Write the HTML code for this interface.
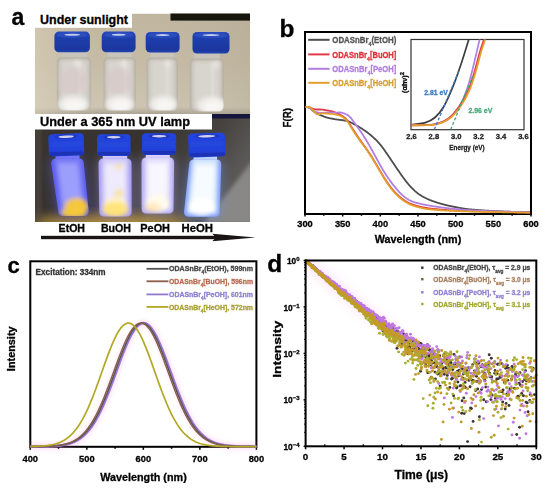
<!DOCTYPE html><html><head><meta charset="utf-8"><style>html,body{margin:0;padding:0;background:#fff;width:550px;height:492px;overflow:hidden}svg{display:block;filter:blur(0.45px)}text{font-family:"Liberation Sans",sans-serif}</style></head><body>
<svg width="550" height="492" viewBox="0 0 550 492">
<defs>
<filter id="bl1" x="-20%" y="-20%" width="140%" height="140%"><feGaussianBlur stdDeviation="0.8"/></filter>
<filter id="bl2" x="-30%" y="-30%" width="160%" height="160%"><feGaussianBlur stdDeviation="2"/></filter>
<filter id="bl4" x="-50%" y="-50%" width="200%" height="200%"><feGaussianBlur stdDeviation="4"/></filter>
<filter id="bl6" x="-50%" y="-50%" width="200%" height="200%"><feGaussianBlur stdDeviation="6"/></filter>
<linearGradient id="bg1" x1="0" y1="0" x2="0" y2="1">
 <stop offset="0" stop-color="#c0b6a0"/><stop offset="0.5" stop-color="#c6bca6"/><stop offset="0.93" stop-color="#cec6b2"/><stop offset="1" stop-color="#aaa292"/>
</linearGradient>
<linearGradient id="bg2" x1="0" y1="0" x2="1" y2="0.35">
 <stop offset="0" stop-color="#3a3430"/><stop offset="0.5" stop-color="#36322f"/><stop offset="0.8" stop-color="#45423f"/><stop offset="1" stop-color="#5a5856"/>
</linearGradient>
<linearGradient id="bg1r" x1="0" y1="0" x2="1" y2="0">
 <stop offset="0" stop-color="#dcd2bc" stop-opacity="0.55"/><stop offset="0.3" stop-color="#c8c0b0" stop-opacity="0"/><stop offset="1" stop-color="#a89e8a" stop-opacity="0.3"/>
</linearGradient>
<filter id="bl07" x="-20%" y="-20%" width="140%" height="140%"><feGaussianBlur stdDeviation="0.7"/></filter>
<linearGradient id="cap" x1="0" y1="0" x2="0" y2="1">
 <stop offset="0" stop-color="#2a48bc"/><stop offset="0.3" stop-color="#1f3eac"/><stop offset="0.85" stop-color="#1a379e"/><stop offset="1" stop-color="#2444b0"/>
</linearGradient>
<linearGradient id="capuv" x1="0" y1="0" x2="0" y2="1">
 <stop offset="0" stop-color="#2444e0"/><stop offset="0.7" stop-color="#2242dc"/><stop offset="1" stop-color="#1e3ac8"/>
</linearGradient>
</defs>
<text x="11.50" y="24.80" font-size="23.00" fill="#000" text-anchor="start" font-weight="bold" stroke="#000" stroke-width="0.30" >a</text>
<clipPath id="p1"><rect x="35" y="13.6" width="215" height="100.4"/></clipPath>
<g clip-path="url(#p1)">
<rect x="35" y="13.6" width="215" height="100.4" fill="url(#bg1)"/>
<rect x="35" y="13.6" width="215" height="100.4" fill="url(#bg1r)"/>
<rect x="170.5" y="12" width="82" height="8.6" fill="#15120f" filter="url(#bl07)"/>
<clipPath id="v1c1"><rect x="56.8" y="57.3" width="34.3" height="53.2" rx="5" ry="5"/></clipPath>
<g filter="url(#bl07)">
<rect x="60.8" y="51.3" width="26.3" height="7.0" fill="#c8c4bc"/>
<rect x="56.8" y="57.3" width="34.3" height="53.2" rx="5" ry="5" fill="#b4aea2"/>
</g>
<g clip-path="url(#v1c1)">
<g filter="url(#bl1)">
<rect x="58.3" y="58.8" width="31.3" height="50.2" rx="4" fill="#cfcbc3"/>
<rect x="61.8" y="61.3" width="24.3" height="45.2" rx="4" fill="#d8d4ce"/>
<rect x="78.1" y="61.3" width="3.0" height="37.2" fill="#e2dfda" opacity="0.8"/>
</g><g filter="url(#bl2)">
<ellipse cx="72.2" cy="81.3" rx="14.1" ry="13.0" fill="#d8c4c8" opacity="0.5"/>
<ellipse cx="73.2" cy="104.5" rx="15.1" ry="9.0" fill="#efedea"/>
<ellipse cx="74.2" cy="105.5" rx="10.1" ry="5.5" fill="#f8f7f4"/>
<ellipse cx="77.2" cy="63.3" rx="3.0" ry="3.0" fill="#eeece8" opacity="0.9"/>
</g></g>
<g filter="url(#bl07)">
<rect x="54.4" y="31.6" width="35.5" height="20.7" rx="4.5" fill="url(#cap)"/>
<ellipse cx="72.2" cy="35.0" rx="15.3" ry="3.0" fill="#3050c0" opacity="0.8"/>
<ellipse cx="72.2" cy="34.8" rx="7.8" ry="1.0" fill="#d8e0f8" opacity="0.85"/>
</g>
<clipPath id="v1c2"><rect x="103.5" y="57.3" width="32.3" height="53.3" rx="5" ry="5"/></clipPath>
<g filter="url(#bl07)">
<rect x="107.5" y="51.3" width="24.3" height="7.0" fill="#c8c4bc"/>
<rect x="103.5" y="57.3" width="32.3" height="53.3" rx="5" ry="5" fill="#b4aea2"/>
</g>
<g clip-path="url(#v1c2)">
<g filter="url(#bl1)">
<rect x="105.0" y="58.8" width="29.3" height="50.3" rx="4" fill="#cfcbc3"/>
<rect x="108.5" y="61.3" width="22.3" height="45.3" rx="4" fill="#d8d4ce"/>
<rect x="123.5" y="61.3" width="3.0" height="37.3" fill="#e2dfda" opacity="0.8"/>
</g><g filter="url(#bl2)">
<ellipse cx="118.7" cy="81.3" rx="13.2" ry="13.0" fill="#d8c4c8" opacity="0.5"/>
<ellipse cx="119.7" cy="104.6" rx="14.2" ry="9.0" fill="#efedea"/>
<ellipse cx="120.7" cy="105.6" rx="9.2" ry="5.5" fill="#f8f7f4"/>
<ellipse cx="123.7" cy="63.3" rx="3.0" ry="3.0" fill="#eeece8" opacity="0.9"/>
</g></g>
<g filter="url(#bl07)">
<rect x="101.7" y="31.6" width="33.9" height="20.7" rx="4.5" fill="url(#cap)"/>
<ellipse cx="118.7" cy="35.0" rx="14.4" ry="3.0" fill="#3050c0" opacity="0.8"/>
<ellipse cx="118.7" cy="34.8" rx="6.9" ry="1.0" fill="#d8e0f8" opacity="0.85"/>
</g>
<clipPath id="v1c3"><rect x="146.5" y="57.6" width="31.3" height="53.0" rx="5" ry="5"/></clipPath>
<g filter="url(#bl07)">
<rect x="150.5" y="51.6" width="23.3" height="7.0" fill="#c8c4bc"/>
<rect x="146.5" y="57.6" width="31.3" height="53.0" rx="5" ry="5" fill="#b4aea2"/>
</g>
<g clip-path="url(#v1c3)">
<g filter="url(#bl1)">
<rect x="148.0" y="59.1" width="28.3" height="50.0" rx="4" fill="#cfcbc3"/>
<rect x="151.5" y="61.6" width="21.3" height="45.0" rx="4" fill="#d8d4ce"/>
<rect x="165.9" y="61.6" width="3.0" height="37.0" fill="#e2dfda" opacity="0.8"/>
</g><g filter="url(#bl2)">
<ellipse cx="163.6" cy="104.6" rx="13.7" ry="9.0" fill="#efedea"/>
<ellipse cx="164.6" cy="105.6" rx="8.7" ry="5.5" fill="#f8f7f4"/>
<ellipse cx="167.6" cy="63.6" rx="3.0" ry="3.0" fill="#eeece8" opacity="0.9"/>
</g></g>
<g filter="url(#bl07)">
<rect x="145.7" y="31.9" width="33.9" height="20.7" rx="4.5" fill="url(#cap)"/>
<ellipse cx="162.6" cy="35.3" rx="14.5" ry="3.0" fill="#3050c0" opacity="0.8"/>
<ellipse cx="162.6" cy="35.1" rx="7.0" ry="1.0" fill="#d8e0f8" opacity="0.85"/>
</g>
<clipPath id="v1c4"><rect x="189.8" y="58.6" width="33.8" height="53.0" rx="5" ry="5"/></clipPath>
<g filter="url(#bl07)">
<rect x="193.8" y="52.6" width="25.8" height="7.0" fill="#c8c4bc"/>
<rect x="189.8" y="58.6" width="33.8" height="53.0" rx="5" ry="5" fill="#b4aea2"/>
</g>
<g clip-path="url(#v1c4)">
<g filter="url(#bl1)">
<rect x="191.3" y="60.1" width="30.8" height="50.0" rx="4" fill="#cfcbc3"/>
<rect x="194.8" y="62.6" width="23.8" height="45.0" rx="4" fill="#d8d4ce"/>
<rect x="210.8" y="62.6" width="3.0" height="37.0" fill="#e2dfda" opacity="0.8"/>
</g><g filter="url(#bl2)">
<ellipse cx="212.0" cy="105.6" rx="14.9" ry="9.0" fill="#efedea"/>
<ellipse cx="213.0" cy="106.6" rx="9.9" ry="5.5" fill="#f8f7f4"/>
<ellipse cx="216.0" cy="64.6" rx="3.0" ry="3.0" fill="#eeece8" opacity="0.9"/>
</g></g>
<g filter="url(#bl07)">
<rect x="192.5" y="31.9" width="37.0" height="21.7" rx="4.5" fill="url(#cap)"/>
<ellipse cx="211.0" cy="35.3" rx="16.0" ry="3.0" fill="#3050c0" opacity="0.8"/>
<ellipse cx="211.0" cy="35.1" rx="8.5" ry="1.0" fill="#d8e0f8" opacity="0.85"/>
</g>
</g>
<rect x="35" y="0" width="97" height="27.8" fill="#fff"/>
<text x="40.00" y="23.60" font-size="13.20" fill="#000" text-anchor="start" font-weight="bold" textLength="88.0" lengthAdjust="spacingAndGlyphs" stroke="#000" stroke-width="0.30" >Under sunlight</text>
<clipPath id="p2"><rect x="35" y="114" width="215" height="108"/></clipPath>
<g clip-path="url(#p2)">
<rect x="35" y="114" width="215" height="108" fill="url(#bg2)"/>
<path d="M203,224 L253,160 L253,224 Z" fill="#8a8886" filter="url(#bl2)"/>
<rect x="212" y="114" width="40" height="4.5" fill="#16163c"/>
<ellipse cx="110" cy="223" rx="80" ry="8" fill="#e0b040" opacity="0.75" filter="url(#bl6)"/>
<rect x="35" y="114" width="6" height="108" fill="#5a524a" opacity="0.5" filter="url(#bl2)"/>
<rect x="55.5" y="154.0" width="24.0" height="6.5" fill="#7a7cf6" filter="url(#bl07)"/>
<path d="M56.5,158.5 Q51.2,158.5 51.2,163.5 L58.2,211.0 Q58.2,216.0 63.2,216.0 L83.7,216.0 Q88.7,216.0 88.7,211.0 L83.8,163.5 Q83.8,158.5 78.5,158.5 Z" fill="#6062ff" opacity="0.55" filter="url(#bl6)"/>
<clipPath id="v2c5"><path d="M56.5,158.5 Q51.2,158.5 51.2,163.5 L58.2,211.0 Q58.2,216.0 63.2,216.0 L83.7,216.0 Q88.7,216.0 88.7,211.0 L83.8,163.5 Q83.8,158.5 78.5,158.5 Z"/></clipPath>
<path d="M56.5,158.5 Q51.2,158.5 51.2,163.5 L58.2,211.0 Q58.2,216.0 63.2,216.0 L83.7,216.0 Q88.7,216.0 88.7,211.0 L83.8,163.5 Q83.8,158.5 78.5,158.5 Z" fill="#5a5cec" filter="url(#bl07)"/>
<g clip-path="url(#v2c5)"><g filter="url(#bl2)">
<path d="M54.0,156.5 L81.0,156.5 L86.2,213.5 L60.7,213.5 Z" fill="#7a7cf6"/>
<path d="M57.5,163.5 L77.5,163.5 L82.7,211.0 L64.2,211.0 Z" fill="#9c9efc"/>
<ellipse cx="76.5" cy="206.8" rx="12.0" ry="9.0" fill="#f6c83a" opacity="0.95"/>
<ellipse cx="73.5" cy="213.1" rx="13.0" ry="5.0" fill="#f6c83a" opacity="0.95"/>
<ellipse cx="79.5" cy="203.3" rx="5.0" ry="4.0" fill="#f6c83a" opacity="0.90"/>
</g></g>
<g filter="url(#bl07)">
<g transform="rotate(-2.0 66.3 144.8)">
<rect x="48.6" y="133.7" width="35.4" height="22.3" rx="4" fill="url(#capuv)"/>
<ellipse cx="66.3" cy="136.7" rx="11.7" ry="2.4" fill="#1a30b0" opacity="0.5"/>
<ellipse cx="66.3" cy="136.7" rx="7.7" ry="1.3" fill="#dcd8f0" opacity="0.95"/>
<rect x="50.6" y="141.7" width="31.4" height="5.0" fill="#3450d8" opacity="0.35"/>
<rect x="49.6" y="152.0" width="33.4" height="3.0" fill="#1a2ca0" opacity="0.6"/>
</g></g>
<rect x="102.8" y="154.0" width="24.4" height="6.5" fill="#d4cefa" filter="url(#bl07)"/>
<path d="M103.8,158.5 Q98.5,158.5 98.5,163.5 L99.3,211.5 Q99.3,216.5 104.3,216.5 L126.6,216.5 Q131.6,216.5 131.6,211.5 L131.5,163.5 Q131.5,158.5 126.2,158.5 Z" fill="#a898ff" opacity="0.55" filter="url(#bl6)"/>
<clipPath id="v2c6"><path d="M103.8,158.5 Q98.5,158.5 98.5,163.5 L99.3,211.5 Q99.3,216.5 104.3,216.5 L126.6,216.5 Q131.6,216.5 131.6,211.5 L131.5,163.5 Q131.5,158.5 126.2,158.5 Z"/></clipPath>
<path d="M103.8,158.5 Q98.5,158.5 98.5,163.5 L99.3,211.5 Q99.3,216.5 104.3,216.5 L126.6,216.5 Q131.6,216.5 131.6,211.5 L131.5,163.5 Q131.5,158.5 126.2,158.5 Z" fill="#a098f2" filter="url(#bl07)"/>
<g clip-path="url(#v2c6)"><g filter="url(#bl2)">
<path d="M101.3,156.5 L128.7,156.5 L129.1,214.0 L101.8,214.0 Z" fill="#d4cefa"/>
<path d="M104.8,163.5 L125.2,163.5 L125.6,211.5 L105.3,211.5 Z" fill="#efeafc"/>
<ellipse cx="115.4" cy="206.5" rx="12.1" ry="9.0" fill="#fff4c8"/>
<ellipse cx="118.7" cy="166.6" rx="3.5" ry="2.5" fill="#ffe070" opacity="0.70"/>
<ellipse cx="118.7" cy="193.3" rx="5.0" ry="4.0" fill="#ffe070" opacity="0.60"/>
<ellipse cx="115.4" cy="209.5" rx="13.0" ry="8.0" fill="#ffe070" opacity="0.85"/>
</g></g>
<g filter="url(#bl07)">
<g transform="rotate(0.0 113.8 145.1)">
<rect x="97.0" y="134.2" width="33.6" height="21.8" rx="4" fill="url(#capuv)"/>
<ellipse cx="113.8" cy="137.2" rx="10.8" ry="2.4" fill="#1a30b0" opacity="0.5"/>
<ellipse cx="113.8" cy="137.2" rx="6.8" ry="1.3" fill="#dcd8f0" opacity="0.95"/>
<rect x="99.0" y="142.2" width="29.6" height="5.0" fill="#3450d8" opacity="0.35"/>
<rect x="98.0" y="152.0" width="31.6" height="3.0" fill="#1a2ca0" opacity="0.6"/>
</g></g>
<rect x="145.8" y="153.0" width="24.0" height="6.5" fill="#e2dcfb" filter="url(#bl07)"/>
<path d="M146.8,157.5 Q141.5,157.5 141.5,162.5 L141.6,208.5 Q141.6,213.5 146.6,213.5 L168.5,213.5 Q173.5,213.5 173.5,208.5 L174.1,162.5 Q174.1,157.5 168.8,157.5 Z" fill="#b0a8ff" opacity="0.55" filter="url(#bl6)"/>
<clipPath id="v2c7"><path d="M146.8,157.5 Q141.5,157.5 141.5,162.5 L141.6,208.5 Q141.6,213.5 146.6,213.5 L168.5,213.5 Q173.5,213.5 173.5,208.5 L174.1,162.5 Q174.1,157.5 168.8,157.5 Z"/></clipPath>
<path d="M146.8,157.5 Q141.5,157.5 141.5,162.5 L141.6,208.5 Q141.6,213.5 146.6,213.5 L168.5,213.5 Q173.5,213.5 173.5,208.5 L174.1,162.5 Q174.1,157.5 168.8,157.5 Z" fill="#b0a8f4" filter="url(#bl07)"/>
<g clip-path="url(#v2c7)"><g filter="url(#bl2)">
<path d="M144.3,155.5 L171.3,155.5 L171.0,211.0 L144.1,211.0 Z" fill="#e2dcfb"/>
<path d="M147.8,162.5 L167.8,162.5 L167.5,208.5 L147.6,208.5 Z" fill="#f8f6fe"/>
<ellipse cx="157.6" cy="203.5" rx="12.0" ry="9.0" fill="#fffbea"/>
<ellipse cx="152.8" cy="207.9" rx="8.0" ry="5.0" fill="#ffd890" opacity="0.50"/>
</g></g>
<g filter="url(#bl07)">
<g transform="rotate(0.0 159.1 144.1)">
<rect x="142.0" y="133.2" width="34.2" height="21.8" rx="4" fill="url(#capuv)"/>
<ellipse cx="159.1" cy="136.2" rx="11.1" ry="2.4" fill="#1a30b0" opacity="0.5"/>
<ellipse cx="159.1" cy="136.2" rx="7.1" ry="1.3" fill="#dcd8f0" opacity="0.95"/>
<rect x="144.0" y="141.2" width="30.2" height="5.0" fill="#3450d8" opacity="0.35"/>
<rect x="143.0" y="151.0" width="32.2" height="3.0" fill="#1a2ca0" opacity="0.6"/>
</g></g>
<rect x="193.5" y="155.0" width="23.5" height="6.5" fill="#d4e6fd" filter="url(#bl07)"/>
<path d="M194.5,159.5 Q189.2,159.5 189.2,164.5 L184.0,211.8 Q184.0,216.8 189.0,216.8 L214.7,216.8 Q219.7,216.8 219.7,211.8 L221.3,164.5 Q221.3,159.5 216.0,159.5 Z" fill="#6a90ff" opacity="0.55" filter="url(#bl6)"/>
<clipPath id="v2c8"><path d="M194.5,159.5 Q189.2,159.5 189.2,164.5 L184.0,211.8 Q184.0,216.8 189.0,216.8 L214.7,216.8 Q219.7,216.8 219.7,211.8 L221.3,164.5 Q221.3,159.5 216.0,159.5 Z"/></clipPath>
<path d="M194.5,159.5 Q189.2,159.5 189.2,164.5 L184.0,211.8 Q184.0,216.8 189.0,216.8 L214.7,216.8 Q219.7,216.8 219.7,211.8 L221.3,164.5 Q221.3,159.5 216.0,159.5 Z" fill="#7c9af6" filter="url(#bl07)"/>
<g clip-path="url(#v2c8)"><g filter="url(#bl2)">
<path d="M192.0,157.5 L218.5,157.5 L217.2,214.3 L186.5,214.3 Z" fill="#d4e6fd"/>
<path d="M195.5,164.5 L215.0,164.5 L213.7,211.8 L190.0,211.8 Z" fill="#f6fbff"/>
<ellipse cx="201.8" cy="206.8" rx="13.8" ry="9.0" fill="#ffffff"/>
</g></g>
<g filter="url(#bl07)">
<g transform="rotate(-1.5 206.9 145.1)">
<rect x="188.4" y="133.2" width="36.9" height="23.8" rx="4" fill="url(#capuv)"/>
<ellipse cx="206.9" cy="136.2" rx="12.5" ry="2.4" fill="#1a30b0" opacity="0.5"/>
<ellipse cx="206.9" cy="136.2" rx="8.5" ry="1.3" fill="#dcd8f0" opacity="0.95"/>
<rect x="190.4" y="141.2" width="32.9" height="5.0" fill="#3450d8" opacity="0.35"/>
<rect x="189.4" y="153.0" width="34.9" height="3.0" fill="#1a2ca0" opacity="0.6"/>
</g></g>
</g>
<rect x="35" y="114" width="177" height="15.5" fill="#fff"/>
<text x="40.00" y="126.40" font-size="13.20" fill="#000" text-anchor="start" font-weight="bold" textLength="150.0" lengthAdjust="spacingAndGlyphs" stroke="#000" stroke-width="0.30" >Under a 365 nm UV lamp</text>
<text x="58.60" y="232.20" font-size="10.60" fill="#000" text-anchor="start" font-weight="bold" textLength="26.4" lengthAdjust="spacingAndGlyphs" stroke="#000" stroke-width="0.30" >EtOH</text>
<text x="100.90" y="232.20" font-size="10.60" fill="#000" text-anchor="start" font-weight="bold" textLength="30.0" lengthAdjust="spacingAndGlyphs" stroke="#000" stroke-width="0.30" >BuOH</text>
<text x="140.30" y="232.20" font-size="10.60" fill="#000" text-anchor="start" font-weight="bold" textLength="29.7" lengthAdjust="spacingAndGlyphs" stroke="#000" stroke-width="0.30" >PeOH</text>
<text x="181.50" y="232.20" font-size="10.60" fill="#000" text-anchor="start" font-weight="bold" textLength="31.5" lengthAdjust="spacingAndGlyphs" stroke="#000" stroke-width="0.30" >HeOH</text>
<rect x="41" y="235.8" width="175" height="3.4" fill="#1a1414"/>
<path d="M212.3,233.7 L255.5,237.4 L212.3,241.3 L216,237.4 Z" fill="#1a1414"/>
<text x="279.60" y="37.00" font-size="24.50" fill="#000" text-anchor="start" font-weight="bold" stroke="#000" stroke-width="0.30" >b</text>
<rect x="305.0" y="32.0" width="226.0" height="182.0" fill="none" stroke="#000" stroke-width="2"/>
<line x1="305.00" y1="214.0" x2="305.00" y2="216.5" stroke="#000" stroke-width="1.5"/>
<line x1="323.83" y1="214.0" x2="323.83" y2="215.8" stroke="#000" stroke-width="1.5"/>
<line x1="342.67" y1="214.0" x2="342.67" y2="216.5" stroke="#000" stroke-width="1.5"/>
<line x1="361.50" y1="214.0" x2="361.50" y2="215.8" stroke="#000" stroke-width="1.5"/>
<line x1="380.33" y1="214.0" x2="380.33" y2="216.5" stroke="#000" stroke-width="1.5"/>
<line x1="399.17" y1="214.0" x2="399.17" y2="215.8" stroke="#000" stroke-width="1.5"/>
<line x1="418.00" y1="214.0" x2="418.00" y2="216.5" stroke="#000" stroke-width="1.5"/>
<line x1="436.83" y1="214.0" x2="436.83" y2="215.8" stroke="#000" stroke-width="1.5"/>
<line x1="455.67" y1="214.0" x2="455.67" y2="216.5" stroke="#000" stroke-width="1.5"/>
<line x1="474.50" y1="214.0" x2="474.50" y2="215.8" stroke="#000" stroke-width="1.5"/>
<line x1="493.33" y1="214.0" x2="493.33" y2="216.5" stroke="#000" stroke-width="1.5"/>
<line x1="512.17" y1="214.0" x2="512.17" y2="215.8" stroke="#000" stroke-width="1.5"/>
<line x1="531.00" y1="214.0" x2="531.00" y2="216.5" stroke="#000" stroke-width="1.5"/>
<text x="305.00" y="227.40" font-size="9.80" fill="#000" text-anchor="middle" font-weight="bold" textLength="15.5" lengthAdjust="spacingAndGlyphs" stroke="#000" stroke-width="0.30" >300</text>
<text x="342.67" y="227.40" font-size="9.80" fill="#000" text-anchor="middle" font-weight="bold" textLength="15.5" lengthAdjust="spacingAndGlyphs" stroke="#000" stroke-width="0.30" >350</text>
<text x="380.33" y="227.40" font-size="9.80" fill="#000" text-anchor="middle" font-weight="bold" textLength="15.5" lengthAdjust="spacingAndGlyphs" stroke="#000" stroke-width="0.30" >400</text>
<text x="418.00" y="227.40" font-size="9.80" fill="#000" text-anchor="middle" font-weight="bold" textLength="15.5" lengthAdjust="spacingAndGlyphs" stroke="#000" stroke-width="0.30" >450</text>
<text x="455.67" y="227.40" font-size="9.80" fill="#000" text-anchor="middle" font-weight="bold" textLength="15.5" lengthAdjust="spacingAndGlyphs" stroke="#000" stroke-width="0.30" >500</text>
<text x="493.33" y="227.40" font-size="9.80" fill="#000" text-anchor="middle" font-weight="bold" textLength="15.5" lengthAdjust="spacingAndGlyphs" stroke="#000" stroke-width="0.30" >550</text>
<text x="531.00" y="227.40" font-size="9.80" fill="#000" text-anchor="middle" font-weight="bold" textLength="15.5" lengthAdjust="spacingAndGlyphs" stroke="#000" stroke-width="0.30" >600</text>
<text x="418.00" y="243.40" font-size="11.00" fill="#000" text-anchor="middle" font-weight="bold" textLength="86.5" lengthAdjust="spacingAndGlyphs" stroke="#000" stroke-width="0.30" >Wavelength (nm)</text>
<g transform="translate(291.2,117.7) rotate(-90)">
<text x="0.00" y="0.00" font-size="10.50" fill="#000" text-anchor="middle" font-weight="bold" textLength="19.4" lengthAdjust="spacingAndGlyphs" stroke="#000" stroke-width="0.30" >F(R)</text>
</g>
<path d="M305.50,106.96 L306.00,107.01 L306.50,107.07 L307.00,107.14 L307.50,107.22 L308.00,107.33 L308.50,107.45 L309.00,107.61 L309.50,107.82 L310.00,108.09 L310.50,108.43 L311.00,108.83 L311.50,109.28 L312.00,109.76 L312.50,110.25 L313.00,110.74 L313.50,111.21 L314.00,111.65 L314.50,112.05 L315.00,112.41 L315.50,112.72 L316.00,113.01 L316.50,113.27 L317.00,113.52 L317.50,113.77 L318.00,114.02 L318.50,114.26 L319.00,114.50 L319.50,114.73 L320.00,114.95 L320.50,115.17 L321.00,115.37 L321.50,115.57 L322.00,115.77 L322.50,115.96 L323.00,116.16 L323.50,116.35 L324.00,116.54 L324.50,116.73 L325.00,116.92 L325.50,117.11 L326.00,117.29 L326.50,117.46 L327.00,117.61 L327.50,117.74 L328.00,117.87 L328.50,117.98 L329.00,118.08 L329.50,118.18 L330.00,118.27 L330.50,118.37 L331.00,118.47 L331.50,118.56 L332.00,118.66 L332.50,118.75 L333.00,118.85 L333.50,118.94 L334.00,119.04 L334.50,119.13 L335.00,119.23 L335.50,119.31 L336.00,119.40 L336.50,119.48 L337.00,119.55 L337.50,119.61 L338.00,119.67 L338.50,119.73 L339.00,119.79 L339.50,119.84 L340.00,119.90 L340.50,119.96 L341.00,120.01 L341.50,120.07 L342.00,120.13 L342.50,120.19 L343.00,120.26 L343.50,120.33 L344.00,120.41 L344.50,120.50 L345.00,120.59 L345.50,120.69 L346.00,120.79 L346.50,120.90 L347.00,121.01 L347.50,121.14 L348.00,121.29 L348.50,121.46 L349.00,121.65 L349.50,121.86 L350.00,122.08 L350.50,122.32 L351.00,122.56 L351.50,122.81 L352.00,123.06 L352.50,123.32 L353.00,123.59 L353.50,123.85 L354.00,124.12 L354.50,124.40 L355.00,124.67 L355.50,124.95 L356.00,125.22 L356.50,125.51 L357.00,125.79 L357.50,126.08 L358.00,126.37 L358.50,126.65 L359.00,126.94 L359.50,127.24 L360.00,127.54 L360.50,127.84 L361.00,128.14 L361.50,128.45 L362.00,128.76 L362.50,129.08 L363.00,129.41 L363.50,129.74 L364.00,130.07 L364.50,130.41 L365.00,130.76 L365.50,131.11 L366.00,131.47 L366.50,131.84 L367.00,132.21 L367.50,132.58 L368.00,132.97 L368.50,133.35 L369.00,133.75 L369.50,134.15 L370.00,134.56 L370.50,134.97 L371.00,135.39 L371.50,135.81 L372.00,136.24 L372.50,136.68 L373.00,137.13 L373.50,137.58 L374.00,138.04 L374.50,138.51 L375.00,138.98 L375.50,139.47 L376.00,139.96 L376.50,140.46 L377.00,140.97 L377.50,141.50 L378.00,142.03 L378.50,142.58 L379.00,143.14 L379.50,143.72 L380.00,144.30 L380.50,144.91 L381.00,145.53 L381.50,146.16 L382.00,146.80 L382.50,147.46 L383.00,148.14 L383.50,148.83 L384.00,149.52 L384.50,150.23 L385.00,150.95 L385.50,151.67 L386.00,152.40 L386.50,153.13 L387.00,153.87 L387.50,154.61 L388.00,155.36 L388.50,156.10 L389.00,156.84 L389.50,157.59 L390.00,158.33 L390.50,159.07 L391.00,159.81 L391.50,160.55 L392.00,161.29 L392.50,162.03 L393.00,162.77 L393.50,163.51 L394.00,164.25 L394.50,164.99 L395.00,165.72 L395.50,166.46 L396.00,167.20 L396.50,167.93 L397.00,168.67 L397.50,169.40 L398.00,170.13 L398.50,170.86 L399.00,171.58 L399.50,172.31 L400.00,173.03 L400.50,173.74 L401.00,174.45 L401.50,175.16 L402.00,175.86 L402.50,176.56 L403.00,177.25 L403.50,177.93 L404.00,178.61 L404.50,179.28 L405.00,179.95 L405.50,180.60 L406.00,181.25 L406.50,181.89 L407.00,182.51 L407.50,183.13 L408.00,183.74 L408.50,184.34 L409.00,184.93 L409.50,185.50 L410.00,186.07 L410.50,186.62 L411.00,187.16 L411.50,187.69 L412.00,188.21 L412.50,188.72 L413.00,189.21 L413.50,189.69 L414.00,190.16 L414.50,190.62 L415.00,191.07 L415.50,191.50 L416.00,191.92 L416.50,192.33 L417.00,192.73 L417.50,193.12 L418.00,193.50 L418.50,193.86 L419.00,194.22 L419.50,194.56 L420.00,194.90 L420.50,195.23 L421.00,195.55 L421.50,195.86 L422.00,196.16 L422.50,196.45 L423.00,196.74 L423.50,197.02 L424.00,197.29 L424.50,197.55 L425.00,197.81 L425.50,198.06 L426.00,198.30 L426.50,198.54 L427.00,198.77 L427.50,198.99 L428.00,199.21 L428.50,199.42 L429.00,199.63 L429.50,199.83 L430.00,200.04 L430.50,200.23 L431.00,200.43 L431.50,200.62 L432.00,200.80 L432.50,200.99 L433.00,201.17 L433.50,201.35 L434.00,201.52 L434.50,201.70 L435.00,201.87 L435.50,202.04 L436.00,202.21 L436.50,202.37 L437.00,202.53 L437.50,202.69 L438.00,202.85 L438.50,203.01 L439.00,203.16 L439.50,203.31 L440.00,203.46 L440.50,203.61 L441.00,203.76 L441.50,203.90 L442.00,204.04 L442.50,204.18 L443.00,204.32 L443.50,204.45 L444.00,204.58 L444.50,204.71 L445.00,204.84 L445.50,204.96 L446.00,205.09 L446.50,205.20 L447.00,205.32 L447.50,205.44 L448.00,205.55 L448.50,205.66 L449.00,205.77 L449.50,205.87 L450.00,205.98 L450.50,206.08 L451.00,206.19 L451.50,206.29 L452.00,206.39 L452.50,206.50 L453.00,206.60 L453.50,206.70 L454.00,206.80 L454.50,206.90 L455.00,207.00 L455.50,207.10 L456.00,207.20 L456.50,207.30 L457.00,207.40 L457.50,207.49 L458.00,207.59 L458.50,207.69 L459.00,207.79 L459.50,207.88 L460.00,207.98 L460.50,208.07 L461.00,208.16 L461.50,208.25 L462.00,208.34 L462.50,208.42 L463.00,208.51 L463.50,208.59 L464.00,208.66 L464.50,208.74 L465.00,208.81 L465.50,208.88 L466.00,208.94 L466.50,209.01 L467.00,209.07 L467.50,209.12 L468.00,209.18 L468.50,209.23 L469.00,209.28 L469.50,209.33 L470.00,209.38 L470.50,209.42 L471.00,209.47 L471.50,209.51 L472.00,209.55 L472.50,209.59 L473.00,209.64 L473.50,209.68 L474.00,209.72 L474.50,209.76 L475.00,209.80 L475.50,209.84 L476.00,209.88 L476.50,209.92 L477.00,209.96 L477.50,210.00 L478.00,210.04 L478.50,210.08 L479.00,210.12 L479.50,210.16 L480.00,210.19 L480.50,210.23 L481.00,210.27 L481.50,210.31 L482.00,210.34 L482.50,210.38 L483.00,210.42 L483.50,210.45 L484.00,210.49 L484.50,210.52 L485.00,210.55 L485.50,210.58 L486.00,210.62 L486.50,210.65 L487.00,210.68 L487.50,210.71 L488.00,210.73 L488.50,210.76 L489.00,210.79 L489.50,210.82 L490.00,210.84 L490.50,210.87 L491.00,210.90 L491.50,210.92 L492.00,210.95 L492.50,210.97 L493.00,211.00 L493.50,211.02 L494.00,211.05 L494.50,211.07 L495.00,211.10 L495.50,211.12 L496.00,211.15 L496.50,211.17 L497.00,211.20 L497.50,211.22 L498.00,211.25 L498.50,211.27 L499.00,211.30 L499.50,211.32 L500.00,211.35 L500.50,211.37 L501.00,211.39 L501.50,211.42 L502.00,211.44 L502.50,211.46 L503.00,211.49 L503.50,211.51 L504.00,211.53 L504.50,211.55 L505.00,211.57 L505.50,211.59 L506.00,211.61 L506.50,211.63 L507.00,211.65 L507.50,211.67 L508.00,211.69 L508.50,211.70 L509.00,211.72 L509.50,211.74 L510.00,211.76 L510.50,211.77 L511.00,211.79 L511.50,211.81 L512.00,211.82 L512.50,211.84 L513.00,211.86 L513.50,211.87 L514.00,211.89 L514.50,211.90 L515.00,211.92 L515.50,211.94 L516.00,211.95 L516.50,211.97 L517.00,211.98 L517.50,212.00 L518.00,212.02 L518.50,212.03 L519.00,212.05 L519.50,212.06 L520.00,212.08 L520.50,212.09 L521.00,212.11 L521.50,212.12 L522.00,212.14 L522.50,212.15 L523.00,212.17 L523.50,212.18 L524.00,212.19 L524.50,212.20 L525.00,212.22 L525.50,212.23 L526.00,212.24 L526.50,212.25 L527.00,212.26 L527.50,212.27 L528.00,212.27 L528.50,212.28 L529.00,212.29 L529.50,212.30 L530.00,212.30" fill="none" stroke="#4d4d4d" stroke-width="1.8" stroke-linejoin="round"/>
<path d="M305.50,106.93 L306.00,106.97 L306.50,107.02 L307.00,107.07 L307.50,107.14 L308.00,107.22 L308.50,107.30 L309.00,107.38 L309.50,107.47 L310.00,107.58 L310.50,107.71 L311.00,107.87 L311.50,108.05 L312.00,108.26 L312.50,108.48 L313.00,108.71 L313.50,108.92 L314.00,109.11 L314.50,109.26 L315.00,109.36 L315.50,109.43 L316.00,109.47 L316.50,109.49 L317.00,109.50 L317.50,109.50 L318.00,109.50 L318.50,109.50 L319.00,109.50 L319.50,109.50 L320.00,109.51 L320.50,109.52 L321.00,109.53 L321.50,109.56 L322.00,109.60 L322.50,109.66 L323.00,109.73 L323.50,109.80 L324.00,109.89 L324.50,109.97 L325.00,110.06 L325.50,110.15 L326.00,110.23 L326.50,110.32 L327.00,110.41 L327.50,110.49 L328.00,110.58 L328.50,110.67 L329.00,110.76 L329.50,110.84 L330.00,110.93 L330.50,111.02 L331.00,111.11 L331.50,111.22 L332.00,111.33 L332.50,111.46 L333.00,111.61 L333.50,111.79 L334.00,111.97 L334.50,112.17 L335.00,112.38 L335.50,112.59 L336.00,112.80 L336.50,113.01 L337.00,113.23 L337.50,113.44 L338.00,113.66 L338.50,113.87 L339.00,114.10 L339.50,114.34 L340.00,114.60 L340.50,114.87 L341.00,115.16 L341.50,115.46 L342.00,115.77 L342.50,116.09 L343.00,116.41 L343.50,116.75 L344.00,117.11 L344.50,117.51 L345.00,117.95 L345.50,118.43 L346.00,118.95 L346.50,119.52 L347.00,120.13 L347.50,120.78 L348.00,121.47 L348.50,122.19 L349.00,122.95 L349.50,123.73 L350.00,124.53 L350.50,125.34 L351.00,126.15 L351.50,126.96 L352.00,127.78 L352.50,128.58 L353.00,129.39 L353.50,130.18 L354.00,130.97 L354.50,131.76 L355.00,132.53 L355.50,133.30 L356.00,134.06 L356.50,134.81 L357.00,135.55 L357.50,136.29 L358.00,137.02 L358.50,137.75 L359.00,138.47 L359.50,139.19 L360.00,139.91 L360.50,140.62 L361.00,141.32 L361.50,142.02 L362.00,142.71 L362.50,143.41 L363.00,144.10 L363.50,144.79 L364.00,145.48 L364.50,146.18 L365.00,146.88 L365.50,147.58 L366.00,148.29 L366.50,149.00 L367.00,149.72 L367.50,150.45 L368.00,151.18 L368.50,151.92 L369.00,152.67 L369.50,153.43 L370.00,154.20 L370.50,154.97 L371.00,155.75 L371.50,156.54 L372.00,157.33 L372.50,158.14 L373.00,158.95 L373.50,159.76 L374.00,160.59 L374.50,161.42 L375.00,162.25 L375.50,163.09 L376.00,163.93 L376.50,164.78 L377.00,165.63 L377.50,166.49 L378.00,167.34 L378.50,168.20 L379.00,169.06 L379.50,169.92 L380.00,170.78 L380.50,171.63 L381.00,172.48 L381.50,173.33 L382.00,174.17 L382.50,175.01 L383.00,175.83 L383.50,176.65 L384.00,177.47 L384.50,178.27 L385.00,179.06 L385.50,179.84 L386.00,180.61 L386.50,181.37 L387.00,182.11 L387.50,182.85 L388.00,183.57 L388.50,184.28 L389.00,184.97 L389.50,185.66 L390.00,186.33 L390.50,186.98 L391.00,187.62 L391.50,188.25 L392.00,188.87 L392.50,189.47 L393.00,190.06 L393.50,190.63 L394.00,191.19 L394.50,191.74 L395.00,192.28 L395.50,192.80 L396.00,193.31 L396.50,193.81 L397.00,194.30 L397.50,194.78 L398.00,195.25 L398.50,195.71 L399.00,196.15 L399.50,196.59 L400.00,197.01 L400.50,197.43 L401.00,197.83 L401.50,198.23 L402.00,198.61 L402.50,198.98 L403.00,199.35 L403.50,199.70 L404.00,200.05 L404.50,200.39 L405.00,200.72 L405.50,201.03 L406.00,201.35 L406.50,201.65 L407.00,201.94 L407.50,202.22 L408.00,202.50 L408.50,202.76 L409.00,203.02 L409.50,203.26 L410.00,203.49 L410.50,203.72 L411.00,203.93 L411.50,204.14 L412.00,204.33 L412.50,204.52 L413.00,204.70 L413.50,204.87 L414.00,205.03 L414.50,205.19 L415.00,205.35 L415.50,205.49 L416.00,205.64 L416.50,205.78 L417.00,205.91 L417.50,206.05 L418.00,206.18 L418.50,206.31 L419.00,206.43 L419.50,206.56 L420.00,206.68 L420.50,206.80 L421.00,206.92 L421.50,207.03 L422.00,207.15 L422.50,207.26 L423.00,207.36 L423.50,207.47 L424.00,207.56 L424.50,207.66 L425.00,207.75 L425.50,207.84 L426.00,207.92 L426.50,208.00 L427.00,208.08 L427.50,208.15 L428.00,208.22 L428.50,208.28 L429.00,208.35 L429.50,208.41 L430.00,208.47 L430.50,208.53 L431.00,208.58 L431.50,208.64 L432.00,208.69 L432.50,208.74 L433.00,208.79 L433.50,208.85 L434.00,208.90 L434.50,208.95 L435.00,209.00 L435.50,209.05 L436.00,209.10 L436.50,209.15 L437.00,209.20 L437.50,209.25 L438.00,209.30 L438.50,209.35 L439.00,209.39 L439.50,209.44 L440.00,209.49 L440.50,209.54 L441.00,209.58 L441.50,209.63 L442.00,209.67 L442.50,209.72 L443.00,209.76 L443.50,209.80 L444.00,209.84 L444.50,209.88 L445.00,209.92 L445.50,209.96 L446.00,209.99 L446.50,210.03 L447.00,210.06 L447.50,210.09 L448.00,210.12 L448.50,210.15 L449.00,210.18 L449.50,210.21 L450.00,210.24 L450.50,210.27 L451.00,210.29 L451.50,210.32 L452.00,210.35 L452.50,210.37 L453.00,210.40 L453.50,210.42 L454.00,210.45 L454.50,210.47 L455.00,210.50 L455.50,210.52 L456.00,210.55 L456.50,210.57 L457.00,210.60 L457.50,210.62 L458.00,210.65 L458.50,210.67 L459.00,210.70 L459.50,210.72 L460.00,210.75 L460.50,210.77 L461.00,210.79 L461.50,210.82 L462.00,210.84 L462.50,210.86 L463.00,210.88 L463.50,210.90 L464.00,210.93 L464.50,210.95 L465.00,210.97 L465.50,210.99 L466.00,211.00 L466.50,211.02 L467.00,211.04 L467.50,211.06 L468.00,211.07 L468.50,211.09 L469.00,211.11 L469.50,211.12 L470.00,211.14 L470.50,211.15 L471.00,211.17 L471.50,211.18 L472.00,211.20 L472.50,211.21 L473.00,211.23 L473.50,211.24 L474.00,211.26 L474.50,211.27 L475.00,211.29 L475.50,211.30 L476.00,211.31 L476.50,211.33 L477.00,211.34 L477.50,211.36 L478.00,211.37 L478.50,211.39 L479.00,211.40 L479.50,211.41 L480.00,211.43 L480.50,211.44 L481.00,211.46 L481.50,211.47 L482.00,211.49 L482.50,211.50 L483.00,211.51 L483.50,211.53 L484.00,211.54 L484.50,211.56 L485.00,211.57 L485.50,211.59 L486.00,211.60 L486.50,211.61 L487.00,211.63 L487.50,211.64 L488.00,211.66 L488.50,211.67 L489.00,211.69 L489.50,211.70 L490.00,211.71 L490.50,211.73 L491.00,211.74 L491.50,211.76 L492.00,211.77 L492.50,211.79 L493.00,211.80 L493.50,211.81 L494.00,211.83 L494.50,211.84 L495.00,211.85 L495.50,211.87 L496.00,211.88 L496.50,211.90 L497.00,211.91 L497.50,211.92 L498.00,211.93 L498.50,211.95 L499.00,211.96 L499.50,211.97 L500.00,211.98 L500.50,211.99 L501.00,212.00 L501.50,212.01 L502.00,212.02 L502.50,212.03 L503.00,212.04 L503.50,212.05 L504.00,212.06 L504.50,212.07 L505.00,212.08 L505.50,212.09 L506.00,212.10 L506.50,212.11 L507.00,212.12 L507.50,212.12 L508.00,212.13 L508.50,212.14 L509.00,212.15 L509.50,212.16 L510.00,212.17 L510.50,212.17 L511.00,212.18 L511.50,212.19 L512.00,212.20 L512.50,212.21 L513.00,212.22 L513.50,212.22 L514.00,212.23 L514.50,212.24 L515.00,212.25 L515.50,212.26 L516.00,212.27 L516.50,212.27 L517.00,212.28 L517.50,212.29 L518.00,212.30 L518.50,212.31 L519.00,212.32 L519.50,212.32 L520.00,212.33 L520.50,212.34 L521.00,212.35 L521.50,212.36 L522.00,212.36 L522.50,212.37 L523.00,212.38 L523.50,212.38 L524.00,212.39 L524.50,212.40 L525.00,212.40 L525.50,212.41 L526.00,212.42 L526.50,212.42 L527.00,212.43 L527.50,212.43 L528.00,212.43 L528.50,212.44 L529.00,212.44 L529.50,212.45 L530.00,212.45" fill="none" stroke="#e23a48" stroke-width="1.8" stroke-linejoin="round"/>
<path d="M305.50,106.93 L306.00,106.96 L306.50,107.01 L307.00,107.06 L307.50,107.13 L308.00,107.21 L308.50,107.31 L309.00,107.44 L309.50,107.62 L310.00,107.85 L310.50,108.14 L311.00,108.48 L311.50,108.87 L312.00,109.29 L312.50,109.71 L313.00,110.13 L313.50,110.53 L314.00,110.89 L314.50,111.21 L315.00,111.47 L315.50,111.69 L316.00,111.87 L316.50,112.03 L317.00,112.18 L317.50,112.31 L318.00,112.45 L318.50,112.57 L319.00,112.68 L319.50,112.78 L320.00,112.84 L320.50,112.88 L321.00,112.89 L321.50,112.89 L322.00,112.87 L322.50,112.84 L323.00,112.81 L323.50,112.78 L324.00,112.75 L324.50,112.72 L325.00,112.69 L325.50,112.66 L326.00,112.63 L326.50,112.60 L327.00,112.57 L327.50,112.55 L328.00,112.54 L328.50,112.53 L329.00,112.52 L329.50,112.52 L330.00,112.53 L330.50,112.53 L331.00,112.54 L331.50,112.54 L332.00,112.55 L332.50,112.55 L333.00,112.56 L333.50,112.57 L334.00,112.57 L334.50,112.58 L335.00,112.58 L335.50,112.58 L336.00,112.58 L336.50,112.57 L337.00,112.56 L337.50,112.55 L338.00,112.53 L338.50,112.51 L339.00,112.49 L339.50,112.49 L340.00,112.49 L340.50,112.52 L341.00,112.58 L341.50,112.67 L342.00,112.78 L342.50,112.92 L343.00,113.08 L343.50,113.24 L344.00,113.41 L344.50,113.58 L345.00,113.77 L345.50,113.97 L346.00,114.20 L346.50,114.46 L347.00,114.74 L347.50,115.04 L348.00,115.36 L348.50,115.71 L349.00,116.10 L349.50,116.54 L350.00,117.04 L350.50,117.59 L351.00,118.18 L351.50,118.81 L352.00,119.46 L352.50,120.13 L353.00,120.81 L353.50,121.50 L354.00,122.19 L354.50,122.88 L355.00,123.58 L355.50,124.27 L356.00,124.96 L356.50,125.66 L357.00,126.36 L357.50,127.06 L358.00,127.77 L358.50,128.48 L359.00,129.19 L359.50,129.91 L360.00,130.63 L360.50,131.35 L361.00,132.09 L361.50,132.83 L362.00,133.58 L362.50,134.33 L363.00,135.10 L363.50,135.87 L364.00,136.65 L364.50,137.43 L365.00,138.23 L365.50,139.03 L366.00,139.84 L366.50,140.66 L367.00,141.49 L367.50,142.33 L368.00,143.17 L368.50,144.02 L369.00,144.88 L369.50,145.75 L370.00,146.62 L370.50,147.50 L371.00,148.38 L371.50,149.27 L372.00,150.17 L372.50,151.07 L373.00,151.98 L373.50,152.89 L374.00,153.81 L374.50,154.73 L375.00,155.65 L375.50,156.57 L376.00,157.49 L376.50,158.41 L377.00,159.33 L377.50,160.25 L378.00,161.16 L378.50,162.08 L379.00,162.98 L379.50,163.88 L380.00,164.78 L380.50,165.67 L381.00,166.55 L381.50,167.42 L382.00,168.28 L382.50,169.14 L383.00,169.98 L383.50,170.82 L384.00,171.64 L384.50,172.46 L385.00,173.26 L385.50,174.06 L386.00,174.84 L386.50,175.61 L387.00,176.37 L387.50,177.12 L388.00,177.85 L388.50,178.58 L389.00,179.29 L389.50,180.00 L390.00,180.69 L390.50,181.37 L391.00,182.05 L391.50,182.72 L392.00,183.37 L392.50,184.02 L393.00,184.67 L393.50,185.30 L394.00,185.93 L394.50,186.55 L395.00,187.16 L395.50,187.76 L396.00,188.36 L396.50,188.95 L397.00,189.53 L397.50,190.10 L398.00,190.66 L398.50,191.21 L399.00,191.75 L399.50,192.28 L400.00,192.80 L400.50,193.30 L401.00,193.80 L401.50,194.28 L402.00,194.75 L402.50,195.20 L403.00,195.64 L403.50,196.07 L404.00,196.49 L404.50,196.89 L405.00,197.28 L405.50,197.65 L406.00,198.01 L406.50,198.36 L407.00,198.70 L407.50,199.02 L408.00,199.33 L408.50,199.63 L409.00,199.92 L409.50,200.19 L410.00,200.44 L410.50,200.69 L411.00,200.92 L411.50,201.14 L412.00,201.35 L412.50,201.54 L413.00,201.73 L413.50,201.91 L414.00,202.08 L414.50,202.24 L415.00,202.39 L415.50,202.54 L416.00,202.69 L416.50,202.83 L417.00,202.96 L417.50,203.10 L418.00,203.23 L418.50,203.35 L419.00,203.48 L419.50,203.60 L420.00,203.73 L420.50,203.85 L421.00,203.96 L421.50,204.08 L422.00,204.20 L422.50,204.31 L423.00,204.42 L423.50,204.53 L424.00,204.64 L424.50,204.74 L425.00,204.84 L425.50,204.94 L426.00,205.04 L426.50,205.13 L427.00,205.22 L427.50,205.31 L428.00,205.40 L428.50,205.48 L429.00,205.57 L429.50,205.65 L430.00,205.73 L430.50,205.81 L431.00,205.89 L431.50,205.97 L432.00,206.04 L432.50,206.12 L433.00,206.20 L433.50,206.27 L434.00,206.35 L434.50,206.42 L435.00,206.50 L435.50,206.57 L436.00,206.65 L436.50,206.72 L437.00,206.80 L437.50,206.87 L438.00,206.95 L438.50,207.02 L439.00,207.09 L439.50,207.17 L440.00,207.24 L440.50,207.31 L441.00,207.38 L441.50,207.45 L442.00,207.52 L442.50,207.59 L443.00,207.66 L443.50,207.73 L444.00,207.79 L444.50,207.86 L445.00,207.92 L445.50,207.98 L446.00,208.04 L446.50,208.10 L447.00,208.16 L447.50,208.22 L448.00,208.27 L448.50,208.33 L449.00,208.38 L449.50,208.44 L450.00,208.49 L450.50,208.54 L451.00,208.59 L451.50,208.65 L452.00,208.70 L452.50,208.75 L453.00,208.80 L453.50,208.85 L454.00,208.90 L454.50,208.95 L455.00,209.00 L455.50,209.05 L456.00,209.10 L456.50,209.15 L457.00,209.20 L457.50,209.25 L458.00,209.30 L458.50,209.35 L459.00,209.39 L459.50,209.44 L460.00,209.49 L460.50,209.54 L461.00,209.58 L461.50,209.63 L462.00,209.67 L462.50,209.72 L463.00,209.76 L463.50,209.80 L464.00,209.84 L464.50,209.88 L465.00,209.92 L465.50,209.96 L466.00,209.99 L466.50,210.03 L467.00,210.06 L467.50,210.09 L468.00,210.12 L468.50,210.15 L469.00,210.18 L469.50,210.21 L470.00,210.24 L470.50,210.27 L471.00,210.29 L471.50,210.32 L472.00,210.35 L472.50,210.37 L473.00,210.40 L473.50,210.42 L474.00,210.45 L474.50,210.47 L475.00,210.50 L475.50,210.52 L476.00,210.55 L476.50,210.57 L477.00,210.60 L477.50,210.62 L478.00,210.65 L478.50,210.67 L479.00,210.70 L479.50,210.72 L480.00,210.75 L480.50,210.77 L481.00,210.79 L481.50,210.82 L482.00,210.84 L482.50,210.86 L483.00,210.89 L483.50,210.91 L484.00,210.93 L484.50,210.95 L485.00,210.97 L485.50,210.99 L486.00,211.01 L486.50,211.03 L487.00,211.05 L487.50,211.07 L488.00,211.08 L488.50,211.10 L489.00,211.12 L489.50,211.14 L490.00,211.15 L490.50,211.17 L491.00,211.18 L491.50,211.20 L492.00,211.22 L492.50,211.23 L493.00,211.25 L493.50,211.26 L494.00,211.28 L494.50,211.30 L495.00,211.31 L495.50,211.33 L496.00,211.34 L496.50,211.36 L497.00,211.37 L497.50,211.39 L498.00,211.40 L498.50,211.42 L499.00,211.44 L499.50,211.45 L500.00,211.47 L500.50,211.48 L501.00,211.50 L501.50,211.51 L502.00,211.53 L502.50,211.54 L503.00,211.56 L503.50,211.58 L504.00,211.59 L504.50,211.61 L505.00,211.62 L505.50,211.64 L506.00,211.65 L506.50,211.67 L507.00,211.68 L507.50,211.70 L508.00,211.72 L508.50,211.73 L509.00,211.75 L509.50,211.76 L510.00,211.78 L510.50,211.79 L511.00,211.81 L511.50,211.82 L512.00,211.84 L512.50,211.86 L513.00,211.87 L513.50,211.89 L514.00,211.90 L514.50,211.92 L515.00,211.93 L515.50,211.95 L516.00,211.96 L516.50,211.98 L517.00,212.00 L517.50,212.01 L518.00,212.03 L518.50,212.04 L519.00,212.06 L519.50,212.07 L520.00,212.09 L520.50,212.10 L521.00,212.12 L521.50,212.13 L522.00,212.15 L522.50,212.16 L523.00,212.17 L523.50,212.19 L524.00,212.20 L524.50,212.21 L525.00,212.22 L525.50,212.23 L526.00,212.24 L526.50,212.25 L527.00,212.26 L527.50,212.27 L528.00,212.28 L528.50,212.29 L529.00,212.29 L529.50,212.30 L530.00,212.31" fill="none" stroke="#b27ee0" stroke-width="1.8" stroke-linejoin="round"/>
<path d="M305.50,106.80 L306.00,106.80 L306.50,106.80 L307.00,106.80 L307.50,106.81 L308.00,106.83 L308.50,106.86 L309.00,106.95 L309.50,107.10 L310.00,107.33 L310.50,107.66 L311.00,108.07 L311.50,108.55 L312.00,109.07 L312.50,109.62 L313.00,110.17 L313.50,110.73 L314.00,111.29 L314.50,111.85 L315.00,112.40 L315.50,112.92 L316.00,113.41 L316.50,113.82 L317.00,114.13 L317.50,114.33 L318.00,114.40 L318.50,114.37 L319.00,114.26 L319.50,114.10 L320.00,113.93 L320.50,113.76 L321.00,113.61 L321.50,113.48 L322.00,113.40 L322.50,113.35 L323.00,113.34 L323.50,113.35 L324.00,113.37 L324.50,113.40 L325.00,113.44 L325.50,113.47 L326.00,113.51 L326.50,113.54 L327.00,113.58 L327.50,113.62 L328.00,113.66 L328.50,113.69 L329.00,113.73 L329.50,113.77 L330.00,113.80 L330.50,113.84 L331.00,113.88 L331.50,113.92 L332.00,113.97 L332.50,114.03 L333.00,114.10 L333.50,114.18 L334.00,114.26 L334.50,114.35 L335.00,114.44 L335.50,114.54 L336.00,114.63 L336.50,114.73 L337.00,114.83 L337.50,114.92 L338.00,115.03 L338.50,115.14 L339.00,115.26 L339.50,115.41 L340.00,115.60 L340.50,115.82 L341.00,116.07 L341.50,116.34 L342.00,116.64 L342.50,116.94 L343.00,117.25 L343.50,117.59 L344.00,117.94 L344.50,118.33 L345.00,118.77 L345.50,119.26 L346.00,119.79 L346.50,120.37 L347.00,120.99 L347.50,121.65 L348.00,122.35 L348.50,123.09 L349.00,123.86 L349.50,124.65 L350.00,125.46 L350.50,126.27 L351.00,127.09 L351.50,127.91 L352.00,128.72 L352.50,129.53 L353.00,130.33 L353.50,131.12 L354.00,131.90 L354.50,132.68 L355.00,133.44 L355.50,134.20 L356.00,134.95 L356.50,135.69 L357.00,136.41 L357.50,137.13 L358.00,137.84 L358.50,138.56 L359.00,139.27 L359.50,139.98 L360.00,140.67 L360.50,141.37 L361.00,142.05 L361.50,142.73 L362.00,143.41 L362.50,144.09 L363.00,144.77 L363.50,145.44 L364.00,146.12 L364.50,146.80 L365.00,147.49 L365.50,148.18 L366.00,148.87 L366.50,149.57 L367.00,150.28 L367.50,151.00 L368.00,151.73 L368.50,152.46 L369.00,153.20 L369.50,153.96 L370.00,154.72 L370.50,155.49 L371.00,156.26 L371.50,157.05 L372.00,157.84 L372.50,158.64 L373.00,159.45 L373.50,160.27 L374.00,161.09 L374.50,161.92 L375.00,162.75 L375.50,163.59 L376.00,164.43 L376.50,165.28 L377.00,166.13 L377.50,166.99 L378.00,167.85 L378.50,168.71 L379.00,169.57 L379.50,170.43 L380.00,171.29 L380.50,172.14 L381.00,173.00 L381.50,173.85 L382.00,174.70 L382.50,175.54 L383.00,176.37 L383.50,177.20 L384.00,178.02 L384.50,178.83 L385.00,179.63 L385.50,180.42 L386.00,181.20 L386.50,181.97 L387.00,182.73 L387.50,183.48 L388.00,184.22 L388.50,184.94 L389.00,185.65 L389.50,186.35 L390.00,187.03 L390.50,187.70 L391.00,188.35 L391.50,188.99 L392.00,189.62 L392.50,190.23 L393.00,190.83 L393.50,191.42 L394.00,191.99 L394.50,192.55 L395.00,193.09 L395.50,193.63 L396.00,194.15 L396.50,194.65 L397.00,195.15 L397.50,195.63 L398.00,196.10 L398.50,196.57 L399.00,197.01 L399.50,197.45 L400.00,197.88 L400.50,198.29 L401.00,198.70 L401.50,199.09 L402.00,199.47 L402.50,199.85 L403.00,200.21 L403.50,200.56 L404.00,200.91 L404.50,201.24 L405.00,201.57 L405.50,201.88 L406.00,202.19 L406.50,202.49 L407.00,202.78 L407.50,203.06 L408.00,203.34 L408.50,203.60 L409.00,203.85 L409.50,204.10 L410.00,204.33 L410.50,204.56 L411.00,204.77 L411.50,204.98 L412.00,205.18 L412.50,205.37 L413.00,205.55 L413.50,205.73 L414.00,205.89 L414.50,206.06 L415.00,206.22 L415.50,206.37 L416.00,206.52 L416.50,206.66 L417.00,206.81 L417.50,206.94 L418.00,207.08 L418.50,207.22 L419.00,207.35 L419.50,207.48 L420.00,207.61 L420.50,207.73 L421.00,207.85 L421.50,207.97 L422.00,208.09 L422.50,208.20 L423.00,208.31 L423.50,208.41 L424.00,208.51 L424.50,208.61 L425.00,208.70 L425.50,208.78 L426.00,208.86 L426.50,208.94 L427.00,209.01 L427.50,209.08 L428.00,209.14 L428.50,209.20 L429.00,209.26 L429.50,209.31 L430.00,209.36 L430.50,209.41 L431.00,209.46 L431.50,209.50 L432.00,209.55 L432.50,209.59 L433.00,209.63 L433.50,209.68 L434.00,209.72 L434.50,209.76 L435.00,209.80 L435.50,209.84 L436.00,209.88 L436.50,209.92 L437.00,209.96 L437.50,210.00 L438.00,210.04 L438.50,210.08 L439.00,210.12 L439.50,210.15 L440.00,210.19 L440.50,210.23 L441.00,210.27 L441.50,210.30 L442.00,210.34 L442.50,210.37 L443.00,210.41 L443.50,210.44 L444.00,210.47 L444.50,210.51 L445.00,210.54 L445.50,210.57 L446.00,210.59 L446.50,210.62 L447.00,210.65 L447.50,210.67 L448.00,210.70 L448.50,210.72 L449.00,210.75 L449.50,210.77 L450.00,210.79 L450.50,210.81 L451.00,210.84 L451.50,210.86 L452.00,210.88 L452.50,210.90 L453.00,210.92 L453.50,210.94 L454.00,210.96 L454.50,210.98 L455.00,211.00 L455.50,211.02 L456.00,211.04 L456.50,211.06 L457.00,211.08 L457.50,211.10 L458.00,211.12 L458.50,211.14 L459.00,211.16 L459.50,211.18 L460.00,211.20 L460.50,211.22 L461.00,211.23 L461.50,211.25 L462.00,211.27 L462.50,211.29 L463.00,211.31 L463.50,211.32 L464.00,211.34 L464.50,211.36 L465.00,211.37 L465.50,211.39 L466.00,211.40 L466.50,211.42 L467.00,211.43 L467.50,211.45 L468.00,211.46 L468.50,211.47 L469.00,211.49 L469.50,211.50 L470.00,211.51 L470.50,211.52 L471.00,211.54 L471.50,211.55 L472.00,211.56 L472.50,211.57 L473.00,211.58 L473.50,211.59 L474.00,211.61 L474.50,211.62 L475.00,211.63 L475.50,211.64 L476.00,211.65 L476.50,211.66 L477.00,211.67 L477.50,211.69 L478.00,211.70 L478.50,211.71 L479.00,211.72 L479.50,211.73 L480.00,211.74 L480.50,211.75 L481.00,211.77 L481.50,211.78 L482.00,211.79 L482.50,211.80 L483.00,211.81 L483.50,211.82 L484.00,211.83 L484.50,211.85 L485.00,211.86 L485.50,211.87 L486.00,211.88 L486.50,211.89 L487.00,211.90 L487.50,211.91 L488.00,211.93 L488.50,211.94 L489.00,211.95 L489.50,211.96 L490.00,211.97 L490.50,211.98 L491.00,211.99 L491.50,212.01 L492.00,212.02 L492.50,212.03 L493.00,212.04 L493.50,212.05 L494.00,212.06 L494.50,212.07 L495.00,212.08 L495.50,212.10 L496.00,212.11 L496.50,212.12 L497.00,212.13 L497.50,212.14 L498.00,212.15 L498.50,212.16 L499.00,212.17 L499.50,212.18 L500.00,212.19 L500.50,212.20 L501.00,212.21 L501.50,212.22 L502.00,212.23 L502.50,212.24 L503.00,212.25 L503.50,212.26 L504.00,212.26 L504.50,212.27 L505.00,212.28 L505.50,212.29 L506.00,212.30 L506.50,212.31 L507.00,212.32 L507.50,212.32 L508.00,212.33 L508.50,212.34 L509.00,212.35 L509.50,212.36 L510.00,212.37 L510.50,212.37 L511.00,212.38 L511.50,212.39 L512.00,212.40 L512.50,212.41 L513.00,212.42 L513.50,212.42 L514.00,212.43 L514.50,212.44 L515.00,212.45 L515.50,212.46 L516.00,212.47 L516.50,212.47 L517.00,212.48 L517.50,212.49 L518.00,212.50 L518.50,212.51 L519.00,212.52 L519.50,212.52 L520.00,212.53 L520.50,212.54 L521.00,212.55 L521.50,212.56 L522.00,212.56 L522.50,212.57 L523.00,212.58 L523.50,212.58 L524.00,212.59 L524.50,212.60 L525.00,212.60 L525.50,212.61 L526.00,212.62 L526.50,212.62 L527.00,212.63 L527.50,212.63 L528.00,212.63 L528.50,212.64 L529.00,212.64 L529.50,212.65 L530.00,212.65" fill="none" stroke="#e3a02a" stroke-width="1.8" stroke-linejoin="round"/>
<line x1="308.2" y1="39.8" x2="329.6" y2="39.8" stroke="#4d4d4d" stroke-width="2"/>
<text x="332.30" y="43.10" font-size="8.80" fill="#555" text-anchor="start" font-weight="bold" textLength="64.0" lengthAdjust="spacingAndGlyphs" stroke="#555" stroke-width="0.30" >ODASnBr<tspan baseline-shift="sub" font-size="6">4</tspan>(EtOH)</text>
<line x1="308.2" y1="54.4" x2="329.6" y2="54.4" stroke="#e23a48" stroke-width="2"/>
<text x="332.30" y="57.70" font-size="8.80" fill="#e0303c" text-anchor="start" font-weight="bold" textLength="64.0" lengthAdjust="spacingAndGlyphs" stroke="#e0303c" stroke-width="0.30" >ODASnBr<tspan baseline-shift="sub" font-size="6">4</tspan>[BuOH]</text>
<line x1="308.2" y1="68.8" x2="329.6" y2="68.8" stroke="#b27ee0" stroke-width="2"/>
<text x="332.30" y="72.10" font-size="8.80" fill="#b07ee0" text-anchor="start" font-weight="bold" textLength="64.0" lengthAdjust="spacingAndGlyphs" stroke="#b07ee0" stroke-width="0.30" >ODASnBr<tspan baseline-shift="sub" font-size="6">4</tspan>[PeOH]</text>
<line x1="308.2" y1="82.8" x2="329.6" y2="82.8" stroke="#e3a02a" stroke-width="2"/>
<text x="332.30" y="86.10" font-size="8.80" fill="#d8a030" text-anchor="start" font-weight="bold" textLength="64.0" lengthAdjust="spacingAndGlyphs" stroke="#d8a030" stroke-width="0.30" >ODASnBr<tspan baseline-shift="sub" font-size="6">4</tspan>[HeOH]</text>
<rect x="411.0" y="39.5" width="113.0" height="90.2" fill="#fff" stroke="#333" stroke-width="1.2"/>
<text x="411.50" y="139.20" font-size="7.40" fill="#222" text-anchor="middle" font-weight="bold" textLength="10.5" lengthAdjust="spacingAndGlyphs" stroke="#222" stroke-width="0.30" >2.6</text>
<text x="433.88" y="139.20" font-size="7.40" fill="#222" text-anchor="middle" font-weight="bold" textLength="10.5" lengthAdjust="spacingAndGlyphs" stroke="#222" stroke-width="0.30" >2.8</text>
<text x="456.26" y="139.20" font-size="7.40" fill="#222" text-anchor="middle" font-weight="bold" textLength="10.5" lengthAdjust="spacingAndGlyphs" stroke="#222" stroke-width="0.30" >3.0</text>
<text x="478.64" y="139.20" font-size="7.40" fill="#222" text-anchor="middle" font-weight="bold" textLength="10.5" lengthAdjust="spacingAndGlyphs" stroke="#222" stroke-width="0.30" >3.2</text>
<text x="501.02" y="139.20" font-size="7.40" fill="#222" text-anchor="middle" font-weight="bold" textLength="10.5" lengthAdjust="spacingAndGlyphs" stroke="#222" stroke-width="0.30" >3.4</text>
<text x="523.40" y="139.20" font-size="7.40" fill="#222" text-anchor="middle" font-weight="bold" textLength="10.5" lengthAdjust="spacingAndGlyphs" stroke="#222" stroke-width="0.30" >3.6</text>
<text x="467.00" y="149.60" font-size="7.40" fill="#222" text-anchor="middle" font-weight="bold" textLength="35.4" lengthAdjust="spacingAndGlyphs" stroke="#222" stroke-width="0.30" >Energy (eV)</text>
<g transform="translate(407,82.5) rotate(-90)">
<text x="0.00" y="0.00" font-size="7.50" fill="#000" text-anchor="middle" font-weight="bold" textLength="21.0" lengthAdjust="spacingAndGlyphs" stroke="#000" stroke-width="0.30" >(αhν)<tspan baseline-shift="super" font-size="6">2</tspan></text>
</g>
<clipPath id="ic"><rect x="411.0" y="39.5" width="113.0" height="90.2"/></clipPath>
<g clip-path="url(#ic)">
<path d="M412.00,124.60 C414.22,124.27 421.47,123.78 425.30,122.60 C429.13,121.42 431.92,120.18 435.00,117.50 C438.08,114.82 440.77,111.75 443.80,106.50 C446.83,101.25 450.10,93.75 453.20,86.00 C456.30,78.25 459.83,67.67 462.40,60.00 C464.97,52.33 467.33,44.17 468.60,40.00 C469.87,35.83 469.77,35.83 470.00,35.00" fill="none" stroke="#3d3d3d" stroke-width="1.7"/>
<path d="M412.00,125.20 C415.92,125.03 429.22,125.40 435.50,124.20 C441.78,123.00 445.63,121.12 449.70,118.00 C453.77,114.88 457.02,110.33 459.90,105.50 C462.78,100.67 464.98,94.65 467.00,89.00 C469.02,83.35 470.50,77.27 472.00,71.60 C473.50,65.93 474.75,60.27 476.00,55.00 C477.25,49.73 478.75,43.33 479.50,40.00 C480.25,36.67 480.33,35.83 480.50,35.00" fill="none" stroke="#b27ee0" stroke-width="1.7"/>
<path d="M410.70,125.40 C414.62,125.23 427.87,125.58 434.20,124.40 C440.53,123.22 444.48,121.35 448.70,118.30 C452.92,115.25 456.23,110.83 459.50,106.10 C462.77,101.37 465.80,95.65 468.30,89.90 C470.80,84.15 472.55,78.03 474.50,71.60 C476.45,65.17 478.47,56.57 480.00,51.30 C481.53,46.03 482.83,42.72 483.70,40.00 C484.57,37.28 484.95,35.83 485.20,35.00" fill="none" stroke="#e04050" stroke-width="1.7"/>
<path d="M412.00,125.40 C415.92,125.23 429.17,125.58 435.50,124.40 C441.83,123.22 445.78,121.35 450.00,118.30 C454.22,115.25 457.53,110.83 460.80,106.10 C464.07,101.37 467.10,95.65 469.60,89.90 C472.10,84.15 473.85,78.03 475.80,71.60 C477.75,65.17 479.77,56.57 481.30,51.30 C482.83,46.03 484.13,42.72 485.00,40.00 C485.87,37.28 486.25,35.83 486.50,35.00" fill="none" stroke="#e3a02a" stroke-width="1.7"/>
<line x1="434.3" y1="129.5" x2="459.5" y2="69.5" stroke="#3a78c0" stroke-width="1.3" stroke-dasharray="3,2"/>
<line x1="450.7" y1="129.5" x2="472.5" y2="76.5" stroke="#48a878" stroke-width="1.3" stroke-dasharray="3,2"/>
</g>
<text x="424.30" y="95.30" font-size="7.60" fill="#3a78c0" text-anchor="start" font-weight="bold" textLength="23.4" lengthAdjust="spacingAndGlyphs" stroke="#3a78c0" stroke-width="0.30" >2.81 eV</text>
<text x="468.40" y="113.00" font-size="7.60" fill="#48a878" text-anchor="start" font-weight="bold" textLength="24.0" lengthAdjust="spacingAndGlyphs" stroke="#48a878" stroke-width="0.30" >2.96 eV</text>
<text x="7.50" y="272.50" font-size="22.00" fill="#000" text-anchor="start" font-weight="bold" stroke="#000" stroke-width="0.30" >c</text>
<rect x="30.3" y="261.3" width="226.1" height="185.5" fill="none" stroke="#000" stroke-width="2"/>
<line x1="30.30" y1="446.8" x2="30.30" y2="449.8" stroke="#000" stroke-width="1.5"/>
<line x1="58.56" y1="446.8" x2="58.56" y2="448.8" stroke="#000" stroke-width="1.5"/>
<line x1="86.82" y1="446.8" x2="86.82" y2="449.8" stroke="#000" stroke-width="1.5"/>
<line x1="115.09" y1="446.8" x2="115.09" y2="448.8" stroke="#000" stroke-width="1.5"/>
<line x1="143.35" y1="446.8" x2="143.35" y2="449.8" stroke="#000" stroke-width="1.5"/>
<line x1="171.61" y1="446.8" x2="171.61" y2="448.8" stroke="#000" stroke-width="1.5"/>
<line x1="199.87" y1="446.8" x2="199.87" y2="449.8" stroke="#000" stroke-width="1.5"/>
<line x1="228.14" y1="446.8" x2="228.14" y2="448.8" stroke="#000" stroke-width="1.5"/>
<line x1="256.40" y1="446.8" x2="256.40" y2="449.8" stroke="#000" stroke-width="1.5"/>
<text x="30.30" y="461.50" font-size="9.60" fill="#000" text-anchor="middle" font-weight="bold" textLength="15.5" lengthAdjust="spacingAndGlyphs" stroke="#000" stroke-width="0.30" >400</text>
<text x="86.82" y="461.50" font-size="9.60" fill="#000" text-anchor="middle" font-weight="bold" textLength="15.5" lengthAdjust="spacingAndGlyphs" stroke="#000" stroke-width="0.30" >500</text>
<text x="143.35" y="461.50" font-size="9.60" fill="#000" text-anchor="middle" font-weight="bold" textLength="15.5" lengthAdjust="spacingAndGlyphs" stroke="#000" stroke-width="0.30" >600</text>
<text x="199.87" y="461.50" font-size="9.60" fill="#000" text-anchor="middle" font-weight="bold" textLength="15.5" lengthAdjust="spacingAndGlyphs" stroke="#000" stroke-width="0.30" >700</text>
<text x="256.40" y="461.50" font-size="9.60" fill="#000" text-anchor="middle" font-weight="bold" textLength="15.5" lengthAdjust="spacingAndGlyphs" stroke="#000" stroke-width="0.30" >800</text>
<text x="143.50" y="480.60" font-size="11.00" fill="#000" text-anchor="middle" font-weight="bold" textLength="86.5" lengthAdjust="spacingAndGlyphs" stroke="#000" stroke-width="0.30" >Wavelength (nm)</text>
<g transform="translate(15.4,348.8) rotate(-90)">
<text x="0.00" y="0.00" font-size="10.00" fill="#000" text-anchor="middle" font-weight="bold" textLength="44.7" lengthAdjust="spacingAndGlyphs" stroke="#000" stroke-width="0.30" >Intensity</text>
</g>
<text x="35.60" y="275.20" font-size="8.60" fill="#333" text-anchor="start" font-weight="bold" textLength="70.0" lengthAdjust="spacingAndGlyphs" stroke="#333" stroke-width="0.30" >Excitation: 334nm</text>
<g opacity="0.25" filter="url(#bl2)">
<path d="M30.30,446.58 L31.43,446.58 L32.56,446.57 L33.69,446.56 L34.82,446.56 L35.95,446.55 L37.08,446.54 L38.21,446.53 L39.34,446.52 L40.47,446.51 L41.60,446.49 L42.74,446.47 L43.87,446.45 L45.00,446.43 L46.13,446.40 L47.26,446.37 L48.39,446.33 L49.52,446.29 L50.65,446.24 L51.78,446.18 L52.91,446.12 L54.04,446.05 L55.17,445.97 L56.30,445.88 L57.43,445.78 L58.56,445.66 L59.69,445.54 L60.82,445.39 L61.95,445.23 L63.08,445.05 L64.21,444.84 L65.35,444.62 L66.48,444.37 L67.61,444.09 L68.74,443.78 L69.87,443.45 L71.00,443.07 L72.13,442.66 L73.26,442.21 L74.39,441.71 L75.52,441.17 L76.65,440.58 L77.78,439.94 L78.91,439.24 L80.04,438.48 L81.17,437.66 L82.30,436.77 L83.43,435.82 L84.56,434.79 L85.69,433.68 L86.82,432.50 L87.96,431.24 L89.09,429.89 L90.22,428.45 L91.35,426.92 L92.48,425.31 L93.61,423.60 L94.74,421.79 L95.87,419.89 L97.00,417.90 L98.13,415.81 L99.26,413.62 L100.39,411.34 L101.52,408.97 L102.65,406.51 L103.78,403.96 L104.91,401.32 L106.04,398.61 L107.17,395.83 L108.30,392.97 L109.43,390.06 L110.57,387.09 L111.70,384.07 L112.83,381.01 L113.96,377.92 L115.09,374.81 L116.22,371.69 L117.35,368.57 L118.48,365.47 L119.61,362.38 L120.74,359.33 L121.87,356.32 L123.00,353.38 L124.13,350.50 L125.26,347.71 L126.39,345.01 L127.52,342.42 L128.65,339.95 L129.78,337.61 L130.91,335.41 L132.04,333.37 L133.18,331.49 L134.31,329.77 L135.44,328.24 L136.57,326.90 L137.70,325.75 L138.83,324.80 L139.96,324.06 L141.09,323.53 L142.22,323.21 L143.35,323.10 L144.48,323.21 L145.61,323.53 L146.74,324.06 L147.87,324.80 L149.00,325.75 L150.13,326.90 L151.26,328.24 L152.39,329.77 L153.52,331.49 L154.65,333.37 L155.79,335.41 L156.92,337.61 L158.05,339.95 L159.18,342.42 L160.31,345.01 L161.44,347.71 L162.57,350.50 L163.70,353.38 L164.83,356.32 L165.96,359.33 L167.09,362.38 L168.22,365.47 L169.35,368.57 L170.48,371.69 L171.61,374.81 L172.74,377.92 L173.87,381.01 L175.00,384.07 L176.13,387.09 L177.26,390.06 L178.40,392.97 L179.53,395.83 L180.66,398.61 L181.79,401.32 L182.92,403.96 L184.05,406.51 L185.18,408.97 L186.31,411.34 L187.44,413.62 L188.57,415.81 L189.70,417.90 L190.83,419.89 L191.96,421.79 L193.09,423.60 L194.22,425.31 L195.35,426.92 L196.48,428.45 L197.61,429.89 L198.74,431.24 L199.87,432.50 L201.01,433.68 L202.14,434.79 L203.27,435.82 L204.40,436.77 L205.53,437.66 L206.66,438.48 L207.79,439.24 L208.92,439.94 L210.05,440.58 L211.18,441.17 L212.31,441.71 L213.44,442.21 L214.57,442.66 L215.70,443.07 L216.83,443.45 L217.96,443.78 L219.09,444.09 L220.22,444.37 L221.35,444.62 L222.48,444.84 L223.62,445.05 L224.75,445.23 L225.88,445.39 L227.01,445.54 L228.14,445.66 L229.27,445.78 L230.40,445.88 L231.53,445.97 L232.66,446.05 L233.79,446.12 L234.92,446.18 L236.05,446.24 L237.18,446.29 L238.31,446.33 L239.44,446.37 L240.57,446.40 L241.70,446.43 L242.83,446.45 L243.96,446.47 L245.09,446.49 L246.23,446.51 L247.36,446.52 L248.49,446.53 L249.62,446.54 L250.75,446.55 L251.88,446.56 L253.01,446.56 L254.14,446.57 L255.27,446.58 L256.40,446.58" fill="none" stroke="#ff80e0" stroke-width="6.0" stroke-linejoin="round"/>
</g>
<path d="M30.30,446.58 L31.43,446.58 L32.56,446.57 L33.69,446.56 L34.82,446.56 L35.95,446.55 L37.08,446.54 L38.21,446.53 L39.34,446.52 L40.47,446.51 L41.60,446.49 L42.74,446.47 L43.87,446.45 L45.00,446.43 L46.13,446.40 L47.26,446.37 L48.39,446.33 L49.52,446.29 L50.65,446.24 L51.78,446.18 L52.91,446.12 L54.04,446.05 L55.17,445.97 L56.30,445.88 L57.43,445.78 L58.56,445.66 L59.69,445.54 L60.82,445.39 L61.95,445.23 L63.08,445.05 L64.21,444.84 L65.35,444.62 L66.48,444.37 L67.61,444.09 L68.74,443.78 L69.87,443.45 L71.00,443.07 L72.13,442.66 L73.26,442.21 L74.39,441.71 L75.52,441.17 L76.65,440.58 L77.78,439.94 L78.91,439.24 L80.04,438.48 L81.17,437.66 L82.30,436.77 L83.43,435.82 L84.56,434.79 L85.69,433.68 L86.82,432.50 L87.96,431.24 L89.09,429.89 L90.22,428.45 L91.35,426.92 L92.48,425.31 L93.61,423.60 L94.74,421.79 L95.87,419.89 L97.00,417.90 L98.13,415.81 L99.26,413.62 L100.39,411.34 L101.52,408.97 L102.65,406.51 L103.78,403.96 L104.91,401.32 L106.04,398.61 L107.17,395.83 L108.30,392.97 L109.43,390.06 L110.57,387.09 L111.70,384.07 L112.83,381.01 L113.96,377.92 L115.09,374.81 L116.22,371.69 L117.35,368.57 L118.48,365.47 L119.61,362.38 L120.74,359.33 L121.87,356.32 L123.00,353.38 L124.13,350.50 L125.26,347.71 L126.39,345.01 L127.52,342.42 L128.65,339.95 L129.78,337.61 L130.91,335.41 L132.04,333.37 L133.18,331.49 L134.31,329.77 L135.44,328.24 L136.57,326.90 L137.70,325.75 L138.83,324.80 L139.96,324.06 L141.09,323.53 L142.22,323.21 L143.35,323.10 L144.48,323.21 L145.61,323.53 L146.74,324.06 L147.87,324.80 L149.00,325.75 L150.13,326.90 L151.26,328.24 L152.39,329.77 L153.52,331.49 L154.65,333.37 L155.79,335.41 L156.92,337.61 L158.05,339.95 L159.18,342.42 L160.31,345.01 L161.44,347.71 L162.57,350.50 L163.70,353.38 L164.83,356.32 L165.96,359.33 L167.09,362.38 L168.22,365.47 L169.35,368.57 L170.48,371.69 L171.61,374.81 L172.74,377.92 L173.87,381.01 L175.00,384.07 L176.13,387.09 L177.26,390.06 L178.40,392.97 L179.53,395.83 L180.66,398.61 L181.79,401.32 L182.92,403.96 L184.05,406.51 L185.18,408.97 L186.31,411.34 L187.44,413.62 L188.57,415.81 L189.70,417.90 L190.83,419.89 L191.96,421.79 L193.09,423.60 L194.22,425.31 L195.35,426.92 L196.48,428.45 L197.61,429.89 L198.74,431.24 L199.87,432.50 L201.01,433.68 L202.14,434.79 L203.27,435.82 L204.40,436.77 L205.53,437.66 L206.66,438.48 L207.79,439.24 L208.92,439.94 L210.05,440.58 L211.18,441.17 L212.31,441.71 L213.44,442.21 L214.57,442.66 L215.70,443.07 L216.83,443.45 L217.96,443.78 L219.09,444.09 L220.22,444.37 L221.35,444.62 L222.48,444.84 L223.62,445.05 L224.75,445.23 L225.88,445.39 L227.01,445.54 L228.14,445.66 L229.27,445.78 L230.40,445.88 L231.53,445.97 L232.66,446.05 L233.79,446.12 L234.92,446.18 L236.05,446.24 L237.18,446.29 L238.31,446.33 L239.44,446.37 L240.57,446.40 L241.70,446.43 L242.83,446.45 L243.96,446.47 L245.09,446.49 L246.23,446.51 L247.36,446.52 L248.49,446.53 L249.62,446.54 L250.75,446.55 L251.88,446.56 L253.01,446.56 L254.14,446.57 L255.27,446.58 L256.40,446.58" fill="none" stroke="#9478d0" stroke-width="2.6" stroke-linejoin="round"/>
<path d="M30.30,446.58 L31.43,446.57 L32.56,446.56 L33.69,446.56 L34.82,446.55 L35.95,446.54 L37.08,446.53 L38.21,446.52 L39.34,446.51 L40.47,446.49 L41.60,446.47 L42.74,446.45 L43.87,446.43 L45.00,446.40 L46.13,446.37 L47.26,446.33 L48.39,446.29 L49.52,446.24 L50.65,446.18 L51.78,446.12 L52.91,446.05 L54.04,445.97 L55.17,445.88 L56.30,445.78 L57.43,445.66 L58.56,445.54 L59.69,445.39 L60.82,445.23 L61.95,445.05 L63.08,444.84 L64.21,444.62 L65.35,444.37 L66.48,444.09 L67.61,443.78 L68.74,443.45 L69.87,443.07 L71.00,442.66 L72.13,442.21 L73.26,441.71 L74.39,441.17 L75.52,440.58 L76.65,439.94 L77.78,439.24 L78.91,438.48 L80.04,437.66 L81.17,436.77 L82.30,435.82 L83.43,434.79 L84.56,433.68 L85.69,432.50 L86.82,431.24 L87.96,429.89 L89.09,428.45 L90.22,426.92 L91.35,425.31 L92.48,423.60 L93.61,421.79 L94.74,419.89 L95.87,417.90 L97.00,415.81 L98.13,413.62 L99.26,411.34 L100.39,408.97 L101.52,406.51 L102.65,403.96 L103.78,401.32 L104.91,398.61 L106.04,395.83 L107.17,392.97 L108.30,390.06 L109.43,387.09 L110.57,384.07 L111.70,381.01 L112.83,377.92 L113.96,374.81 L115.09,371.69 L116.22,368.57 L117.35,365.47 L118.48,362.38 L119.61,359.33 L120.74,356.32 L121.87,353.38 L123.00,350.50 L124.13,347.71 L125.26,345.01 L126.39,342.42 L127.52,339.95 L128.65,337.61 L129.78,335.41 L130.91,333.37 L132.04,331.49 L133.18,329.77 L134.31,328.24 L135.44,326.90 L136.57,325.75 L137.70,324.80 L138.83,324.06 L139.96,323.53 L141.09,323.21 L142.22,323.10 L143.35,323.21 L144.48,323.53 L145.61,324.06 L146.74,324.80 L147.87,325.75 L149.00,326.90 L150.13,328.24 L151.26,329.77 L152.39,331.49 L153.52,333.37 L154.65,335.41 L155.79,337.61 L156.92,339.95 L158.05,342.42 L159.18,345.01 L160.31,347.71 L161.44,350.50 L162.57,353.38 L163.70,356.32 L164.83,359.33 L165.96,362.38 L167.09,365.47 L168.22,368.57 L169.35,371.69 L170.48,374.81 L171.61,377.92 L172.74,381.01 L173.87,384.07 L175.00,387.09 L176.13,390.06 L177.26,392.97 L178.40,395.83 L179.53,398.61 L180.66,401.32 L181.79,403.96 L182.92,406.51 L184.05,408.97 L185.18,411.34 L186.31,413.62 L187.44,415.81 L188.57,417.90 L189.70,419.89 L190.83,421.79 L191.96,423.60 L193.09,425.31 L194.22,426.92 L195.35,428.45 L196.48,429.89 L197.61,431.24 L198.74,432.50 L199.87,433.68 L201.01,434.79 L202.14,435.82 L203.27,436.77 L204.40,437.66 L205.53,438.48 L206.66,439.24 L207.79,439.94 L208.92,440.58 L210.05,441.17 L211.18,441.71 L212.31,442.21 L213.44,442.66 L214.57,443.07 L215.70,443.45 L216.83,443.78 L217.96,444.09 L219.09,444.37 L220.22,444.62 L221.35,444.84 L222.48,445.05 L223.62,445.23 L224.75,445.39 L225.88,445.54 L227.01,445.66 L228.14,445.78 L229.27,445.88 L230.40,445.97 L231.53,446.05 L232.66,446.12 L233.79,446.18 L234.92,446.24 L236.05,446.29 L237.18,446.33 L238.31,446.37 L239.44,446.40 L240.57,446.43 L241.70,446.45 L242.83,446.47 L243.96,446.49 L245.09,446.51 L246.23,446.52 L247.36,446.53 L248.49,446.54 L249.62,446.55 L250.75,446.56 L251.88,446.56 L253.01,446.57 L254.14,446.58 L255.27,446.58 L256.40,446.58" fill="none" stroke="#555555" stroke-width="1.4" stroke-linejoin="round"/>
<path d="M30.30,446.57 L31.43,446.56 L32.56,446.56 L33.69,446.55 L34.82,446.54 L35.95,446.53 L37.08,446.52 L38.21,446.50 L39.34,446.49 L40.47,446.47 L41.60,446.45 L42.74,446.42 L43.87,446.39 L45.00,446.36 L46.13,446.32 L47.26,446.28 L48.39,446.23 L49.52,446.17 L50.65,446.11 L51.78,446.03 L52.91,445.95 L54.04,445.86 L55.17,445.75 L56.30,445.63 L57.43,445.50 L58.56,445.35 L59.69,445.18 L60.82,445.00 L61.95,444.79 L63.08,444.56 L64.21,444.30 L65.35,444.02 L66.48,443.70 L67.61,443.36 L68.74,442.97 L69.87,442.55 L71.00,442.09 L72.13,441.58 L73.26,441.03 L74.39,440.43 L75.52,439.77 L76.65,439.06 L77.78,438.28 L78.91,437.45 L80.04,436.54 L81.17,435.57 L82.30,434.52 L83.43,433.40 L84.56,432.19 L85.69,430.91 L86.82,429.54 L87.96,428.08 L89.09,426.53 L90.22,424.89 L91.35,423.15 L92.48,421.33 L93.61,419.40 L94.74,417.38 L95.87,415.27 L97.00,413.06 L98.13,410.75 L99.26,408.36 L100.39,405.88 L101.52,403.31 L102.65,400.65 L103.78,397.92 L104.91,395.12 L106.04,392.25 L107.17,389.32 L108.30,386.34 L109.43,383.31 L110.57,380.24 L111.70,377.15 L112.83,374.03 L113.96,370.91 L115.09,367.80 L116.22,364.69 L117.35,361.61 L118.48,358.57 L119.61,355.58 L120.74,352.65 L121.87,349.80 L123.00,347.03 L124.13,344.35 L125.26,341.79 L126.39,339.35 L127.52,337.05 L128.65,334.89 L129.78,332.88 L130.91,331.04 L132.04,329.37 L133.18,327.89 L134.31,326.59 L135.44,325.50 L136.57,324.60 L137.70,323.91 L138.83,323.43 L139.96,323.16 L141.09,323.11 L142.22,323.27 L143.35,323.64 L144.48,324.23 L145.61,325.02 L146.74,326.02 L147.87,327.22 L149.00,328.61 L150.13,330.19 L151.26,331.94 L152.39,333.86 L153.52,335.95 L154.65,338.18 L155.79,340.56 L156.92,343.06 L158.05,345.68 L159.18,348.40 L160.31,351.21 L161.44,354.11 L162.57,357.07 L163.70,360.09 L164.83,363.15 L165.96,366.24 L167.09,369.35 L168.22,372.47 L169.35,375.59 L170.48,378.70 L171.61,381.78 L172.74,384.83 L173.87,387.83 L175.00,390.79 L176.13,393.69 L177.26,396.53 L178.40,399.30 L179.53,401.99 L180.66,404.60 L181.79,407.13 L182.92,409.57 L184.05,411.92 L185.18,414.17 L186.31,416.34 L187.44,418.40 L188.57,420.38 L189.70,422.25 L190.83,424.03 L191.96,425.72 L193.09,427.31 L194.22,428.82 L195.35,430.23 L196.48,431.56 L197.61,432.80 L198.74,433.97 L199.87,435.05 L201.01,436.06 L202.14,437.00 L203.27,437.87 L204.40,438.68 L205.53,439.42 L206.66,440.11 L207.79,440.74 L208.92,441.31 L210.05,441.84 L211.18,442.33 L212.31,442.77 L213.44,443.17 L214.57,443.53 L215.70,443.86 L216.83,444.16 L217.96,444.43 L219.09,444.68 L220.22,444.90 L221.35,445.09 L222.48,445.27 L223.62,445.43 L224.75,445.57 L225.88,445.69 L227.01,445.81 L228.14,445.91 L229.27,445.99 L230.40,446.07 L231.53,446.14 L232.66,446.20 L233.79,446.25 L234.92,446.30 L236.05,446.34 L237.18,446.38 L238.31,446.41 L239.44,446.43 L240.57,446.46 L241.70,446.48 L242.83,446.50 L243.96,446.51 L245.09,446.52 L246.23,446.53 L247.36,446.54 L248.49,446.55 L249.62,446.56 L250.75,446.57 L251.88,446.57 L253.01,446.58 L254.14,446.58 L255.27,446.58 L256.40,446.59" fill="none" stroke="#8b5e48" stroke-width="1.4" stroke-linejoin="round"/>
<path d="M30.30,446.48 L31.43,446.45 L32.56,446.43 L33.69,446.40 L34.82,446.37 L35.95,446.33 L37.08,446.29 L38.21,446.24 L39.34,446.18 L40.47,446.12 L41.60,446.04 L42.74,445.96 L43.87,445.86 L45.00,445.76 L46.13,445.64 L47.26,445.50 L48.39,445.35 L49.52,445.17 L50.65,444.98 L51.78,444.77 L52.91,444.52 L54.04,444.26 L55.17,443.96 L56.30,443.63 L57.43,443.26 L58.56,442.86 L59.69,442.41 L60.82,441.92 L61.95,441.39 L63.08,440.80 L64.21,440.16 L65.35,439.46 L66.48,438.70 L67.61,437.87 L68.74,436.97 L69.87,436.01 L71.00,434.96 L72.13,433.84 L73.26,432.63 L74.39,431.34 L75.52,429.96 L76.65,428.48 L77.78,426.92 L78.91,425.25 L80.04,423.49 L81.17,421.63 L82.30,419.67 L83.43,417.60 L84.56,415.44 L85.69,413.17 L86.82,410.81 L87.96,408.35 L89.09,405.79 L90.22,403.15 L91.35,400.42 L92.48,397.60 L93.61,394.71 L94.74,391.75 L95.87,388.73 L97.00,385.65 L98.13,382.53 L99.26,379.37 L100.39,376.18 L101.52,372.98 L102.65,369.77 L103.78,366.57 L104.91,363.39 L106.04,360.24 L107.17,357.14 L108.30,354.09 L109.43,351.12 L110.57,348.23 L111.70,345.44 L112.83,342.76 L113.96,340.20 L115.09,337.79 L116.22,335.52 L117.35,333.41 L118.48,331.47 L119.61,329.72 L120.74,328.15 L121.87,326.79 L123.00,325.63 L124.13,324.68 L125.26,323.95 L126.39,323.45 L127.52,323.16 L128.65,323.11 L129.78,323.28 L130.91,323.67 L132.04,324.29 L133.18,325.13 L134.31,326.18 L135.44,327.45 L136.57,328.91 L137.70,330.57 L138.83,332.42 L139.96,334.44 L141.09,336.63 L142.22,338.98 L143.35,341.47 L144.48,344.08 L145.61,346.82 L146.74,349.66 L147.87,352.59 L149.00,355.61 L150.13,358.68 L151.26,361.81 L152.39,364.98 L153.52,368.17 L154.65,371.37 L155.79,374.58 L156.92,377.78 L158.05,380.95 L159.18,384.09 L160.31,387.20 L161.44,390.25 L162.57,393.24 L163.70,396.17 L164.83,399.02 L165.96,401.79 L167.09,404.48 L168.22,407.08 L169.35,409.59 L170.48,412.00 L171.61,414.32 L172.74,416.53 L173.87,418.65 L175.00,420.66 L176.13,422.57 L177.26,424.38 L178.40,426.10 L179.53,427.71 L180.66,429.23 L181.79,430.66 L182.92,432.00 L184.05,433.25 L185.18,434.41 L186.31,435.49 L187.44,436.50 L188.57,437.43 L189.70,438.29 L190.83,439.09 L191.96,439.82 L193.09,440.49 L194.22,441.10 L195.35,441.66 L196.48,442.18 L197.61,442.64 L198.74,443.07 L199.87,443.45 L201.01,443.80 L202.14,444.11 L203.27,444.39 L204.40,444.65 L205.53,444.88 L206.66,445.08 L207.79,445.26 L208.92,445.43 L210.05,445.57 L211.18,445.70 L212.31,445.81 L213.44,445.91 L214.57,446.00 L215.70,446.08 L216.83,446.15 L217.96,446.21 L219.09,446.26 L220.22,446.31 L221.35,446.35 L222.48,446.39 L223.62,446.42 L224.75,446.44 L225.88,446.47 L227.01,446.49 L228.14,446.50 L229.27,446.52 L230.40,446.53 L231.53,446.54 L232.66,446.55 L233.79,446.56 L234.92,446.56 L236.05,446.57 L237.18,446.57 L238.31,446.58 L239.44,446.58 L240.57,446.59 L241.70,446.59 L242.83,446.59 L243.96,446.59 L245.09,446.59 L246.23,446.59 L247.36,446.60 L248.49,446.60 L249.62,446.60 L250.75,446.60 L251.88,446.60 L253.01,446.60 L254.14,446.60 L255.27,446.60 L256.40,446.60" fill="none" stroke="#b2a824" stroke-width="1.7" stroke-linejoin="round"/>
<line x1="146.5" y1="268.8" x2="168.4" y2="268.8" stroke="#555" stroke-width="1.8"/>
<text x="169.00" y="271.40" font-size="7.40" fill="#454545" text-anchor="start" font-weight="bold" textLength="84.0" lengthAdjust="spacingAndGlyphs" stroke="#454545" stroke-width="0.30" >ODASnBr<tspan baseline-shift="sub" font-size="5">4</tspan>(EtOH), 599nm</text>
<line x1="146.5" y1="281.3" x2="168.4" y2="281.3" stroke="#8b5e48" stroke-width="1.8"/>
<text x="169.00" y="283.90" font-size="7.40" fill="#b86a50" text-anchor="start" font-weight="bold" textLength="84.0" lengthAdjust="spacingAndGlyphs" stroke="#b86a50" stroke-width="0.30" >ODASnBr<tspan baseline-shift="sub" font-size="5">4</tspan>[BuOH], 596nm</text>
<line x1="146.5" y1="294.4" x2="168.4" y2="294.4" stroke="#9478d0" stroke-width="1.8"/>
<text x="169.00" y="297.00" font-size="7.40" fill="#8c80d0" text-anchor="start" font-weight="bold" textLength="84.0" lengthAdjust="spacingAndGlyphs" stroke="#8c80d0" stroke-width="0.30" >ODASnBr<tspan baseline-shift="sub" font-size="5">4</tspan>[PeOH], 601nm</text>
<line x1="146.5" y1="306.9" x2="168.4" y2="306.9" stroke="#b2a824" stroke-width="1.8"/>
<text x="169.00" y="309.50" font-size="7.40" fill="#a8a030" text-anchor="start" font-weight="bold" textLength="84.0" lengthAdjust="spacingAndGlyphs" stroke="#a8a030" stroke-width="0.30" >ODASnBr<tspan baseline-shift="sub" font-size="5">4</tspan>[HeOH], 572nm</text>
<text x="267.20" y="272.40" font-size="24.50" fill="#000" text-anchor="start" font-weight="bold" stroke="#000" stroke-width="0.30" >d</text>
<clipPath id="dc"><rect x="305.6" y="258.5" width="232.7" height="189.8"/></clipPath>
<g clip-path="url(#dc)">
<path d="M305.60,260.47 L307.91,262.48 L310.21,264.49 L312.52,266.49 L314.83,268.49 L317.13,270.48 L319.44,272.47 L321.75,274.45 L324.06,276.43 L326.36,278.40 L328.67,280.37 L330.98,282.33 L333.28,284.29 L335.59,286.24 L337.90,288.18 L340.21,290.12 L342.51,292.04 L344.82,293.97 L347.13,295.88 L349.43,297.79 L351.74,299.69 L354.05,301.59 L356.35,303.47 L358.66,305.35 L360.97,307.22 L363.27,309.08 L365.58,310.94 L367.89,312.78 L370.20,314.61 L372.50,316.44 L374.81,318.25 L377.12,320.05 L379.42,321.85 L381.73,323.63 L384.04,325.40 L386.35,327.15 L388.65,328.90 L390.96,330.63 L393.27,332.35 L395.57,334.05 L397.88,335.74 L400.19,337.41 L402.49,339.07 L404.80,340.71 L407.11,342.34 L409.41,343.94 L411.72,345.53 L414.03,347.10 L416.34,348.64 L418.64,350.17 L420.95,351.67 L423.26,353.15 L425.56,354.61 L427.87,356.04 L430.18,357.45 L432.49,358.83 L434.79,360.18 L437.10,361.50 L439.41,362.80 L441.71,364.06 L444.02,365.30" fill="none" stroke="#ffb0f0" stroke-width="14" opacity="0.25" filter="url(#bl4)"/>
<circle cx="305.6" cy="260.5" r="1.45" fill="#3e3232"/>
<circle cx="306.0" cy="260.5" r="1.45" fill="#3e3232"/>
<circle cx="306.4" cy="261.2" r="1.45" fill="#3e3232"/>
<circle cx="306.9" cy="261.9" r="1.45" fill="#3e3232"/>
<circle cx="307.3" cy="262.4" r="1.45" fill="#3e3232"/>
<circle cx="307.7" cy="262.3" r="1.45" fill="#3e3232"/>
<circle cx="308.1" cy="263.1" r="1.45" fill="#3e3232"/>
<circle cx="308.6" cy="263.6" r="1.45" fill="#3e3232"/>
<circle cx="309.0" cy="263.4" r="1.45" fill="#3e3232"/>
<circle cx="309.4" cy="263.7" r="1.45" fill="#3e3232"/>
<circle cx="309.8" cy="263.9" r="1.45" fill="#3e3232"/>
<circle cx="310.3" cy="264.9" r="1.45" fill="#3e3232"/>
<circle cx="310.7" cy="264.9" r="1.45" fill="#3e3232"/>
<circle cx="311.1" cy="265.3" r="1.45" fill="#3e3232"/>
<circle cx="311.5" cy="266.3" r="1.45" fill="#3e3232"/>
<circle cx="311.9" cy="265.8" r="1.45" fill="#3e3232"/>
<circle cx="312.4" cy="266.2" r="1.45" fill="#3e3232"/>
<circle cx="312.8" cy="265.7" r="1.45" fill="#3e3232"/>
<circle cx="313.2" cy="267.0" r="1.45" fill="#3e3232"/>
<circle cx="313.6" cy="267.5" r="1.45" fill="#3e3232"/>
<circle cx="314.1" cy="267.3" r="1.45" fill="#3e3232"/>
<circle cx="314.5" cy="268.1" r="1.45" fill="#3e3232"/>
<circle cx="314.9" cy="268.2" r="1.45" fill="#3e3232"/>
<circle cx="315.3" cy="269.1" r="1.45" fill="#3e3232"/>
<circle cx="315.8" cy="269.2" r="1.45" fill="#3e3232"/>
<circle cx="316.2" cy="269.2" r="1.45" fill="#3e3232"/>
<circle cx="316.6" cy="269.7" r="1.45" fill="#3e3232"/>
<circle cx="317.0" cy="270.3" r="1.45" fill="#3e3232"/>
<circle cx="317.4" cy="271.3" r="1.45" fill="#3e3232"/>
<circle cx="317.9" cy="270.9" r="1.45" fill="#3e3232"/>
<circle cx="318.3" cy="271.5" r="1.45" fill="#3e3232"/>
<circle cx="318.7" cy="271.5" r="1.45" fill="#3e3232"/>
<circle cx="319.1" cy="272.1" r="1.45" fill="#3e3232"/>
<circle cx="319.6" cy="272.0" r="1.45" fill="#3e3232"/>
<circle cx="320.0" cy="273.0" r="1.45" fill="#3e3232"/>
<circle cx="320.4" cy="273.2" r="1.45" fill="#3e3232"/>
<circle cx="320.8" cy="273.3" r="1.45" fill="#3e3232"/>
<circle cx="321.2" cy="274.6" r="1.45" fill="#3e3232"/>
<circle cx="321.7" cy="274.6" r="1.45" fill="#3e3232"/>
<circle cx="322.1" cy="275.0" r="1.45" fill="#3e3232"/>
<circle cx="322.5" cy="274.1" r="1.45" fill="#3e3232"/>
<circle cx="322.9" cy="275.6" r="1.45" fill="#3e3232"/>
<circle cx="323.4" cy="275.5" r="1.45" fill="#3e3232"/>
<circle cx="323.8" cy="275.9" r="1.45" fill="#3e3232"/>
<circle cx="324.2" cy="276.7" r="1.45" fill="#3e3232"/>
<circle cx="324.6" cy="277.9" r="1.45" fill="#3e3232"/>
<circle cx="325.1" cy="276.8" r="1.45" fill="#3e3232"/>
<circle cx="325.5" cy="277.9" r="1.45" fill="#3e3232"/>
<circle cx="325.9" cy="277.6" r="1.45" fill="#3e3232"/>
<circle cx="326.3" cy="279.2" r="1.45" fill="#3e3232"/>
<circle cx="326.7" cy="279.0" r="1.45" fill="#3e3232"/>
<circle cx="327.2" cy="278.4" r="1.45" fill="#3e3232"/>
<circle cx="327.6" cy="278.6" r="1.45" fill="#3e3232"/>
<circle cx="328.0" cy="280.7" r="1.45" fill="#3e3232"/>
<circle cx="328.4" cy="281.0" r="1.45" fill="#3e3232"/>
<circle cx="328.9" cy="280.6" r="1.45" fill="#3e3232"/>
<circle cx="329.3" cy="280.5" r="1.45" fill="#3e3232"/>
<circle cx="329.7" cy="281.2" r="1.45" fill="#3e3232"/>
<circle cx="330.1" cy="281.5" r="1.45" fill="#3e3232"/>
<circle cx="330.6" cy="282.7" r="1.45" fill="#3e3232"/>
<circle cx="331.0" cy="282.0" r="1.45" fill="#3e3232"/>
<circle cx="331.4" cy="282.0" r="1.45" fill="#3e3232"/>
<circle cx="331.8" cy="283.4" r="1.45" fill="#3e3232"/>
<circle cx="332.2" cy="284.4" r="1.45" fill="#3e3232"/>
<circle cx="332.7" cy="284.3" r="1.45" fill="#3e3232"/>
<circle cx="333.1" cy="283.6" r="1.45" fill="#3e3232"/>
<circle cx="333.5" cy="285.8" r="1.45" fill="#3e3232"/>
<circle cx="333.9" cy="284.9" r="1.45" fill="#3e3232"/>
<circle cx="334.4" cy="285.9" r="1.45" fill="#3e3232"/>
<circle cx="334.8" cy="285.7" r="1.45" fill="#3e3232"/>
<circle cx="335.2" cy="286.1" r="1.45" fill="#3e3232"/>
<circle cx="335.6" cy="286.3" r="1.45" fill="#3e3232"/>
<circle cx="336.1" cy="285.6" r="1.45" fill="#3e3232"/>
<circle cx="336.5" cy="286.7" r="1.45" fill="#3e3232"/>
<circle cx="336.9" cy="286.4" r="1.45" fill="#3e3232"/>
<circle cx="337.3" cy="287.8" r="1.45" fill="#3e3232"/>
<circle cx="337.7" cy="288.5" r="1.45" fill="#3e3232"/>
<circle cx="338.2" cy="288.2" r="1.45" fill="#3e3232"/>
<circle cx="338.6" cy="291.1" r="1.45" fill="#3e3232"/>
<circle cx="339.0" cy="289.2" r="1.45" fill="#3e3232"/>
<circle cx="339.4" cy="289.4" r="1.45" fill="#3e3232"/>
<circle cx="339.9" cy="290.9" r="1.45" fill="#3e3232"/>
<circle cx="340.3" cy="289.9" r="1.45" fill="#3e3232"/>
<circle cx="340.7" cy="291.0" r="1.45" fill="#3e3232"/>
<circle cx="341.1" cy="293.1" r="1.45" fill="#3e3232"/>
<circle cx="341.6" cy="291.5" r="1.45" fill="#3e3232"/>
<circle cx="342.0" cy="292.5" r="1.45" fill="#3e3232"/>
<circle cx="342.4" cy="292.5" r="1.45" fill="#3e3232"/>
<circle cx="342.8" cy="292.5" r="1.45" fill="#3e3232"/>
<circle cx="343.2" cy="291.7" r="1.45" fill="#3e3232"/>
<circle cx="343.7" cy="293.0" r="1.45" fill="#3e3232"/>
<circle cx="344.1" cy="293.4" r="1.45" fill="#3e3232"/>
<circle cx="344.5" cy="293.4" r="1.45" fill="#3e3232"/>
<circle cx="344.9" cy="295.8" r="1.45" fill="#3e3232"/>
<circle cx="345.4" cy="293.4" r="1.45" fill="#3e3232"/>
<circle cx="345.8" cy="295.8" r="1.45" fill="#3e3232"/>
<circle cx="346.2" cy="294.8" r="1.45" fill="#3e3232"/>
<circle cx="346.6" cy="296.6" r="1.45" fill="#3e3232"/>
<circle cx="347.0" cy="296.8" r="1.45" fill="#3e3232"/>
<circle cx="347.5" cy="296.6" r="1.45" fill="#3e3232"/>
<circle cx="347.9" cy="294.9" r="1.45" fill="#3e3232"/>
<circle cx="348.3" cy="296.3" r="1.45" fill="#3e3232"/>
<circle cx="348.7" cy="297.9" r="1.45" fill="#3e3232"/>
<circle cx="349.2" cy="297.9" r="1.45" fill="#3e3232"/>
<circle cx="349.6" cy="299.2" r="1.45" fill="#3e3232"/>
<circle cx="350.0" cy="298.4" r="1.45" fill="#3e3232"/>
<circle cx="350.4" cy="299.3" r="1.45" fill="#3e3232"/>
<circle cx="350.9" cy="298.3" r="1.45" fill="#3e3232"/>
<circle cx="351.3" cy="300.9" r="1.45" fill="#3e3232"/>
<circle cx="351.7" cy="300.1" r="1.45" fill="#3e3232"/>
<circle cx="352.1" cy="301.0" r="1.45" fill="#3e3232"/>
<circle cx="352.5" cy="301.2" r="1.45" fill="#3e3232"/>
<circle cx="353.0" cy="300.0" r="1.45" fill="#3e3232"/>
<circle cx="353.4" cy="301.0" r="1.45" fill="#3e3232"/>
<circle cx="353.8" cy="300.9" r="1.45" fill="#3e3232"/>
<circle cx="354.2" cy="300.6" r="1.45" fill="#3e3232"/>
<circle cx="354.7" cy="300.9" r="1.45" fill="#3e3232"/>
<circle cx="355.1" cy="304.2" r="1.45" fill="#3e3232"/>
<circle cx="355.5" cy="302.3" r="1.45" fill="#3e3232"/>
<circle cx="355.9" cy="305.4" r="1.45" fill="#3e3232"/>
<circle cx="356.4" cy="303.7" r="1.45" fill="#3e3232"/>
<circle cx="356.8" cy="301.8" r="1.45" fill="#3e3232"/>
<circle cx="357.2" cy="304.5" r="1.45" fill="#3e3232"/>
<circle cx="357.6" cy="305.1" r="1.45" fill="#3e3232"/>
<circle cx="358.0" cy="304.8" r="1.45" fill="#3e3232"/>
<circle cx="358.5" cy="305.3" r="1.45" fill="#3e3232"/>
<circle cx="358.9" cy="305.6" r="1.45" fill="#3e3232"/>
<circle cx="359.3" cy="307.0" r="1.45" fill="#3e3232"/>
<circle cx="359.7" cy="305.0" r="1.45" fill="#3e3232"/>
<circle cx="360.2" cy="305.6" r="1.45" fill="#3e3232"/>
<circle cx="360.6" cy="307.3" r="1.45" fill="#3e3232"/>
<circle cx="361.0" cy="307.0" r="1.45" fill="#3e3232"/>
<circle cx="361.4" cy="306.9" r="1.45" fill="#3e3232"/>
<circle cx="361.9" cy="306.7" r="1.45" fill="#3e3232"/>
<circle cx="362.3" cy="307.9" r="1.45" fill="#3e3232"/>
<circle cx="362.7" cy="307.8" r="1.45" fill="#3e3232"/>
<circle cx="363.1" cy="309.5" r="1.45" fill="#3e3232"/>
<circle cx="363.5" cy="311.0" r="1.45" fill="#3e3232"/>
<circle cx="364.0" cy="310.5" r="1.45" fill="#3e3232"/>
<circle cx="364.4" cy="308.7" r="1.45" fill="#3e3232"/>
<circle cx="364.8" cy="309.1" r="1.45" fill="#3e3232"/>
<circle cx="365.2" cy="310.6" r="1.45" fill="#3e3232"/>
<circle cx="365.7" cy="312.0" r="1.45" fill="#3e3232"/>
<circle cx="366.1" cy="311.0" r="1.45" fill="#3e3232"/>
<circle cx="366.5" cy="309.5" r="1.45" fill="#3e3232"/>
<circle cx="366.9" cy="310.2" r="1.45" fill="#3e3232"/>
<circle cx="367.4" cy="313.6" r="1.45" fill="#3e3232"/>
<circle cx="367.8" cy="312.9" r="1.45" fill="#3e3232"/>
<circle cx="368.2" cy="315.6" r="1.45" fill="#3e3232"/>
<circle cx="368.6" cy="315.4" r="1.45" fill="#3e3232"/>
<circle cx="369.0" cy="313.6" r="1.45" fill="#3e3232"/>
<circle cx="369.5" cy="314.2" r="1.45" fill="#3e3232"/>
<circle cx="369.9" cy="313.0" r="1.45" fill="#3e3232"/>
<circle cx="370.3" cy="312.9" r="1.45" fill="#3e3232"/>
<circle cx="370.7" cy="313.9" r="1.45" fill="#3e3232"/>
<circle cx="371.2" cy="313.5" r="1.45" fill="#3e3232"/>
<circle cx="371.6" cy="316.8" r="1.45" fill="#3e3232"/>
<circle cx="372.0" cy="318.3" r="1.45" fill="#3e3232"/>
<circle cx="372.4" cy="315.7" r="1.45" fill="#3e3232"/>
<circle cx="372.8" cy="312.7" r="1.45" fill="#3e3232"/>
<circle cx="373.3" cy="316.6" r="1.45" fill="#3e3232"/>
<circle cx="373.7" cy="319.7" r="1.45" fill="#3e3232"/>
<circle cx="374.1" cy="317.5" r="1.45" fill="#3e3232"/>
<circle cx="374.5" cy="315.8" r="1.45" fill="#3e3232"/>
<circle cx="375.0" cy="320.6" r="1.45" fill="#3e3232"/>
<circle cx="375.4" cy="317.5" r="1.45" fill="#3e3232"/>
<circle cx="375.8" cy="320.4" r="1.45" fill="#3e3232"/>
<circle cx="376.2" cy="317.3" r="1.45" fill="#3e3232"/>
<circle cx="376.7" cy="318.5" r="1.45" fill="#3e3232"/>
<circle cx="377.1" cy="319.7" r="1.45" fill="#3e3232"/>
<circle cx="377.5" cy="317.0" r="1.45" fill="#3e3232"/>
<circle cx="377.9" cy="321.7" r="1.45" fill="#3e3232"/>
<circle cx="378.3" cy="322.7" r="1.45" fill="#3e3232"/>
<circle cx="378.8" cy="318.2" r="1.45" fill="#3e3232"/>
<circle cx="379.2" cy="323.8" r="1.45" fill="#3e3232"/>
<circle cx="379.6" cy="318.2" r="1.45" fill="#3e3232"/>
<circle cx="380.0" cy="322.7" r="1.45" fill="#3e3232"/>
<circle cx="380.5" cy="325.2" r="1.45" fill="#3e3232"/>
<circle cx="380.9" cy="323.2" r="1.45" fill="#3e3232"/>
<circle cx="381.3" cy="323.3" r="1.45" fill="#3e3232"/>
<circle cx="381.7" cy="323.5" r="1.45" fill="#3e3232"/>
<circle cx="382.2" cy="324.7" r="1.45" fill="#3e3232"/>
<circle cx="382.6" cy="322.3" r="1.45" fill="#3e3232"/>
<circle cx="383.0" cy="330.9" r="1.45" fill="#3e3232"/>
<circle cx="383.4" cy="326.5" r="1.45" fill="#3e3232"/>
<circle cx="383.8" cy="326.2" r="1.45" fill="#3e3232"/>
<circle cx="384.3" cy="322.0" r="1.45" fill="#3e3232"/>
<circle cx="384.7" cy="331.5" r="1.45" fill="#3e3232"/>
<circle cx="385.1" cy="327.4" r="1.45" fill="#3e3232"/>
<circle cx="385.5" cy="329.8" r="1.45" fill="#3e3232"/>
<circle cx="386.0" cy="328.9" r="1.45" fill="#3e3232"/>
<circle cx="386.4" cy="326.0" r="1.45" fill="#3e3232"/>
<circle cx="386.8" cy="326.8" r="1.45" fill="#3e3232"/>
<circle cx="387.2" cy="324.8" r="1.45" fill="#3e3232"/>
<circle cx="387.7" cy="330.1" r="1.45" fill="#3e3232"/>
<circle cx="388.1" cy="328.1" r="1.45" fill="#3e3232"/>
<circle cx="388.5" cy="326.3" r="1.45" fill="#3e3232"/>
<circle cx="388.9" cy="327.2" r="1.45" fill="#3e3232"/>
<circle cx="389.3" cy="330.7" r="1.45" fill="#3e3232"/>
<circle cx="389.8" cy="327.3" r="1.45" fill="#3e3232"/>
<circle cx="390.2" cy="333.1" r="1.45" fill="#3e3232"/>
<circle cx="390.6" cy="326.3" r="1.45" fill="#3e3232"/>
<circle cx="391.0" cy="330.7" r="1.45" fill="#3e3232"/>
<circle cx="391.5" cy="331.7" r="1.45" fill="#3e3232"/>
<circle cx="391.9" cy="331.0" r="1.45" fill="#3e3232"/>
<circle cx="392.3" cy="329.7" r="1.45" fill="#3e3232"/>
<circle cx="392.7" cy="327.8" r="1.45" fill="#3e3232"/>
<circle cx="393.2" cy="333.1" r="1.45" fill="#3e3232"/>
<circle cx="393.6" cy="334.1" r="1.45" fill="#3e3232"/>
<circle cx="394.0" cy="331.6" r="1.45" fill="#3e3232"/>
<circle cx="394.4" cy="336.5" r="1.45" fill="#3e3232"/>
<circle cx="394.8" cy="340.0" r="1.45" fill="#3e3232"/>
<circle cx="395.3" cy="331.8" r="1.45" fill="#3e3232"/>
<circle cx="395.7" cy="335.8" r="1.45" fill="#3e3232"/>
<circle cx="396.1" cy="331.6" r="1.45" fill="#3e3232"/>
<circle cx="396.5" cy="338.9" r="1.45" fill="#3e3232"/>
<circle cx="397.0" cy="348.3" r="1.45" fill="#3e3232"/>
<circle cx="397.4" cy="335.0" r="1.45" fill="#3e3232"/>
<circle cx="397.8" cy="335.7" r="1.45" fill="#3e3232"/>
<circle cx="398.2" cy="331.7" r="1.45" fill="#3e3232"/>
<circle cx="398.6" cy="335.1" r="1.45" fill="#3e3232"/>
<circle cx="399.1" cy="336.1" r="1.45" fill="#3e3232"/>
<circle cx="399.5" cy="335.5" r="1.45" fill="#3e3232"/>
<circle cx="399.9" cy="339.1" r="1.45" fill="#3e3232"/>
<circle cx="400.3" cy="337.8" r="1.45" fill="#3e3232"/>
<circle cx="400.8" cy="344.0" r="1.45" fill="#3e3232"/>
<circle cx="401.2" cy="336.9" r="1.45" fill="#3e3232"/>
<circle cx="401.6" cy="342.3" r="1.45" fill="#3e3232"/>
<circle cx="402.0" cy="341.1" r="1.45" fill="#3e3232"/>
<circle cx="402.5" cy="337.1" r="1.45" fill="#3e3232"/>
<circle cx="402.9" cy="336.7" r="1.45" fill="#3e3232"/>
<circle cx="403.3" cy="344.6" r="1.45" fill="#3e3232"/>
<circle cx="403.7" cy="333.9" r="1.45" fill="#3e3232"/>
<circle cx="404.1" cy="343.4" r="1.45" fill="#3e3232"/>
<circle cx="404.6" cy="338.1" r="1.45" fill="#3e3232"/>
<circle cx="405.0" cy="338.0" r="1.45" fill="#3e3232"/>
<circle cx="405.4" cy="340.9" r="1.45" fill="#3e3232"/>
<circle cx="405.8" cy="341.4" r="1.45" fill="#3e3232"/>
<circle cx="406.3" cy="336.0" r="1.45" fill="#3e3232"/>
<circle cx="406.7" cy="339.3" r="1.45" fill="#3e3232"/>
<circle cx="407.1" cy="341.2" r="1.45" fill="#3e3232"/>
<circle cx="407.5" cy="353.5" r="1.45" fill="#3e3232"/>
<circle cx="408.0" cy="347.3" r="1.45" fill="#3e3232"/>
<circle cx="408.4" cy="339.3" r="1.45" fill="#3e3232"/>
<circle cx="408.8" cy="343.4" r="1.45" fill="#3e3232"/>
<circle cx="409.2" cy="349.5" r="1.45" fill="#3e3232"/>
<circle cx="409.6" cy="348.1" r="1.45" fill="#3e3232"/>
<circle cx="410.1" cy="346.7" r="1.45" fill="#3e3232"/>
<circle cx="410.5" cy="342.5" r="1.45" fill="#3e3232"/>
<circle cx="410.9" cy="344.0" r="1.45" fill="#3e3232"/>
<circle cx="411.3" cy="341.7" r="1.45" fill="#3e3232"/>
<circle cx="411.8" cy="350.9" r="1.45" fill="#3e3232"/>
<circle cx="412.2" cy="342.3" r="1.45" fill="#3e3232"/>
<circle cx="412.6" cy="349.7" r="1.45" fill="#3e3232"/>
<circle cx="413.0" cy="348.9" r="1.45" fill="#3e3232"/>
<circle cx="413.5" cy="340.2" r="1.45" fill="#3e3232"/>
<circle cx="413.9" cy="347.5" r="1.45" fill="#3e3232"/>
<circle cx="414.3" cy="348.9" r="1.45" fill="#3e3232"/>
<circle cx="414.7" cy="349.7" r="1.45" fill="#3e3232"/>
<circle cx="415.1" cy="351.0" r="1.45" fill="#3e3232"/>
<circle cx="415.6" cy="341.9" r="1.45" fill="#3e3232"/>
<circle cx="416.0" cy="342.9" r="1.45" fill="#3e3232"/>
<circle cx="416.4" cy="346.0" r="1.45" fill="#3e3232"/>
<circle cx="416.8" cy="348.9" r="1.45" fill="#3e3232"/>
<circle cx="417.3" cy="345.0" r="1.45" fill="#3e3232"/>
<circle cx="417.7" cy="351.0" r="1.45" fill="#3e3232"/>
<circle cx="418.1" cy="348.3" r="1.45" fill="#3e3232"/>
<circle cx="418.5" cy="348.9" r="1.45" fill="#3e3232"/>
<circle cx="419.0" cy="350.9" r="1.45" fill="#3e3232"/>
<circle cx="419.4" cy="343.5" r="1.45" fill="#3e3232"/>
<circle cx="419.8" cy="343.3" r="1.45" fill="#3e3232"/>
<circle cx="420.2" cy="345.3" r="1.45" fill="#3e3232"/>
<circle cx="420.6" cy="371.2" r="1.45" fill="#3e3232"/>
<circle cx="421.1" cy="343.6" r="1.45" fill="#3e3232"/>
<circle cx="421.5" cy="349.1" r="1.45" fill="#3e3232"/>
<circle cx="421.9" cy="356.7" r="1.45" fill="#3e3232"/>
<circle cx="422.3" cy="353.9" r="1.45" fill="#3e3232"/>
<circle cx="422.8" cy="347.5" r="1.45" fill="#3e3232"/>
<circle cx="423.2" cy="347.6" r="1.45" fill="#3e3232"/>
<circle cx="423.6" cy="349.4" r="1.45" fill="#3e3232"/>
<circle cx="424.0" cy="353.9" r="1.45" fill="#3e3232"/>
<circle cx="424.4" cy="354.9" r="1.45" fill="#3e3232"/>
<circle cx="424.9" cy="350.2" r="1.45" fill="#3e3232"/>
<circle cx="425.3" cy="356.4" r="1.45" fill="#3e3232"/>
<circle cx="425.7" cy="364.0" r="1.45" fill="#3e3232"/>
<circle cx="426.1" cy="361.6" r="1.45" fill="#3e3232"/>
<circle cx="426.6" cy="357.7" r="1.45" fill="#3e3232"/>
<circle cx="427.0" cy="354.5" r="1.45" fill="#3e3232"/>
<circle cx="427.4" cy="344.6" r="1.45" fill="#3e3232"/>
<circle cx="427.8" cy="372.7" r="1.45" fill="#3e3232"/>
<circle cx="428.3" cy="354.3" r="1.45" fill="#3e3232"/>
<circle cx="428.7" cy="358.7" r="1.45" fill="#3e3232"/>
<circle cx="429.1" cy="356.0" r="1.45" fill="#3e3232"/>
<circle cx="429.5" cy="349.7" r="1.45" fill="#3e3232"/>
<circle cx="429.9" cy="350.5" r="1.45" fill="#3e3232"/>
<circle cx="430.4" cy="360.5" r="1.45" fill="#3e3232"/>
<circle cx="430.8" cy="364.8" r="1.45" fill="#3e3232"/>
<circle cx="431.2" cy="377.2" r="1.45" fill="#3e3232"/>
<circle cx="431.6" cy="360.6" r="1.45" fill="#3e3232"/>
<circle cx="432.1" cy="351.5" r="1.45" fill="#3e3232"/>
<circle cx="432.5" cy="363.0" r="1.45" fill="#3e3232"/>
<circle cx="432.9" cy="355.2" r="1.45" fill="#3e3232"/>
<circle cx="433.3" cy="355.4" r="1.45" fill="#3e3232"/>
<circle cx="433.8" cy="357.9" r="1.45" fill="#3e3232"/>
<circle cx="434.2" cy="353.4" r="1.45" fill="#3e3232"/>
<circle cx="434.6" cy="362.9" r="1.45" fill="#3e3232"/>
<circle cx="435.0" cy="372.1" r="1.45" fill="#3e3232"/>
<circle cx="435.4" cy="379.0" r="1.45" fill="#3e3232"/>
<circle cx="435.9" cy="355.1" r="1.45" fill="#3e3232"/>
<circle cx="436.3" cy="366.8" r="1.45" fill="#3e3232"/>
<circle cx="436.7" cy="366.5" r="1.45" fill="#3e3232"/>
<circle cx="437.1" cy="356.4" r="1.45" fill="#3e3232"/>
<circle cx="437.6" cy="374.0" r="1.45" fill="#3e3232"/>
<circle cx="438.0" cy="350.9" r="1.45" fill="#3e3232"/>
<circle cx="438.4" cy="358.2" r="1.45" fill="#3e3232"/>
<circle cx="438.8" cy="371.0" r="1.45" fill="#3e3232"/>
<circle cx="439.3" cy="373.0" r="1.45" fill="#3e3232"/>
<circle cx="439.7" cy="355.7" r="1.45" fill="#3e3232"/>
<circle cx="440.1" cy="386.1" r="1.45" fill="#3e3232"/>
<circle cx="440.5" cy="374.3" r="1.45" fill="#3e3232"/>
<circle cx="440.9" cy="365.7" r="1.45" fill="#3e3232"/>
<circle cx="441.4" cy="363.8" r="1.45" fill="#3e3232"/>
<circle cx="441.8" cy="366.1" r="1.45" fill="#3e3232"/>
<circle cx="442.2" cy="362.5" r="1.45" fill="#3e3232"/>
<circle cx="442.6" cy="371.6" r="1.45" fill="#3e3232"/>
<circle cx="443.1" cy="368.5" r="1.45" fill="#3e3232"/>
<circle cx="443.5" cy="356.0" r="1.45" fill="#3e3232"/>
<circle cx="443.9" cy="360.9" r="1.45" fill="#3e3232"/>
<circle cx="444.3" cy="374.3" r="1.45" fill="#3e3232"/>
<circle cx="444.8" cy="353.5" r="1.45" fill="#3e3232"/>
<circle cx="445.6" cy="367.5" r="1.45" fill="#3e3232"/>
<circle cx="446.0" cy="361.6" r="1.45" fill="#3e3232"/>
<circle cx="446.4" cy="359.2" r="1.45" fill="#3e3232"/>
<circle cx="446.9" cy="367.9" r="1.45" fill="#3e3232"/>
<circle cx="447.3" cy="375.4" r="1.45" fill="#3e3232"/>
<circle cx="447.7" cy="363.1" r="1.45" fill="#3e3232"/>
<circle cx="448.1" cy="372.8" r="1.45" fill="#3e3232"/>
<circle cx="448.6" cy="364.6" r="1.45" fill="#3e3232"/>
<circle cx="449.4" cy="366.0" r="1.45" fill="#3e3232"/>
<circle cx="449.8" cy="387.4" r="1.45" fill="#3e3232"/>
<circle cx="450.2" cy="360.9" r="1.45" fill="#3e3232"/>
<circle cx="450.7" cy="362.8" r="1.45" fill="#3e3232"/>
<circle cx="451.1" cy="363.1" r="1.45" fill="#3e3232"/>
<circle cx="451.5" cy="379.0" r="1.45" fill="#3e3232"/>
<circle cx="451.9" cy="366.5" r="1.45" fill="#3e3232"/>
<circle cx="452.4" cy="378.4" r="1.45" fill="#3e3232"/>
<circle cx="452.8" cy="369.6" r="1.45" fill="#3e3232"/>
<circle cx="453.2" cy="375.1" r="1.45" fill="#3e3232"/>
<circle cx="453.6" cy="395.8" r="1.45" fill="#3e3232"/>
<circle cx="454.1" cy="354.4" r="1.45" fill="#3e3232"/>
<circle cx="454.5" cy="364.4" r="1.45" fill="#3e3232"/>
<circle cx="455.3" cy="363.0" r="1.45" fill="#3e3232"/>
<circle cx="456.2" cy="378.7" r="1.45" fill="#3e3232"/>
<circle cx="456.6" cy="388.1" r="1.45" fill="#3e3232"/>
<circle cx="457.0" cy="387.0" r="1.45" fill="#3e3232"/>
<circle cx="457.4" cy="371.3" r="1.45" fill="#3e3232"/>
<circle cx="457.9" cy="382.0" r="1.45" fill="#3e3232"/>
<circle cx="458.7" cy="375.9" r="1.45" fill="#3e3232"/>
<circle cx="459.1" cy="370.3" r="1.45" fill="#3e3232"/>
<circle cx="459.6" cy="357.0" r="1.45" fill="#3e3232"/>
<circle cx="460.0" cy="385.9" r="1.45" fill="#3e3232"/>
<circle cx="460.8" cy="385.6" r="1.45" fill="#3e3232"/>
<circle cx="461.2" cy="367.5" r="1.45" fill="#3e3232"/>
<circle cx="461.7" cy="413.2" r="1.45" fill="#3e3232"/>
<circle cx="462.1" cy="400.8" r="1.45" fill="#3e3232"/>
<circle cx="462.5" cy="369.1" r="1.45" fill="#3e3232"/>
<circle cx="462.9" cy="378.1" r="1.45" fill="#3e3232"/>
<circle cx="463.4" cy="374.1" r="1.45" fill="#3e3232"/>
<circle cx="463.8" cy="397.9" r="1.45" fill="#3e3232"/>
<circle cx="464.2" cy="413.6" r="1.45" fill="#3e3232"/>
<circle cx="464.6" cy="386.7" r="1.45" fill="#3e3232"/>
<circle cx="465.1" cy="382.4" r="1.45" fill="#3e3232"/>
<circle cx="465.5" cy="387.6" r="1.45" fill="#3e3232"/>
<circle cx="465.9" cy="371.9" r="1.45" fill="#3e3232"/>
<circle cx="466.3" cy="370.4" r="1.45" fill="#3e3232"/>
<circle cx="466.7" cy="370.5" r="1.45" fill="#3e3232"/>
<circle cx="467.2" cy="371.6" r="1.45" fill="#3e3232"/>
<circle cx="467.6" cy="441.6" r="1.45" fill="#3e3232"/>
<circle cx="468.4" cy="367.8" r="1.45" fill="#3e3232"/>
<circle cx="468.9" cy="380.4" r="1.45" fill="#3e3232"/>
<circle cx="469.3" cy="378.3" r="1.45" fill="#3e3232"/>
<circle cx="470.1" cy="386.8" r="1.45" fill="#3e3232"/>
<circle cx="470.6" cy="407.9" r="1.45" fill="#3e3232"/>
<circle cx="471.4" cy="408.6" r="1.45" fill="#3e3232"/>
<circle cx="472.2" cy="380.3" r="1.45" fill="#3e3232"/>
<circle cx="472.7" cy="364.8" r="1.45" fill="#3e3232"/>
<circle cx="473.1" cy="421.4" r="1.45" fill="#3e3232"/>
<circle cx="473.5" cy="380.6" r="1.45" fill="#3e3232"/>
<circle cx="474.4" cy="370.9" r="1.45" fill="#3e3232"/>
<circle cx="474.8" cy="359.0" r="1.45" fill="#3e3232"/>
<circle cx="475.6" cy="390.5" r="1.45" fill="#3e3232"/>
<circle cx="476.0" cy="362.9" r="1.45" fill="#3e3232"/>
<circle cx="476.5" cy="376.2" r="1.45" fill="#3e3232"/>
<circle cx="476.9" cy="381.4" r="1.45" fill="#3e3232"/>
<circle cx="477.7" cy="389.0" r="1.45" fill="#3e3232"/>
<circle cx="478.2" cy="368.6" r="1.45" fill="#3e3232"/>
<circle cx="478.6" cy="363.2" r="1.45" fill="#3e3232"/>
<circle cx="479.0" cy="372.4" r="1.45" fill="#3e3232"/>
<circle cx="479.4" cy="416.8" r="1.45" fill="#3e3232"/>
<circle cx="481.1" cy="366.7" r="1.45" fill="#3e3232"/>
<circle cx="481.5" cy="389.6" r="1.45" fill="#3e3232"/>
<circle cx="482.4" cy="364.8" r="1.45" fill="#3e3232"/>
<circle cx="483.2" cy="365.5" r="1.45" fill="#3e3232"/>
<circle cx="483.7" cy="399.8" r="1.45" fill="#3e3232"/>
<circle cx="484.1" cy="378.7" r="1.45" fill="#3e3232"/>
<circle cx="484.5" cy="372.9" r="1.45" fill="#3e3232"/>
<circle cx="484.9" cy="380.5" r="1.45" fill="#3e3232"/>
<circle cx="485.4" cy="365.7" r="1.45" fill="#3e3232"/>
<circle cx="485.8" cy="387.0" r="1.45" fill="#3e3232"/>
<circle cx="486.2" cy="401.8" r="1.45" fill="#3e3232"/>
<circle cx="487.9" cy="369.4" r="1.45" fill="#3e3232"/>
<circle cx="488.3" cy="371.5" r="1.45" fill="#3e3232"/>
<circle cx="488.7" cy="364.9" r="1.45" fill="#3e3232"/>
<circle cx="489.2" cy="354.7" r="1.45" fill="#3e3232"/>
<circle cx="489.6" cy="373.3" r="1.45" fill="#3e3232"/>
<circle cx="490.0" cy="376.9" r="1.45" fill="#3e3232"/>
<circle cx="490.9" cy="399.6" r="1.45" fill="#3e3232"/>
<circle cx="491.3" cy="358.3" r="1.45" fill="#3e3232"/>
<circle cx="491.7" cy="376.7" r="1.45" fill="#3e3232"/>
<circle cx="492.1" cy="395.0" r="1.45" fill="#3e3232"/>
<circle cx="492.5" cy="381.2" r="1.45" fill="#3e3232"/>
<circle cx="494.7" cy="373.2" r="1.45" fill="#3e3232"/>
<circle cx="495.1" cy="370.5" r="1.45" fill="#3e3232"/>
<circle cx="495.5" cy="398.2" r="1.45" fill="#3e3232"/>
<circle cx="495.9" cy="381.1" r="1.45" fill="#3e3232"/>
<circle cx="496.8" cy="379.0" r="1.45" fill="#3e3232"/>
<circle cx="497.2" cy="373.6" r="1.45" fill="#3e3232"/>
<circle cx="497.6" cy="364.3" r="1.45" fill="#3e3232"/>
<circle cx="498.0" cy="364.1" r="1.45" fill="#3e3232"/>
<circle cx="498.5" cy="378.6" r="1.45" fill="#3e3232"/>
<circle cx="498.9" cy="397.0" r="1.45" fill="#3e3232"/>
<circle cx="500.2" cy="376.4" r="1.45" fill="#3e3232"/>
<circle cx="500.6" cy="377.4" r="1.45" fill="#3e3232"/>
<circle cx="501.0" cy="391.5" r="1.45" fill="#3e3232"/>
<circle cx="501.4" cy="363.4" r="1.45" fill="#3e3232"/>
<circle cx="501.8" cy="376.0" r="1.45" fill="#3e3232"/>
<circle cx="502.3" cy="391.9" r="1.45" fill="#3e3232"/>
<circle cx="502.7" cy="402.0" r="1.45" fill="#3e3232"/>
<circle cx="503.1" cy="389.9" r="1.45" fill="#3e3232"/>
<circle cx="504.4" cy="382.4" r="1.45" fill="#3e3232"/>
<circle cx="505.2" cy="409.0" r="1.45" fill="#3e3232"/>
<circle cx="505.7" cy="368.3" r="1.45" fill="#3e3232"/>
<circle cx="506.1" cy="403.4" r="1.45" fill="#3e3232"/>
<circle cx="506.5" cy="367.3" r="1.45" fill="#3e3232"/>
<circle cx="506.9" cy="394.0" r="1.45" fill="#3e3232"/>
<circle cx="507.3" cy="365.2" r="1.45" fill="#3e3232"/>
<circle cx="507.8" cy="380.3" r="1.45" fill="#3e3232"/>
<circle cx="508.6" cy="368.3" r="1.45" fill="#3e3232"/>
<circle cx="509.0" cy="405.5" r="1.45" fill="#3e3232"/>
<circle cx="509.9" cy="389.9" r="1.45" fill="#3e3232"/>
<circle cx="510.3" cy="388.6" r="1.45" fill="#3e3232"/>
<circle cx="511.6" cy="379.0" r="1.45" fill="#3e3232"/>
<circle cx="512.0" cy="366.5" r="1.45" fill="#3e3232"/>
<circle cx="512.4" cy="369.7" r="1.45" fill="#3e3232"/>
<circle cx="512.8" cy="368.7" r="1.45" fill="#3e3232"/>
<circle cx="513.3" cy="370.0" r="1.45" fill="#3e3232"/>
<circle cx="514.5" cy="388.2" r="1.45" fill="#3e3232"/>
<circle cx="515.4" cy="375.2" r="1.45" fill="#3e3232"/>
<circle cx="515.8" cy="373.4" r="1.45" fill="#3e3232"/>
<circle cx="516.7" cy="434.5" r="1.45" fill="#3e3232"/>
<circle cx="517.5" cy="396.6" r="1.45" fill="#3e3232"/>
<circle cx="517.9" cy="397.8" r="1.45" fill="#3e3232"/>
<circle cx="518.3" cy="396.2" r="1.45" fill="#3e3232"/>
<circle cx="519.2" cy="383.2" r="1.45" fill="#3e3232"/>
<circle cx="519.6" cy="427.2" r="1.45" fill="#3e3232"/>
<circle cx="520.0" cy="372.7" r="1.45" fill="#3e3232"/>
<circle cx="520.5" cy="385.2" r="1.45" fill="#3e3232"/>
<circle cx="521.7" cy="393.4" r="1.45" fill="#3e3232"/>
<circle cx="522.6" cy="381.5" r="1.45" fill="#3e3232"/>
<circle cx="523.0" cy="375.1" r="1.45" fill="#3e3232"/>
<circle cx="523.4" cy="395.8" r="1.45" fill="#3e3232"/>
<circle cx="524.7" cy="379.5" r="1.45" fill="#3e3232"/>
<circle cx="525.5" cy="370.8" r="1.45" fill="#3e3232"/>
<circle cx="526.0" cy="402.1" r="1.45" fill="#3e3232"/>
<circle cx="526.4" cy="380.7" r="1.45" fill="#3e3232"/>
<circle cx="527.2" cy="402.9" r="1.45" fill="#3e3232"/>
<circle cx="528.1" cy="411.8" r="1.45" fill="#3e3232"/>
<circle cx="528.5" cy="379.7" r="1.45" fill="#3e3232"/>
<circle cx="529.8" cy="400.5" r="1.45" fill="#3e3232"/>
<circle cx="530.2" cy="394.6" r="1.45" fill="#3e3232"/>
<circle cx="531.0" cy="377.8" r="1.45" fill="#3e3232"/>
<circle cx="531.9" cy="371.0" r="1.45" fill="#3e3232"/>
<circle cx="533.1" cy="368.3" r="1.45" fill="#3e3232"/>
<circle cx="534.4" cy="394.6" r="1.45" fill="#3e3232"/>
<circle cx="305.6" cy="260.5" r="1.45" fill="#c078e0"/>
<circle cx="306.0" cy="260.5" r="1.45" fill="#c078e0"/>
<circle cx="306.4" cy="261.5" r="1.45" fill="#c078e0"/>
<circle cx="306.9" cy="261.1" r="1.45" fill="#c078e0"/>
<circle cx="307.3" cy="262.0" r="1.45" fill="#c078e0"/>
<circle cx="307.7" cy="262.3" r="1.45" fill="#c078e0"/>
<circle cx="308.1" cy="261.8" r="1.45" fill="#c078e0"/>
<circle cx="308.6" cy="262.8" r="1.45" fill="#c078e0"/>
<circle cx="309.0" cy="263.3" r="1.45" fill="#c078e0"/>
<circle cx="309.4" cy="263.3" r="1.45" fill="#c078e0"/>
<circle cx="309.8" cy="263.5" r="1.45" fill="#c078e0"/>
<circle cx="310.3" cy="264.3" r="1.45" fill="#c078e0"/>
<circle cx="310.7" cy="264.4" r="1.45" fill="#c078e0"/>
<circle cx="311.1" cy="265.4" r="1.45" fill="#c078e0"/>
<circle cx="311.5" cy="265.5" r="1.45" fill="#c078e0"/>
<circle cx="311.9" cy="265.9" r="1.45" fill="#c078e0"/>
<circle cx="312.4" cy="266.6" r="1.45" fill="#c078e0"/>
<circle cx="312.8" cy="267.0" r="1.45" fill="#c078e0"/>
<circle cx="313.2" cy="267.4" r="1.45" fill="#c078e0"/>
<circle cx="313.6" cy="267.2" r="1.45" fill="#c078e0"/>
<circle cx="314.1" cy="267.5" r="1.45" fill="#c078e0"/>
<circle cx="314.5" cy="267.9" r="1.45" fill="#c078e0"/>
<circle cx="314.9" cy="268.1" r="1.45" fill="#c078e0"/>
<circle cx="315.3" cy="269.1" r="1.45" fill="#c078e0"/>
<circle cx="315.8" cy="268.8" r="1.45" fill="#c078e0"/>
<circle cx="316.2" cy="269.0" r="1.45" fill="#c078e0"/>
<circle cx="316.6" cy="269.1" r="1.45" fill="#c078e0"/>
<circle cx="317.0" cy="270.2" r="1.45" fill="#c078e0"/>
<circle cx="317.4" cy="270.3" r="1.45" fill="#c078e0"/>
<circle cx="317.9" cy="271.5" r="1.45" fill="#c078e0"/>
<circle cx="318.3" cy="271.1" r="1.45" fill="#c078e0"/>
<circle cx="318.7" cy="272.3" r="1.45" fill="#c078e0"/>
<circle cx="319.1" cy="272.2" r="1.45" fill="#c078e0"/>
<circle cx="319.6" cy="271.3" r="1.45" fill="#c078e0"/>
<circle cx="320.0" cy="273.3" r="1.45" fill="#c078e0"/>
<circle cx="320.4" cy="272.2" r="1.45" fill="#c078e0"/>
<circle cx="320.8" cy="272.7" r="1.45" fill="#c078e0"/>
<circle cx="321.2" cy="273.4" r="1.45" fill="#c078e0"/>
<circle cx="321.7" cy="273.3" r="1.45" fill="#c078e0"/>
<circle cx="322.1" cy="273.6" r="1.45" fill="#c078e0"/>
<circle cx="322.5" cy="273.7" r="1.45" fill="#c078e0"/>
<circle cx="322.9" cy="274.7" r="1.45" fill="#c078e0"/>
<circle cx="323.4" cy="275.3" r="1.45" fill="#c078e0"/>
<circle cx="323.8" cy="275.6" r="1.45" fill="#c078e0"/>
<circle cx="324.2" cy="276.2" r="1.45" fill="#c078e0"/>
<circle cx="324.6" cy="276.0" r="1.45" fill="#c078e0"/>
<circle cx="325.1" cy="276.8" r="1.45" fill="#c078e0"/>
<circle cx="325.5" cy="276.1" r="1.45" fill="#c078e0"/>
<circle cx="325.9" cy="278.1" r="1.45" fill="#c078e0"/>
<circle cx="326.3" cy="278.0" r="1.45" fill="#c078e0"/>
<circle cx="326.7" cy="278.2" r="1.45" fill="#c078e0"/>
<circle cx="327.2" cy="279.3" r="1.45" fill="#c078e0"/>
<circle cx="327.6" cy="277.3" r="1.45" fill="#c078e0"/>
<circle cx="328.0" cy="280.2" r="1.45" fill="#c078e0"/>
<circle cx="328.4" cy="279.2" r="1.45" fill="#c078e0"/>
<circle cx="328.9" cy="279.7" r="1.45" fill="#c078e0"/>
<circle cx="329.3" cy="278.7" r="1.45" fill="#c078e0"/>
<circle cx="329.7" cy="281.3" r="1.45" fill="#c078e0"/>
<circle cx="330.1" cy="279.7" r="1.45" fill="#c078e0"/>
<circle cx="330.6" cy="281.2" r="1.45" fill="#c078e0"/>
<circle cx="331.0" cy="281.2" r="1.45" fill="#c078e0"/>
<circle cx="331.4" cy="281.8" r="1.45" fill="#c078e0"/>
<circle cx="331.8" cy="281.3" r="1.45" fill="#c078e0"/>
<circle cx="332.2" cy="282.8" r="1.45" fill="#c078e0"/>
<circle cx="332.7" cy="282.5" r="1.45" fill="#c078e0"/>
<circle cx="333.1" cy="282.5" r="1.45" fill="#c078e0"/>
<circle cx="333.5" cy="281.9" r="1.45" fill="#c078e0"/>
<circle cx="333.9" cy="285.1" r="1.45" fill="#c078e0"/>
<circle cx="334.4" cy="282.8" r="1.45" fill="#c078e0"/>
<circle cx="334.8" cy="283.5" r="1.45" fill="#c078e0"/>
<circle cx="335.2" cy="284.8" r="1.45" fill="#c078e0"/>
<circle cx="335.6" cy="284.6" r="1.45" fill="#c078e0"/>
<circle cx="336.1" cy="285.4" r="1.45" fill="#c078e0"/>
<circle cx="336.5" cy="284.3" r="1.45" fill="#c078e0"/>
<circle cx="336.9" cy="285.6" r="1.45" fill="#c078e0"/>
<circle cx="337.3" cy="286.3" r="1.45" fill="#c078e0"/>
<circle cx="337.7" cy="286.6" r="1.45" fill="#c078e0"/>
<circle cx="338.2" cy="286.9" r="1.45" fill="#c078e0"/>
<circle cx="338.6" cy="287.3" r="1.45" fill="#c078e0"/>
<circle cx="339.0" cy="288.1" r="1.45" fill="#c078e0"/>
<circle cx="339.4" cy="286.3" r="1.45" fill="#c078e0"/>
<circle cx="339.9" cy="289.6" r="1.45" fill="#c078e0"/>
<circle cx="340.3" cy="291.5" r="1.45" fill="#c078e0"/>
<circle cx="340.7" cy="288.9" r="1.45" fill="#c078e0"/>
<circle cx="341.1" cy="289.3" r="1.45" fill="#c078e0"/>
<circle cx="341.6" cy="289.2" r="1.45" fill="#c078e0"/>
<circle cx="342.0" cy="290.0" r="1.45" fill="#c078e0"/>
<circle cx="342.4" cy="290.3" r="1.45" fill="#c078e0"/>
<circle cx="342.8" cy="290.2" r="1.45" fill="#c078e0"/>
<circle cx="343.2" cy="290.0" r="1.45" fill="#c078e0"/>
<circle cx="343.7" cy="291.5" r="1.45" fill="#c078e0"/>
<circle cx="344.1" cy="291.8" r="1.45" fill="#c078e0"/>
<circle cx="344.5" cy="290.2" r="1.45" fill="#c078e0"/>
<circle cx="344.9" cy="291.7" r="1.45" fill="#c078e0"/>
<circle cx="345.4" cy="293.3" r="1.45" fill="#c078e0"/>
<circle cx="345.8" cy="290.9" r="1.45" fill="#c078e0"/>
<circle cx="346.2" cy="292.5" r="1.45" fill="#c078e0"/>
<circle cx="346.6" cy="294.0" r="1.45" fill="#c078e0"/>
<circle cx="347.0" cy="294.9" r="1.45" fill="#c078e0"/>
<circle cx="347.5" cy="293.9" r="1.45" fill="#c078e0"/>
<circle cx="347.9" cy="295.2" r="1.45" fill="#c078e0"/>
<circle cx="348.3" cy="295.8" r="1.45" fill="#c078e0"/>
<circle cx="348.7" cy="296.4" r="1.45" fill="#c078e0"/>
<circle cx="349.2" cy="295.9" r="1.45" fill="#c078e0"/>
<circle cx="349.6" cy="294.8" r="1.45" fill="#c078e0"/>
<circle cx="350.0" cy="296.5" r="1.45" fill="#c078e0"/>
<circle cx="350.4" cy="297.9" r="1.45" fill="#c078e0"/>
<circle cx="350.9" cy="296.2" r="1.45" fill="#c078e0"/>
<circle cx="351.3" cy="297.1" r="1.45" fill="#c078e0"/>
<circle cx="351.7" cy="296.6" r="1.45" fill="#c078e0"/>
<circle cx="352.1" cy="296.6" r="1.45" fill="#c078e0"/>
<circle cx="352.5" cy="298.3" r="1.45" fill="#c078e0"/>
<circle cx="353.0" cy="298.6" r="1.45" fill="#c078e0"/>
<circle cx="353.4" cy="298.8" r="1.45" fill="#c078e0"/>
<circle cx="353.8" cy="300.3" r="1.45" fill="#c078e0"/>
<circle cx="354.2" cy="298.7" r="1.45" fill="#c078e0"/>
<circle cx="354.7" cy="298.4" r="1.45" fill="#c078e0"/>
<circle cx="355.1" cy="299.9" r="1.45" fill="#c078e0"/>
<circle cx="355.5" cy="300.7" r="1.45" fill="#c078e0"/>
<circle cx="355.9" cy="301.0" r="1.45" fill="#c078e0"/>
<circle cx="356.4" cy="301.9" r="1.45" fill="#c078e0"/>
<circle cx="356.8" cy="302.3" r="1.45" fill="#c078e0"/>
<circle cx="357.2" cy="302.2" r="1.45" fill="#c078e0"/>
<circle cx="357.6" cy="303.0" r="1.45" fill="#c078e0"/>
<circle cx="358.0" cy="302.9" r="1.45" fill="#c078e0"/>
<circle cx="358.5" cy="304.6" r="1.45" fill="#c078e0"/>
<circle cx="358.9" cy="302.6" r="1.45" fill="#c078e0"/>
<circle cx="359.3" cy="303.3" r="1.45" fill="#c078e0"/>
<circle cx="359.7" cy="305.1" r="1.45" fill="#c078e0"/>
<circle cx="360.2" cy="306.9" r="1.45" fill="#c078e0"/>
<circle cx="360.6" cy="304.3" r="1.45" fill="#c078e0"/>
<circle cx="361.0" cy="303.4" r="1.45" fill="#c078e0"/>
<circle cx="361.4" cy="305.9" r="1.45" fill="#c078e0"/>
<circle cx="361.9" cy="305.9" r="1.45" fill="#c078e0"/>
<circle cx="362.3" cy="306.3" r="1.45" fill="#c078e0"/>
<circle cx="362.7" cy="305.1" r="1.45" fill="#c078e0"/>
<circle cx="363.1" cy="307.5" r="1.45" fill="#c078e0"/>
<circle cx="363.5" cy="305.4" r="1.45" fill="#c078e0"/>
<circle cx="364.0" cy="307.3" r="1.45" fill="#c078e0"/>
<circle cx="364.4" cy="306.1" r="1.45" fill="#c078e0"/>
<circle cx="364.8" cy="307.5" r="1.45" fill="#c078e0"/>
<circle cx="365.2" cy="308.2" r="1.45" fill="#c078e0"/>
<circle cx="365.7" cy="310.3" r="1.45" fill="#c078e0"/>
<circle cx="366.1" cy="309.5" r="1.45" fill="#c078e0"/>
<circle cx="366.5" cy="309.2" r="1.45" fill="#c078e0"/>
<circle cx="366.9" cy="308.3" r="1.45" fill="#c078e0"/>
<circle cx="367.4" cy="309.2" r="1.45" fill="#c078e0"/>
<circle cx="367.8" cy="310.8" r="1.45" fill="#c078e0"/>
<circle cx="368.2" cy="309.6" r="1.45" fill="#c078e0"/>
<circle cx="368.6" cy="309.1" r="1.45" fill="#c078e0"/>
<circle cx="369.0" cy="311.0" r="1.45" fill="#c078e0"/>
<circle cx="369.5" cy="311.7" r="1.45" fill="#c078e0"/>
<circle cx="369.9" cy="312.0" r="1.45" fill="#c078e0"/>
<circle cx="370.3" cy="310.6" r="1.45" fill="#c078e0"/>
<circle cx="370.7" cy="311.3" r="1.45" fill="#c078e0"/>
<circle cx="371.2" cy="313.8" r="1.45" fill="#c078e0"/>
<circle cx="371.6" cy="312.1" r="1.45" fill="#c078e0"/>
<circle cx="372.0" cy="313.8" r="1.45" fill="#c078e0"/>
<circle cx="372.4" cy="314.5" r="1.45" fill="#c078e0"/>
<circle cx="372.8" cy="311.8" r="1.45" fill="#c078e0"/>
<circle cx="373.3" cy="312.7" r="1.45" fill="#c078e0"/>
<circle cx="373.7" cy="315.5" r="1.45" fill="#c078e0"/>
<circle cx="374.1" cy="314.5" r="1.45" fill="#c078e0"/>
<circle cx="374.5" cy="314.1" r="1.45" fill="#c078e0"/>
<circle cx="375.0" cy="316.3" r="1.45" fill="#c078e0"/>
<circle cx="375.4" cy="315.8" r="1.45" fill="#c078e0"/>
<circle cx="375.8" cy="314.8" r="1.45" fill="#c078e0"/>
<circle cx="376.2" cy="319.5" r="1.45" fill="#c078e0"/>
<circle cx="376.7" cy="316.0" r="1.45" fill="#c078e0"/>
<circle cx="377.1" cy="315.6" r="1.45" fill="#c078e0"/>
<circle cx="377.5" cy="316.3" r="1.45" fill="#c078e0"/>
<circle cx="377.9" cy="320.0" r="1.45" fill="#c078e0"/>
<circle cx="378.3" cy="317.2" r="1.45" fill="#c078e0"/>
<circle cx="378.8" cy="319.7" r="1.45" fill="#c078e0"/>
<circle cx="379.2" cy="317.4" r="1.45" fill="#c078e0"/>
<circle cx="379.6" cy="317.6" r="1.45" fill="#c078e0"/>
<circle cx="380.0" cy="318.6" r="1.45" fill="#c078e0"/>
<circle cx="380.5" cy="320.8" r="1.45" fill="#c078e0"/>
<circle cx="380.9" cy="320.8" r="1.45" fill="#c078e0"/>
<circle cx="381.3" cy="318.4" r="1.45" fill="#c078e0"/>
<circle cx="381.7" cy="322.1" r="1.45" fill="#c078e0"/>
<circle cx="382.2" cy="319.7" r="1.45" fill="#c078e0"/>
<circle cx="382.6" cy="319.9" r="1.45" fill="#c078e0"/>
<circle cx="383.0" cy="321.8" r="1.45" fill="#c078e0"/>
<circle cx="383.4" cy="317.2" r="1.45" fill="#c078e0"/>
<circle cx="383.8" cy="321.7" r="1.45" fill="#c078e0"/>
<circle cx="384.3" cy="318.2" r="1.45" fill="#c078e0"/>
<circle cx="384.7" cy="327.2" r="1.45" fill="#c078e0"/>
<circle cx="385.1" cy="328.1" r="1.45" fill="#c078e0"/>
<circle cx="385.5" cy="321.1" r="1.45" fill="#c078e0"/>
<circle cx="386.0" cy="322.1" r="1.45" fill="#c078e0"/>
<circle cx="386.4" cy="324.4" r="1.45" fill="#c078e0"/>
<circle cx="386.8" cy="324.1" r="1.45" fill="#c078e0"/>
<circle cx="387.2" cy="329.0" r="1.45" fill="#c078e0"/>
<circle cx="387.7" cy="326.1" r="1.45" fill="#c078e0"/>
<circle cx="388.1" cy="327.4" r="1.45" fill="#c078e0"/>
<circle cx="388.5" cy="325.8" r="1.45" fill="#c078e0"/>
<circle cx="388.9" cy="323.6" r="1.45" fill="#c078e0"/>
<circle cx="389.3" cy="325.7" r="1.45" fill="#c078e0"/>
<circle cx="389.8" cy="325.3" r="1.45" fill="#c078e0"/>
<circle cx="390.2" cy="328.2" r="1.45" fill="#c078e0"/>
<circle cx="390.6" cy="327.9" r="1.45" fill="#c078e0"/>
<circle cx="391.0" cy="326.8" r="1.45" fill="#c078e0"/>
<circle cx="391.5" cy="328.1" r="1.45" fill="#c078e0"/>
<circle cx="391.9" cy="324.8" r="1.45" fill="#c078e0"/>
<circle cx="392.3" cy="330.3" r="1.45" fill="#c078e0"/>
<circle cx="392.7" cy="324.0" r="1.45" fill="#c078e0"/>
<circle cx="393.2" cy="331.3" r="1.45" fill="#c078e0"/>
<circle cx="393.6" cy="326.4" r="1.45" fill="#c078e0"/>
<circle cx="394.0" cy="331.4" r="1.45" fill="#c078e0"/>
<circle cx="394.4" cy="325.6" r="1.45" fill="#c078e0"/>
<circle cx="394.8" cy="329.5" r="1.45" fill="#c078e0"/>
<circle cx="395.3" cy="329.1" r="1.45" fill="#c078e0"/>
<circle cx="395.7" cy="328.5" r="1.45" fill="#c078e0"/>
<circle cx="396.1" cy="332.6" r="1.45" fill="#c078e0"/>
<circle cx="396.5" cy="334.2" r="1.45" fill="#c078e0"/>
<circle cx="397.0" cy="338.0" r="1.45" fill="#c078e0"/>
<circle cx="397.4" cy="328.5" r="1.45" fill="#c078e0"/>
<circle cx="397.8" cy="334.1" r="1.45" fill="#c078e0"/>
<circle cx="398.2" cy="334.0" r="1.45" fill="#c078e0"/>
<circle cx="398.6" cy="332.6" r="1.45" fill="#c078e0"/>
<circle cx="399.1" cy="327.7" r="1.45" fill="#c078e0"/>
<circle cx="399.5" cy="339.1" r="1.45" fill="#c078e0"/>
<circle cx="399.9" cy="332.7" r="1.45" fill="#c078e0"/>
<circle cx="400.3" cy="335.0" r="1.45" fill="#c078e0"/>
<circle cx="400.8" cy="332.5" r="1.45" fill="#c078e0"/>
<circle cx="401.2" cy="340.9" r="1.45" fill="#c078e0"/>
<circle cx="401.6" cy="335.9" r="1.45" fill="#c078e0"/>
<circle cx="402.0" cy="332.4" r="1.45" fill="#c078e0"/>
<circle cx="402.5" cy="330.8" r="1.45" fill="#c078e0"/>
<circle cx="402.9" cy="330.9" r="1.45" fill="#c078e0"/>
<circle cx="403.3" cy="338.9" r="1.45" fill="#c078e0"/>
<circle cx="403.7" cy="336.0" r="1.45" fill="#c078e0"/>
<circle cx="404.1" cy="336.8" r="1.45" fill="#c078e0"/>
<circle cx="404.6" cy="342.1" r="1.45" fill="#c078e0"/>
<circle cx="405.0" cy="342.7" r="1.45" fill="#c078e0"/>
<circle cx="405.4" cy="334.8" r="1.45" fill="#c078e0"/>
<circle cx="405.8" cy="336.8" r="1.45" fill="#c078e0"/>
<circle cx="406.3" cy="338.4" r="1.45" fill="#c078e0"/>
<circle cx="406.7" cy="334.2" r="1.45" fill="#c078e0"/>
<circle cx="407.1" cy="342.5" r="1.45" fill="#c078e0"/>
<circle cx="407.5" cy="336.9" r="1.45" fill="#c078e0"/>
<circle cx="408.0" cy="339.0" r="1.45" fill="#c078e0"/>
<circle cx="408.4" cy="339.6" r="1.45" fill="#c078e0"/>
<circle cx="408.8" cy="337.9" r="1.45" fill="#c078e0"/>
<circle cx="409.2" cy="339.3" r="1.45" fill="#c078e0"/>
<circle cx="409.6" cy="339.2" r="1.45" fill="#c078e0"/>
<circle cx="410.1" cy="339.5" r="1.45" fill="#c078e0"/>
<circle cx="410.5" cy="334.3" r="1.45" fill="#c078e0"/>
<circle cx="410.9" cy="342.4" r="1.45" fill="#c078e0"/>
<circle cx="411.3" cy="337.7" r="1.45" fill="#c078e0"/>
<circle cx="411.8" cy="339.3" r="1.45" fill="#c078e0"/>
<circle cx="412.2" cy="343.5" r="1.45" fill="#c078e0"/>
<circle cx="412.6" cy="339.2" r="1.45" fill="#c078e0"/>
<circle cx="413.0" cy="346.6" r="1.45" fill="#c078e0"/>
<circle cx="413.5" cy="338.4" r="1.45" fill="#c078e0"/>
<circle cx="413.9" cy="347.0" r="1.45" fill="#c078e0"/>
<circle cx="414.3" cy="345.7" r="1.45" fill="#c078e0"/>
<circle cx="414.7" cy="342.3" r="1.45" fill="#c078e0"/>
<circle cx="415.1" cy="340.6" r="1.45" fill="#c078e0"/>
<circle cx="415.6" cy="340.5" r="1.45" fill="#c078e0"/>
<circle cx="416.0" cy="340.8" r="1.45" fill="#c078e0"/>
<circle cx="416.4" cy="345.8" r="1.45" fill="#c078e0"/>
<circle cx="416.8" cy="350.2" r="1.45" fill="#c078e0"/>
<circle cx="417.3" cy="342.9" r="1.45" fill="#c078e0"/>
<circle cx="417.7" cy="344.3" r="1.45" fill="#c078e0"/>
<circle cx="418.1" cy="351.2" r="1.45" fill="#c078e0"/>
<circle cx="418.5" cy="342.0" r="1.45" fill="#c078e0"/>
<circle cx="419.0" cy="345.6" r="1.45" fill="#c078e0"/>
<circle cx="419.4" cy="352.3" r="1.45" fill="#c078e0"/>
<circle cx="419.8" cy="345.0" r="1.45" fill="#c078e0"/>
<circle cx="420.2" cy="355.7" r="1.45" fill="#c078e0"/>
<circle cx="420.6" cy="352.8" r="1.45" fill="#c078e0"/>
<circle cx="421.1" cy="345.9" r="1.45" fill="#c078e0"/>
<circle cx="421.5" cy="358.8" r="1.45" fill="#c078e0"/>
<circle cx="421.9" cy="348.3" r="1.45" fill="#c078e0"/>
<circle cx="422.3" cy="357.9" r="1.45" fill="#c078e0"/>
<circle cx="422.8" cy="345.3" r="1.45" fill="#c078e0"/>
<circle cx="423.2" cy="353.8" r="1.45" fill="#c078e0"/>
<circle cx="423.6" cy="348.6" r="1.45" fill="#c078e0"/>
<circle cx="424.0" cy="361.0" r="1.45" fill="#c078e0"/>
<circle cx="424.4" cy="352.2" r="1.45" fill="#c078e0"/>
<circle cx="424.9" cy="345.5" r="1.45" fill="#c078e0"/>
<circle cx="425.3" cy="348.2" r="1.45" fill="#c078e0"/>
<circle cx="425.7" cy="366.7" r="1.45" fill="#c078e0"/>
<circle cx="426.1" cy="346.3" r="1.45" fill="#c078e0"/>
<circle cx="426.6" cy="346.7" r="1.45" fill="#c078e0"/>
<circle cx="427.0" cy="354.2" r="1.45" fill="#c078e0"/>
<circle cx="427.4" cy="344.7" r="1.45" fill="#c078e0"/>
<circle cx="427.8" cy="360.4" r="1.45" fill="#c078e0"/>
<circle cx="428.3" cy="353.1" r="1.45" fill="#c078e0"/>
<circle cx="428.7" cy="346.7" r="1.45" fill="#c078e0"/>
<circle cx="429.1" cy="346.0" r="1.45" fill="#c078e0"/>
<circle cx="429.5" cy="346.4" r="1.45" fill="#c078e0"/>
<circle cx="429.9" cy="362.7" r="1.45" fill="#c078e0"/>
<circle cx="430.4" cy="372.1" r="1.45" fill="#c078e0"/>
<circle cx="430.8" cy="351.7" r="1.45" fill="#c078e0"/>
<circle cx="431.2" cy="367.9" r="1.45" fill="#c078e0"/>
<circle cx="431.6" cy="355.7" r="1.45" fill="#c078e0"/>
<circle cx="432.1" cy="366.9" r="1.45" fill="#c078e0"/>
<circle cx="432.5" cy="348.8" r="1.45" fill="#c078e0"/>
<circle cx="432.9" cy="350.4" r="1.45" fill="#c078e0"/>
<circle cx="433.3" cy="352.1" r="1.45" fill="#c078e0"/>
<circle cx="433.8" cy="355.9" r="1.45" fill="#c078e0"/>
<circle cx="434.2" cy="356.0" r="1.45" fill="#c078e0"/>
<circle cx="434.6" cy="358.9" r="1.45" fill="#c078e0"/>
<circle cx="435.0" cy="354.1" r="1.45" fill="#c078e0"/>
<circle cx="435.4" cy="355.3" r="1.45" fill="#c078e0"/>
<circle cx="435.9" cy="354.1" r="1.45" fill="#c078e0"/>
<circle cx="436.3" cy="361.3" r="1.45" fill="#c078e0"/>
<circle cx="436.7" cy="346.6" r="1.45" fill="#c078e0"/>
<circle cx="437.1" cy="356.0" r="1.45" fill="#c078e0"/>
<circle cx="437.6" cy="349.4" r="1.45" fill="#c078e0"/>
<circle cx="438.0" cy="349.9" r="1.45" fill="#c078e0"/>
<circle cx="438.4" cy="367.9" r="1.45" fill="#c078e0"/>
<circle cx="438.8" cy="383.5" r="1.45" fill="#c078e0"/>
<circle cx="439.3" cy="350.8" r="1.45" fill="#c078e0"/>
<circle cx="439.7" cy="363.3" r="1.45" fill="#c078e0"/>
<circle cx="440.1" cy="359.2" r="1.45" fill="#c078e0"/>
<circle cx="440.5" cy="362.6" r="1.45" fill="#c078e0"/>
<circle cx="440.9" cy="359.3" r="1.45" fill="#c078e0"/>
<circle cx="441.4" cy="375.8" r="1.45" fill="#c078e0"/>
<circle cx="441.8" cy="361.9" r="1.45" fill="#c078e0"/>
<circle cx="442.2" cy="365.9" r="1.45" fill="#c078e0"/>
<circle cx="442.6" cy="361.5" r="1.45" fill="#c078e0"/>
<circle cx="443.5" cy="355.3" r="1.45" fill="#c078e0"/>
<circle cx="443.9" cy="359.2" r="1.45" fill="#c078e0"/>
<circle cx="444.3" cy="397.9" r="1.45" fill="#c078e0"/>
<circle cx="444.8" cy="371.5" r="1.45" fill="#c078e0"/>
<circle cx="445.2" cy="362.6" r="1.45" fill="#c078e0"/>
<circle cx="445.6" cy="357.7" r="1.45" fill="#c078e0"/>
<circle cx="446.0" cy="363.4" r="1.45" fill="#c078e0"/>
<circle cx="446.4" cy="352.9" r="1.45" fill="#c078e0"/>
<circle cx="446.9" cy="363.6" r="1.45" fill="#c078e0"/>
<circle cx="447.3" cy="378.8" r="1.45" fill="#c078e0"/>
<circle cx="447.7" cy="373.1" r="1.45" fill="#c078e0"/>
<circle cx="448.1" cy="357.9" r="1.45" fill="#c078e0"/>
<circle cx="448.6" cy="372.8" r="1.45" fill="#c078e0"/>
<circle cx="449.0" cy="357.5" r="1.45" fill="#c078e0"/>
<circle cx="449.4" cy="356.4" r="1.45" fill="#c078e0"/>
<circle cx="449.8" cy="359.9" r="1.45" fill="#c078e0"/>
<circle cx="450.2" cy="356.7" r="1.45" fill="#c078e0"/>
<circle cx="450.7" cy="368.1" r="1.45" fill="#c078e0"/>
<circle cx="451.1" cy="366.3" r="1.45" fill="#c078e0"/>
<circle cx="451.5" cy="374.9" r="1.45" fill="#c078e0"/>
<circle cx="451.9" cy="375.5" r="1.45" fill="#c078e0"/>
<circle cx="452.4" cy="417.4" r="1.45" fill="#c078e0"/>
<circle cx="452.8" cy="375.2" r="1.45" fill="#c078e0"/>
<circle cx="453.2" cy="388.1" r="1.45" fill="#c078e0"/>
<circle cx="453.6" cy="407.9" r="1.45" fill="#c078e0"/>
<circle cx="454.1" cy="366.1" r="1.45" fill="#c078e0"/>
<circle cx="454.5" cy="363.1" r="1.45" fill="#c078e0"/>
<circle cx="454.9" cy="373.2" r="1.45" fill="#c078e0"/>
<circle cx="455.3" cy="356.0" r="1.45" fill="#c078e0"/>
<circle cx="455.7" cy="359.3" r="1.45" fill="#c078e0"/>
<circle cx="456.2" cy="358.6" r="1.45" fill="#c078e0"/>
<circle cx="456.6" cy="379.3" r="1.45" fill="#c078e0"/>
<circle cx="457.4" cy="363.3" r="1.45" fill="#c078e0"/>
<circle cx="457.9" cy="366.1" r="1.45" fill="#c078e0"/>
<circle cx="458.3" cy="362.0" r="1.45" fill="#c078e0"/>
<circle cx="458.7" cy="365.3" r="1.45" fill="#c078e0"/>
<circle cx="459.1" cy="357.9" r="1.45" fill="#c078e0"/>
<circle cx="459.6" cy="375.3" r="1.45" fill="#c078e0"/>
<circle cx="460.0" cy="363.2" r="1.45" fill="#c078e0"/>
<circle cx="460.4" cy="391.6" r="1.45" fill="#c078e0"/>
<circle cx="461.2" cy="379.5" r="1.45" fill="#c078e0"/>
<circle cx="461.7" cy="356.9" r="1.45" fill="#c078e0"/>
<circle cx="462.5" cy="360.9" r="1.45" fill="#c078e0"/>
<circle cx="462.9" cy="387.0" r="1.45" fill="#c078e0"/>
<circle cx="463.4" cy="380.0" r="1.45" fill="#c078e0"/>
<circle cx="463.8" cy="372.2" r="1.45" fill="#c078e0"/>
<circle cx="464.2" cy="370.0" r="1.45" fill="#c078e0"/>
<circle cx="464.6" cy="402.4" r="1.45" fill="#c078e0"/>
<circle cx="465.1" cy="371.6" r="1.45" fill="#c078e0"/>
<circle cx="465.5" cy="367.6" r="1.45" fill="#c078e0"/>
<circle cx="465.9" cy="363.5" r="1.45" fill="#c078e0"/>
<circle cx="466.3" cy="393.3" r="1.45" fill="#c078e0"/>
<circle cx="466.7" cy="357.8" r="1.45" fill="#c078e0"/>
<circle cx="467.2" cy="355.4" r="1.45" fill="#c078e0"/>
<circle cx="467.6" cy="352.4" r="1.45" fill="#c078e0"/>
<circle cx="468.4" cy="372.4" r="1.45" fill="#c078e0"/>
<circle cx="469.3" cy="369.8" r="1.45" fill="#c078e0"/>
<circle cx="469.7" cy="367.7" r="1.45" fill="#c078e0"/>
<circle cx="471.0" cy="373.2" r="1.45" fill="#c078e0"/>
<circle cx="471.4" cy="367.4" r="1.45" fill="#c078e0"/>
<circle cx="471.8" cy="402.9" r="1.45" fill="#c078e0"/>
<circle cx="472.2" cy="382.5" r="1.45" fill="#c078e0"/>
<circle cx="473.1" cy="399.4" r="1.45" fill="#c078e0"/>
<circle cx="473.5" cy="374.8" r="1.45" fill="#c078e0"/>
<circle cx="473.9" cy="374.9" r="1.45" fill="#c078e0"/>
<circle cx="474.4" cy="359.1" r="1.45" fill="#c078e0"/>
<circle cx="475.6" cy="370.9" r="1.45" fill="#c078e0"/>
<circle cx="476.0" cy="396.6" r="1.45" fill="#c078e0"/>
<circle cx="476.5" cy="373.6" r="1.45" fill="#c078e0"/>
<circle cx="476.9" cy="367.9" r="1.45" fill="#c078e0"/>
<circle cx="477.3" cy="369.4" r="1.45" fill="#c078e0"/>
<circle cx="477.7" cy="360.9" r="1.45" fill="#c078e0"/>
<circle cx="478.2" cy="361.7" r="1.45" fill="#c078e0"/>
<circle cx="479.0" cy="381.2" r="1.45" fill="#c078e0"/>
<circle cx="479.4" cy="356.9" r="1.45" fill="#c078e0"/>
<circle cx="479.9" cy="391.8" r="1.45" fill="#c078e0"/>
<circle cx="480.3" cy="365.9" r="1.45" fill="#c078e0"/>
<circle cx="480.7" cy="381.8" r="1.45" fill="#c078e0"/>
<circle cx="481.1" cy="393.3" r="1.45" fill="#c078e0"/>
<circle cx="481.5" cy="360.4" r="1.45" fill="#c078e0"/>
<circle cx="482.0" cy="365.4" r="1.45" fill="#c078e0"/>
<circle cx="482.4" cy="387.7" r="1.45" fill="#c078e0"/>
<circle cx="482.8" cy="367.0" r="1.45" fill="#c078e0"/>
<circle cx="483.7" cy="418.6" r="1.45" fill="#c078e0"/>
<circle cx="484.1" cy="367.4" r="1.45" fill="#c078e0"/>
<circle cx="484.5" cy="381.1" r="1.45" fill="#c078e0"/>
<circle cx="485.4" cy="373.7" r="1.45" fill="#c078e0"/>
<circle cx="485.8" cy="375.8" r="1.45" fill="#c078e0"/>
<circle cx="486.2" cy="363.7" r="1.45" fill="#c078e0"/>
<circle cx="486.6" cy="367.2" r="1.45" fill="#c078e0"/>
<circle cx="487.0" cy="391.3" r="1.45" fill="#c078e0"/>
<circle cx="487.5" cy="401.6" r="1.45" fill="#c078e0"/>
<circle cx="487.9" cy="387.1" r="1.45" fill="#c078e0"/>
<circle cx="488.3" cy="390.3" r="1.45" fill="#c078e0"/>
<circle cx="488.7" cy="362.5" r="1.45" fill="#c078e0"/>
<circle cx="489.2" cy="361.4" r="1.45" fill="#c078e0"/>
<circle cx="489.6" cy="363.5" r="1.45" fill="#c078e0"/>
<circle cx="490.0" cy="376.0" r="1.45" fill="#c078e0"/>
<circle cx="490.4" cy="391.9" r="1.45" fill="#c078e0"/>
<circle cx="490.9" cy="368.6" r="1.45" fill="#c078e0"/>
<circle cx="491.3" cy="397.0" r="1.45" fill="#c078e0"/>
<circle cx="491.7" cy="379.1" r="1.45" fill="#c078e0"/>
<circle cx="492.5" cy="402.0" r="1.45" fill="#c078e0"/>
<circle cx="493.0" cy="363.2" r="1.45" fill="#c078e0"/>
<circle cx="494.2" cy="390.7" r="1.45" fill="#c078e0"/>
<circle cx="494.7" cy="361.4" r="1.45" fill="#c078e0"/>
<circle cx="495.1" cy="363.4" r="1.45" fill="#c078e0"/>
<circle cx="495.5" cy="400.2" r="1.45" fill="#c078e0"/>
<circle cx="495.9" cy="409.0" r="1.45" fill="#c078e0"/>
<circle cx="496.4" cy="389.6" r="1.45" fill="#c078e0"/>
<circle cx="497.2" cy="385.4" r="1.45" fill="#c078e0"/>
<circle cx="497.6" cy="398.2" r="1.45" fill="#c078e0"/>
<circle cx="498.5" cy="425.9" r="1.45" fill="#c078e0"/>
<circle cx="498.9" cy="396.7" r="1.45" fill="#c078e0"/>
<circle cx="500.2" cy="369.9" r="1.45" fill="#c078e0"/>
<circle cx="500.6" cy="360.1" r="1.45" fill="#c078e0"/>
<circle cx="501.0" cy="399.3" r="1.45" fill="#c078e0"/>
<circle cx="501.4" cy="409.1" r="1.45" fill="#c078e0"/>
<circle cx="501.8" cy="376.2" r="1.45" fill="#c078e0"/>
<circle cx="502.3" cy="396.9" r="1.45" fill="#c078e0"/>
<circle cx="503.1" cy="364.8" r="1.45" fill="#c078e0"/>
<circle cx="505.2" cy="398.6" r="1.45" fill="#c078e0"/>
<circle cx="505.7" cy="375.6" r="1.45" fill="#c078e0"/>
<circle cx="506.1" cy="364.6" r="1.45" fill="#c078e0"/>
<circle cx="506.5" cy="374.2" r="1.45" fill="#c078e0"/>
<circle cx="506.9" cy="388.1" r="1.45" fill="#c078e0"/>
<circle cx="507.8" cy="391.6" r="1.45" fill="#c078e0"/>
<circle cx="508.6" cy="393.3" r="1.45" fill="#c078e0"/>
<circle cx="509.0" cy="370.0" r="1.45" fill="#c078e0"/>
<circle cx="509.5" cy="383.8" r="1.45" fill="#c078e0"/>
<circle cx="509.9" cy="399.0" r="1.45" fill="#c078e0"/>
<circle cx="510.7" cy="391.0" r="1.45" fill="#c078e0"/>
<circle cx="511.2" cy="386.7" r="1.45" fill="#c078e0"/>
<circle cx="512.0" cy="434.9" r="1.45" fill="#c078e0"/>
<circle cx="512.4" cy="371.6" r="1.45" fill="#c078e0"/>
<circle cx="513.3" cy="422.3" r="1.45" fill="#c078e0"/>
<circle cx="514.1" cy="364.1" r="1.45" fill="#c078e0"/>
<circle cx="514.5" cy="376.2" r="1.45" fill="#c078e0"/>
<circle cx="515.0" cy="377.9" r="1.45" fill="#c078e0"/>
<circle cx="515.4" cy="380.3" r="1.45" fill="#c078e0"/>
<circle cx="515.8" cy="382.8" r="1.45" fill="#c078e0"/>
<circle cx="516.2" cy="382.8" r="1.45" fill="#c078e0"/>
<circle cx="517.1" cy="383.7" r="1.45" fill="#c078e0"/>
<circle cx="517.5" cy="376.7" r="1.45" fill="#c078e0"/>
<circle cx="518.3" cy="373.0" r="1.45" fill="#c078e0"/>
<circle cx="518.8" cy="375.5" r="1.45" fill="#c078e0"/>
<circle cx="519.6" cy="438.2" r="1.45" fill="#c078e0"/>
<circle cx="520.0" cy="410.1" r="1.45" fill="#c078e0"/>
<circle cx="520.9" cy="381.1" r="1.45" fill="#c078e0"/>
<circle cx="521.7" cy="404.1" r="1.45" fill="#c078e0"/>
<circle cx="522.2" cy="385.3" r="1.45" fill="#c078e0"/>
<circle cx="522.6" cy="374.9" r="1.45" fill="#c078e0"/>
<circle cx="523.0" cy="391.0" r="1.45" fill="#c078e0"/>
<circle cx="523.4" cy="406.0" r="1.45" fill="#c078e0"/>
<circle cx="523.8" cy="375.6" r="1.45" fill="#c078e0"/>
<circle cx="524.7" cy="371.9" r="1.45" fill="#c078e0"/>
<circle cx="525.1" cy="412.5" r="1.45" fill="#c078e0"/>
<circle cx="526.0" cy="433.8" r="1.45" fill="#c078e0"/>
<circle cx="527.2" cy="415.7" r="1.45" fill="#c078e0"/>
<circle cx="528.1" cy="375.2" r="1.45" fill="#c078e0"/>
<circle cx="529.8" cy="363.3" r="1.45" fill="#c078e0"/>
<circle cx="530.2" cy="393.0" r="1.45" fill="#c078e0"/>
<circle cx="531.9" cy="402.9" r="1.45" fill="#c078e0"/>
<circle cx="532.3" cy="381.4" r="1.45" fill="#c078e0"/>
<circle cx="532.7" cy="369.5" r="1.45" fill="#c078e0"/>
<circle cx="533.1" cy="369.5" r="1.45" fill="#c078e0"/>
<circle cx="533.6" cy="385.3" r="1.45" fill="#c078e0"/>
<circle cx="535.7" cy="381.8" r="1.45" fill="#c078e0"/>
<circle cx="536.1" cy="421.8" r="1.45" fill="#c078e0"/>
<circle cx="305.6" cy="260.5" r="1.45" fill="#a8b030"/>
<circle cx="306.0" cy="260.7" r="1.45" fill="#a8b030"/>
<circle cx="306.4" cy="261.5" r="1.45" fill="#a8b030"/>
<circle cx="306.9" cy="261.5" r="1.45" fill="#a8b030"/>
<circle cx="307.3" cy="261.7" r="1.45" fill="#a8b030"/>
<circle cx="307.7" cy="262.3" r="1.45" fill="#a8b030"/>
<circle cx="308.1" cy="262.3" r="1.45" fill="#a8b030"/>
<circle cx="308.6" cy="263.6" r="1.45" fill="#a8b030"/>
<circle cx="309.0" cy="263.6" r="1.45" fill="#a8b030"/>
<circle cx="309.4" cy="264.4" r="1.45" fill="#a8b030"/>
<circle cx="309.8" cy="264.8" r="1.45" fill="#a8b030"/>
<circle cx="310.3" cy="264.9" r="1.45" fill="#a8b030"/>
<circle cx="310.7" cy="265.2" r="1.45" fill="#a8b030"/>
<circle cx="311.1" cy="265.5" r="1.45" fill="#a8b030"/>
<circle cx="311.5" cy="265.8" r="1.45" fill="#a8b030"/>
<circle cx="311.9" cy="265.5" r="1.45" fill="#a8b030"/>
<circle cx="312.4" cy="266.5" r="1.45" fill="#a8b030"/>
<circle cx="312.8" cy="268.0" r="1.45" fill="#a8b030"/>
<circle cx="313.2" cy="267.5" r="1.45" fill="#a8b030"/>
<circle cx="313.6" cy="268.3" r="1.45" fill="#a8b030"/>
<circle cx="314.1" cy="268.7" r="1.45" fill="#a8b030"/>
<circle cx="314.5" cy="268.2" r="1.45" fill="#a8b030"/>
<circle cx="314.9" cy="269.3" r="1.45" fill="#a8b030"/>
<circle cx="315.3" cy="270.6" r="1.45" fill="#a8b030"/>
<circle cx="315.8" cy="269.9" r="1.45" fill="#a8b030"/>
<circle cx="316.2" cy="270.5" r="1.45" fill="#a8b030"/>
<circle cx="316.6" cy="271.4" r="1.45" fill="#a8b030"/>
<circle cx="317.0" cy="271.6" r="1.45" fill="#a8b030"/>
<circle cx="317.4" cy="271.9" r="1.45" fill="#a8b030"/>
<circle cx="317.9" cy="272.0" r="1.45" fill="#a8b030"/>
<circle cx="318.3" cy="272.6" r="1.45" fill="#a8b030"/>
<circle cx="318.7" cy="272.7" r="1.45" fill="#a8b030"/>
<circle cx="319.1" cy="272.2" r="1.45" fill="#a8b030"/>
<circle cx="319.6" cy="274.0" r="1.45" fill="#a8b030"/>
<circle cx="320.0" cy="274.4" r="1.45" fill="#a8b030"/>
<circle cx="320.4" cy="274.5" r="1.45" fill="#a8b030"/>
<circle cx="320.8" cy="274.2" r="1.45" fill="#a8b030"/>
<circle cx="321.2" cy="275.5" r="1.45" fill="#a8b030"/>
<circle cx="321.7" cy="274.7" r="1.45" fill="#a8b030"/>
<circle cx="322.1" cy="276.6" r="1.45" fill="#a8b030"/>
<circle cx="322.5" cy="276.9" r="1.45" fill="#a8b030"/>
<circle cx="322.9" cy="276.7" r="1.45" fill="#a8b030"/>
<circle cx="323.4" cy="277.6" r="1.45" fill="#a8b030"/>
<circle cx="323.8" cy="277.8" r="1.45" fill="#a8b030"/>
<circle cx="324.2" cy="277.6" r="1.45" fill="#a8b030"/>
<circle cx="324.6" cy="277.8" r="1.45" fill="#a8b030"/>
<circle cx="325.1" cy="278.6" r="1.45" fill="#a8b030"/>
<circle cx="325.5" cy="279.2" r="1.45" fill="#a8b030"/>
<circle cx="325.9" cy="278.6" r="1.45" fill="#a8b030"/>
<circle cx="326.3" cy="279.6" r="1.45" fill="#a8b030"/>
<circle cx="326.7" cy="280.4" r="1.45" fill="#a8b030"/>
<circle cx="327.2" cy="279.9" r="1.45" fill="#a8b030"/>
<circle cx="327.6" cy="281.6" r="1.45" fill="#a8b030"/>
<circle cx="328.0" cy="281.3" r="1.45" fill="#a8b030"/>
<circle cx="328.4" cy="281.3" r="1.45" fill="#a8b030"/>
<circle cx="328.9" cy="282.2" r="1.45" fill="#a8b030"/>
<circle cx="329.3" cy="282.9" r="1.45" fill="#a8b030"/>
<circle cx="329.7" cy="282.7" r="1.45" fill="#a8b030"/>
<circle cx="330.1" cy="283.7" r="1.45" fill="#a8b030"/>
<circle cx="330.6" cy="284.1" r="1.45" fill="#a8b030"/>
<circle cx="331.0" cy="284.8" r="1.45" fill="#a8b030"/>
<circle cx="331.4" cy="283.6" r="1.45" fill="#a8b030"/>
<circle cx="331.8" cy="285.3" r="1.45" fill="#a8b030"/>
<circle cx="332.2" cy="284.5" r="1.45" fill="#a8b030"/>
<circle cx="332.7" cy="285.4" r="1.45" fill="#a8b030"/>
<circle cx="333.1" cy="286.2" r="1.45" fill="#a8b030"/>
<circle cx="333.5" cy="285.9" r="1.45" fill="#a8b030"/>
<circle cx="333.9" cy="286.6" r="1.45" fill="#a8b030"/>
<circle cx="334.4" cy="287.1" r="1.45" fill="#a8b030"/>
<circle cx="334.8" cy="288.6" r="1.45" fill="#a8b030"/>
<circle cx="335.2" cy="287.9" r="1.45" fill="#a8b030"/>
<circle cx="335.6" cy="287.7" r="1.45" fill="#a8b030"/>
<circle cx="336.1" cy="288.4" r="1.45" fill="#a8b030"/>
<circle cx="336.5" cy="288.3" r="1.45" fill="#a8b030"/>
<circle cx="336.9" cy="288.3" r="1.45" fill="#a8b030"/>
<circle cx="337.3" cy="289.6" r="1.45" fill="#a8b030"/>
<circle cx="337.7" cy="288.7" r="1.45" fill="#a8b030"/>
<circle cx="338.2" cy="291.9" r="1.45" fill="#a8b030"/>
<circle cx="338.6" cy="291.2" r="1.45" fill="#a8b030"/>
<circle cx="339.0" cy="293.6" r="1.45" fill="#a8b030"/>
<circle cx="339.4" cy="291.1" r="1.45" fill="#a8b030"/>
<circle cx="339.9" cy="292.1" r="1.45" fill="#a8b030"/>
<circle cx="340.3" cy="291.2" r="1.45" fill="#a8b030"/>
<circle cx="340.7" cy="293.3" r="1.45" fill="#a8b030"/>
<circle cx="341.1" cy="295.2" r="1.45" fill="#a8b030"/>
<circle cx="341.6" cy="292.6" r="1.45" fill="#a8b030"/>
<circle cx="342.0" cy="295.3" r="1.45" fill="#a8b030"/>
<circle cx="342.4" cy="295.6" r="1.45" fill="#a8b030"/>
<circle cx="342.8" cy="295.0" r="1.45" fill="#a8b030"/>
<circle cx="343.2" cy="294.7" r="1.45" fill="#a8b030"/>
<circle cx="343.7" cy="296.1" r="1.45" fill="#a8b030"/>
<circle cx="344.1" cy="295.8" r="1.45" fill="#a8b030"/>
<circle cx="344.5" cy="298.2" r="1.45" fill="#a8b030"/>
<circle cx="344.9" cy="295.1" r="1.45" fill="#a8b030"/>
<circle cx="345.4" cy="297.2" r="1.45" fill="#a8b030"/>
<circle cx="345.8" cy="297.4" r="1.45" fill="#a8b030"/>
<circle cx="346.2" cy="297.3" r="1.45" fill="#a8b030"/>
<circle cx="346.6" cy="298.1" r="1.45" fill="#a8b030"/>
<circle cx="347.0" cy="298.4" r="1.45" fill="#a8b030"/>
<circle cx="347.5" cy="300.0" r="1.45" fill="#a8b030"/>
<circle cx="347.9" cy="299.5" r="1.45" fill="#a8b030"/>
<circle cx="348.3" cy="299.3" r="1.45" fill="#a8b030"/>
<circle cx="348.7" cy="299.1" r="1.45" fill="#a8b030"/>
<circle cx="349.2" cy="300.7" r="1.45" fill="#a8b030"/>
<circle cx="349.6" cy="300.8" r="1.45" fill="#a8b030"/>
<circle cx="350.0" cy="300.9" r="1.45" fill="#a8b030"/>
<circle cx="350.4" cy="301.0" r="1.45" fill="#a8b030"/>
<circle cx="350.9" cy="301.8" r="1.45" fill="#a8b030"/>
<circle cx="351.3" cy="302.7" r="1.45" fill="#a8b030"/>
<circle cx="351.7" cy="303.4" r="1.45" fill="#a8b030"/>
<circle cx="352.1" cy="301.9" r="1.45" fill="#a8b030"/>
<circle cx="352.5" cy="303.2" r="1.45" fill="#a8b030"/>
<circle cx="353.0" cy="303.9" r="1.45" fill="#a8b030"/>
<circle cx="353.4" cy="300.5" r="1.45" fill="#a8b030"/>
<circle cx="353.8" cy="303.6" r="1.45" fill="#a8b030"/>
<circle cx="354.2" cy="304.0" r="1.45" fill="#a8b030"/>
<circle cx="354.7" cy="305.2" r="1.45" fill="#a8b030"/>
<circle cx="355.1" cy="307.1" r="1.45" fill="#a8b030"/>
<circle cx="355.5" cy="304.8" r="1.45" fill="#a8b030"/>
<circle cx="355.9" cy="306.6" r="1.45" fill="#a8b030"/>
<circle cx="356.4" cy="306.8" r="1.45" fill="#a8b030"/>
<circle cx="356.8" cy="306.0" r="1.45" fill="#a8b030"/>
<circle cx="357.2" cy="306.3" r="1.45" fill="#a8b030"/>
<circle cx="357.6" cy="307.7" r="1.45" fill="#a8b030"/>
<circle cx="358.0" cy="308.4" r="1.45" fill="#a8b030"/>
<circle cx="358.5" cy="306.1" r="1.45" fill="#a8b030"/>
<circle cx="358.9" cy="308.4" r="1.45" fill="#a8b030"/>
<circle cx="359.3" cy="311.0" r="1.45" fill="#a8b030"/>
<circle cx="359.7" cy="308.8" r="1.45" fill="#a8b030"/>
<circle cx="360.2" cy="310.0" r="1.45" fill="#a8b030"/>
<circle cx="360.6" cy="310.6" r="1.45" fill="#a8b030"/>
<circle cx="361.0" cy="310.0" r="1.45" fill="#a8b030"/>
<circle cx="361.4" cy="311.0" r="1.45" fill="#a8b030"/>
<circle cx="361.9" cy="308.9" r="1.45" fill="#a8b030"/>
<circle cx="362.3" cy="311.8" r="1.45" fill="#a8b030"/>
<circle cx="362.7" cy="312.1" r="1.45" fill="#a8b030"/>
<circle cx="363.1" cy="311.1" r="1.45" fill="#a8b030"/>
<circle cx="363.5" cy="314.1" r="1.45" fill="#a8b030"/>
<circle cx="364.0" cy="312.0" r="1.45" fill="#a8b030"/>
<circle cx="364.4" cy="314.0" r="1.45" fill="#a8b030"/>
<circle cx="364.8" cy="312.5" r="1.45" fill="#a8b030"/>
<circle cx="365.2" cy="316.1" r="1.45" fill="#a8b030"/>
<circle cx="365.7" cy="314.3" r="1.45" fill="#a8b030"/>
<circle cx="366.1" cy="318.2" r="1.45" fill="#a8b030"/>
<circle cx="366.5" cy="316.5" r="1.45" fill="#a8b030"/>
<circle cx="366.9" cy="316.1" r="1.45" fill="#a8b030"/>
<circle cx="367.4" cy="315.6" r="1.45" fill="#a8b030"/>
<circle cx="367.8" cy="313.7" r="1.45" fill="#a8b030"/>
<circle cx="368.2" cy="314.2" r="1.45" fill="#a8b030"/>
<circle cx="368.6" cy="320.1" r="1.45" fill="#a8b030"/>
<circle cx="369.0" cy="319.3" r="1.45" fill="#a8b030"/>
<circle cx="369.5" cy="316.1" r="1.45" fill="#a8b030"/>
<circle cx="369.9" cy="317.8" r="1.45" fill="#a8b030"/>
<circle cx="370.3" cy="321.7" r="1.45" fill="#a8b030"/>
<circle cx="370.7" cy="318.5" r="1.45" fill="#a8b030"/>
<circle cx="371.2" cy="322.0" r="1.45" fill="#a8b030"/>
<circle cx="371.6" cy="321.8" r="1.45" fill="#a8b030"/>
<circle cx="372.0" cy="323.0" r="1.45" fill="#a8b030"/>
<circle cx="372.4" cy="321.3" r="1.45" fill="#a8b030"/>
<circle cx="372.8" cy="317.1" r="1.45" fill="#a8b030"/>
<circle cx="373.3" cy="320.8" r="1.45" fill="#a8b030"/>
<circle cx="373.7" cy="322.1" r="1.45" fill="#a8b030"/>
<circle cx="374.1" cy="317.6" r="1.45" fill="#a8b030"/>
<circle cx="374.5" cy="323.6" r="1.45" fill="#a8b030"/>
<circle cx="375.0" cy="323.3" r="1.45" fill="#a8b030"/>
<circle cx="375.4" cy="323.9" r="1.45" fill="#a8b030"/>
<circle cx="375.8" cy="322.8" r="1.45" fill="#a8b030"/>
<circle cx="376.2" cy="324.7" r="1.45" fill="#a8b030"/>
<circle cx="376.7" cy="321.4" r="1.45" fill="#a8b030"/>
<circle cx="377.1" cy="325.4" r="1.45" fill="#a8b030"/>
<circle cx="377.5" cy="323.9" r="1.45" fill="#a8b030"/>
<circle cx="377.9" cy="324.9" r="1.45" fill="#a8b030"/>
<circle cx="378.3" cy="327.9" r="1.45" fill="#a8b030"/>
<circle cx="378.8" cy="328.6" r="1.45" fill="#a8b030"/>
<circle cx="379.2" cy="326.6" r="1.45" fill="#a8b030"/>
<circle cx="379.6" cy="333.3" r="1.45" fill="#a8b030"/>
<circle cx="380.0" cy="327.2" r="1.45" fill="#a8b030"/>
<circle cx="380.5" cy="327.4" r="1.45" fill="#a8b030"/>
<circle cx="380.9" cy="327.6" r="1.45" fill="#a8b030"/>
<circle cx="381.3" cy="328.5" r="1.45" fill="#a8b030"/>
<circle cx="381.7" cy="327.7" r="1.45" fill="#a8b030"/>
<circle cx="382.2" cy="329.9" r="1.45" fill="#a8b030"/>
<circle cx="382.6" cy="327.7" r="1.45" fill="#a8b030"/>
<circle cx="383.0" cy="334.5" r="1.45" fill="#a8b030"/>
<circle cx="383.4" cy="327.7" r="1.45" fill="#a8b030"/>
<circle cx="383.8" cy="332.9" r="1.45" fill="#a8b030"/>
<circle cx="384.3" cy="329.4" r="1.45" fill="#a8b030"/>
<circle cx="384.7" cy="332.4" r="1.45" fill="#a8b030"/>
<circle cx="385.1" cy="332.7" r="1.45" fill="#a8b030"/>
<circle cx="385.5" cy="334.2" r="1.45" fill="#a8b030"/>
<circle cx="386.0" cy="328.6" r="1.45" fill="#a8b030"/>
<circle cx="386.4" cy="335.9" r="1.45" fill="#a8b030"/>
<circle cx="386.8" cy="336.7" r="1.45" fill="#a8b030"/>
<circle cx="387.2" cy="332.5" r="1.45" fill="#a8b030"/>
<circle cx="387.7" cy="332.7" r="1.45" fill="#a8b030"/>
<circle cx="388.1" cy="333.7" r="1.45" fill="#a8b030"/>
<circle cx="388.5" cy="337.4" r="1.45" fill="#a8b030"/>
<circle cx="388.9" cy="336.7" r="1.45" fill="#a8b030"/>
<circle cx="389.3" cy="332.2" r="1.45" fill="#a8b030"/>
<circle cx="389.8" cy="338.8" r="1.45" fill="#a8b030"/>
<circle cx="390.2" cy="333.7" r="1.45" fill="#a8b030"/>
<circle cx="390.6" cy="333.6" r="1.45" fill="#a8b030"/>
<circle cx="391.0" cy="335.8" r="1.45" fill="#a8b030"/>
<circle cx="391.5" cy="341.2" r="1.45" fill="#a8b030"/>
<circle cx="391.9" cy="331.3" r="1.45" fill="#a8b030"/>
<circle cx="392.3" cy="336.8" r="1.45" fill="#a8b030"/>
<circle cx="392.7" cy="336.9" r="1.45" fill="#a8b030"/>
<circle cx="393.2" cy="339.3" r="1.45" fill="#a8b030"/>
<circle cx="393.6" cy="342.0" r="1.45" fill="#a8b030"/>
<circle cx="394.0" cy="339.6" r="1.45" fill="#a8b030"/>
<circle cx="394.4" cy="338.2" r="1.45" fill="#a8b030"/>
<circle cx="394.8" cy="342.7" r="1.45" fill="#a8b030"/>
<circle cx="395.3" cy="339.2" r="1.45" fill="#a8b030"/>
<circle cx="395.7" cy="336.0" r="1.45" fill="#a8b030"/>
<circle cx="396.1" cy="338.7" r="1.45" fill="#a8b030"/>
<circle cx="396.5" cy="341.0" r="1.45" fill="#a8b030"/>
<circle cx="397.0" cy="337.2" r="1.45" fill="#a8b030"/>
<circle cx="397.4" cy="337.9" r="1.45" fill="#a8b030"/>
<circle cx="397.8" cy="338.3" r="1.45" fill="#a8b030"/>
<circle cx="398.2" cy="345.6" r="1.45" fill="#a8b030"/>
<circle cx="398.6" cy="351.9" r="1.45" fill="#a8b030"/>
<circle cx="399.1" cy="339.5" r="1.45" fill="#a8b030"/>
<circle cx="399.5" cy="342.7" r="1.45" fill="#a8b030"/>
<circle cx="399.9" cy="345.0" r="1.45" fill="#a8b030"/>
<circle cx="400.3" cy="341.6" r="1.45" fill="#a8b030"/>
<circle cx="400.8" cy="346.1" r="1.45" fill="#a8b030"/>
<circle cx="401.2" cy="347.3" r="1.45" fill="#a8b030"/>
<circle cx="401.6" cy="337.7" r="1.45" fill="#a8b030"/>
<circle cx="402.0" cy="354.1" r="1.45" fill="#a8b030"/>
<circle cx="402.5" cy="341.7" r="1.45" fill="#a8b030"/>
<circle cx="402.9" cy="341.3" r="1.45" fill="#a8b030"/>
<circle cx="403.3" cy="338.8" r="1.45" fill="#a8b030"/>
<circle cx="403.7" cy="345.1" r="1.45" fill="#a8b030"/>
<circle cx="404.1" cy="344.2" r="1.45" fill="#a8b030"/>
<circle cx="404.6" cy="352.1" r="1.45" fill="#a8b030"/>
<circle cx="405.0" cy="347.1" r="1.45" fill="#a8b030"/>
<circle cx="405.4" cy="363.1" r="1.45" fill="#a8b030"/>
<circle cx="405.8" cy="351.1" r="1.45" fill="#a8b030"/>
<circle cx="406.3" cy="348.3" r="1.45" fill="#a8b030"/>
<circle cx="406.7" cy="349.1" r="1.45" fill="#a8b030"/>
<circle cx="407.1" cy="351.6" r="1.45" fill="#a8b030"/>
<circle cx="407.5" cy="343.6" r="1.45" fill="#a8b030"/>
<circle cx="408.0" cy="361.1" r="1.45" fill="#a8b030"/>
<circle cx="408.4" cy="349.1" r="1.45" fill="#a8b030"/>
<circle cx="408.8" cy="352.5" r="1.45" fill="#a8b030"/>
<circle cx="409.2" cy="350.2" r="1.45" fill="#a8b030"/>
<circle cx="409.6" cy="350.4" r="1.45" fill="#a8b030"/>
<circle cx="410.1" cy="341.9" r="1.45" fill="#a8b030"/>
<circle cx="410.5" cy="359.1" r="1.45" fill="#a8b030"/>
<circle cx="410.9" cy="344.8" r="1.45" fill="#a8b030"/>
<circle cx="411.3" cy="344.8" r="1.45" fill="#a8b030"/>
<circle cx="411.8" cy="353.1" r="1.45" fill="#a8b030"/>
<circle cx="412.2" cy="357.0" r="1.45" fill="#a8b030"/>
<circle cx="412.6" cy="363.0" r="1.45" fill="#a8b030"/>
<circle cx="413.0" cy="359.8" r="1.45" fill="#a8b030"/>
<circle cx="413.5" cy="343.3" r="1.45" fill="#a8b030"/>
<circle cx="413.9" cy="379.4" r="1.45" fill="#a8b030"/>
<circle cx="414.3" cy="351.3" r="1.45" fill="#a8b030"/>
<circle cx="414.7" cy="359.9" r="1.45" fill="#a8b030"/>
<circle cx="415.1" cy="344.7" r="1.45" fill="#a8b030"/>
<circle cx="415.6" cy="353.0" r="1.45" fill="#a8b030"/>
<circle cx="416.0" cy="368.5" r="1.45" fill="#a8b030"/>
<circle cx="416.4" cy="359.9" r="1.45" fill="#a8b030"/>
<circle cx="416.8" cy="354.7" r="1.45" fill="#a8b030"/>
<circle cx="417.3" cy="355.4" r="1.45" fill="#a8b030"/>
<circle cx="417.7" cy="365.4" r="1.45" fill="#a8b030"/>
<circle cx="418.1" cy="359.2" r="1.45" fill="#a8b030"/>
<circle cx="418.5" cy="361.1" r="1.45" fill="#a8b030"/>
<circle cx="419.0" cy="354.1" r="1.45" fill="#a8b030"/>
<circle cx="419.4" cy="355.8" r="1.45" fill="#a8b030"/>
<circle cx="419.8" cy="356.4" r="1.45" fill="#a8b030"/>
<circle cx="420.2" cy="363.9" r="1.45" fill="#a8b030"/>
<circle cx="420.6" cy="353.1" r="1.45" fill="#a8b030"/>
<circle cx="421.1" cy="364.4" r="1.45" fill="#a8b030"/>
<circle cx="421.5" cy="367.9" r="1.45" fill="#a8b030"/>
<circle cx="421.9" cy="363.7" r="1.45" fill="#a8b030"/>
<circle cx="422.3" cy="363.0" r="1.45" fill="#a8b030"/>
<circle cx="422.8" cy="363.1" r="1.45" fill="#a8b030"/>
<circle cx="423.2" cy="398.6" r="1.45" fill="#a8b030"/>
<circle cx="423.6" cy="351.3" r="1.45" fill="#a8b030"/>
<circle cx="424.0" cy="356.1" r="1.45" fill="#a8b030"/>
<circle cx="424.4" cy="351.9" r="1.45" fill="#a8b030"/>
<circle cx="424.9" cy="365.8" r="1.45" fill="#a8b030"/>
<circle cx="425.3" cy="355.9" r="1.45" fill="#a8b030"/>
<circle cx="425.7" cy="360.5" r="1.45" fill="#a8b030"/>
<circle cx="426.1" cy="362.3" r="1.45" fill="#a8b030"/>
<circle cx="426.6" cy="350.2" r="1.45" fill="#a8b030"/>
<circle cx="427.0" cy="370.1" r="1.45" fill="#a8b030"/>
<circle cx="427.4" cy="358.3" r="1.45" fill="#a8b030"/>
<circle cx="427.8" cy="405.7" r="1.45" fill="#a8b030"/>
<circle cx="428.3" cy="358.9" r="1.45" fill="#a8b030"/>
<circle cx="428.7" cy="366.2" r="1.45" fill="#a8b030"/>
<circle cx="429.1" cy="379.9" r="1.45" fill="#a8b030"/>
<circle cx="429.5" cy="372.5" r="1.45" fill="#a8b030"/>
<circle cx="430.4" cy="382.8" r="1.45" fill="#a8b030"/>
<circle cx="430.8" cy="363.9" r="1.45" fill="#a8b030"/>
<circle cx="431.6" cy="356.6" r="1.45" fill="#a8b030"/>
<circle cx="432.1" cy="357.5" r="1.45" fill="#a8b030"/>
<circle cx="432.5" cy="378.3" r="1.45" fill="#a8b030"/>
<circle cx="432.9" cy="408.2" r="1.45" fill="#a8b030"/>
<circle cx="433.3" cy="403.2" r="1.45" fill="#a8b030"/>
<circle cx="433.8" cy="397.2" r="1.45" fill="#a8b030"/>
<circle cx="434.2" cy="380.2" r="1.45" fill="#a8b030"/>
<circle cx="434.6" cy="351.0" r="1.45" fill="#a8b030"/>
<circle cx="435.0" cy="393.0" r="1.45" fill="#a8b030"/>
<circle cx="435.4" cy="360.8" r="1.45" fill="#a8b030"/>
<circle cx="435.9" cy="357.1" r="1.45" fill="#a8b030"/>
<circle cx="436.3" cy="388.3" r="1.45" fill="#a8b030"/>
<circle cx="436.7" cy="373.3" r="1.45" fill="#a8b030"/>
<circle cx="437.1" cy="362.3" r="1.45" fill="#a8b030"/>
<circle cx="437.6" cy="381.6" r="1.45" fill="#a8b030"/>
<circle cx="438.0" cy="357.9" r="1.45" fill="#a8b030"/>
<circle cx="438.4" cy="352.2" r="1.45" fill="#a8b030"/>
<circle cx="438.8" cy="371.5" r="1.45" fill="#a8b030"/>
<circle cx="439.3" cy="388.5" r="1.45" fill="#a8b030"/>
<circle cx="439.7" cy="364.2" r="1.45" fill="#a8b030"/>
<circle cx="440.1" cy="367.2" r="1.45" fill="#a8b030"/>
<circle cx="440.5" cy="387.7" r="1.45" fill="#a8b030"/>
<circle cx="440.9" cy="374.2" r="1.45" fill="#a8b030"/>
<circle cx="441.4" cy="371.0" r="1.45" fill="#a8b030"/>
<circle cx="441.8" cy="366.0" r="1.45" fill="#a8b030"/>
<circle cx="442.2" cy="360.1" r="1.45" fill="#a8b030"/>
<circle cx="442.6" cy="382.5" r="1.45" fill="#a8b030"/>
<circle cx="443.9" cy="355.5" r="1.45" fill="#a8b030"/>
<circle cx="444.3" cy="382.3" r="1.45" fill="#a8b030"/>
<circle cx="444.8" cy="382.5" r="1.45" fill="#a8b030"/>
<circle cx="445.2" cy="352.1" r="1.45" fill="#a8b030"/>
<circle cx="445.6" cy="361.5" r="1.45" fill="#a8b030"/>
<circle cx="446.0" cy="353.5" r="1.45" fill="#a8b030"/>
<circle cx="446.4" cy="378.5" r="1.45" fill="#a8b030"/>
<circle cx="446.9" cy="393.8" r="1.45" fill="#a8b030"/>
<circle cx="447.3" cy="388.2" r="1.45" fill="#a8b030"/>
<circle cx="447.7" cy="366.8" r="1.45" fill="#a8b030"/>
<circle cx="448.1" cy="369.8" r="1.45" fill="#a8b030"/>
<circle cx="448.6" cy="370.2" r="1.45" fill="#a8b030"/>
<circle cx="449.0" cy="354.0" r="1.45" fill="#a8b030"/>
<circle cx="449.4" cy="360.5" r="1.45" fill="#a8b030"/>
<circle cx="450.2" cy="370.4" r="1.45" fill="#a8b030"/>
<circle cx="450.7" cy="368.5" r="1.45" fill="#a8b030"/>
<circle cx="451.1" cy="403.0" r="1.45" fill="#a8b030"/>
<circle cx="451.5" cy="354.2" r="1.45" fill="#a8b030"/>
<circle cx="451.9" cy="365.3" r="1.45" fill="#a8b030"/>
<circle cx="452.4" cy="359.9" r="1.45" fill="#a8b030"/>
<circle cx="452.8" cy="394.1" r="1.45" fill="#a8b030"/>
<circle cx="453.6" cy="367.6" r="1.45" fill="#a8b030"/>
<circle cx="454.1" cy="384.0" r="1.45" fill="#a8b030"/>
<circle cx="454.5" cy="398.4" r="1.45" fill="#a8b030"/>
<circle cx="454.9" cy="381.8" r="1.45" fill="#a8b030"/>
<circle cx="455.3" cy="375.9" r="1.45" fill="#a8b030"/>
<circle cx="455.7" cy="377.3" r="1.45" fill="#a8b030"/>
<circle cx="456.2" cy="385.6" r="1.45" fill="#a8b030"/>
<circle cx="456.6" cy="372.3" r="1.45" fill="#a8b030"/>
<circle cx="457.0" cy="351.8" r="1.45" fill="#a8b030"/>
<circle cx="457.4" cy="364.1" r="1.45" fill="#a8b030"/>
<circle cx="457.9" cy="398.7" r="1.45" fill="#a8b030"/>
<circle cx="458.3" cy="357.2" r="1.45" fill="#a8b030"/>
<circle cx="458.7" cy="398.1" r="1.45" fill="#a8b030"/>
<circle cx="460.4" cy="364.9" r="1.45" fill="#a8b030"/>
<circle cx="461.7" cy="407.2" r="1.45" fill="#a8b030"/>
<circle cx="462.1" cy="389.3" r="1.45" fill="#a8b030"/>
<circle cx="462.9" cy="410.3" r="1.45" fill="#a8b030"/>
<circle cx="463.4" cy="384.0" r="1.45" fill="#a8b030"/>
<circle cx="463.8" cy="371.8" r="1.45" fill="#a8b030"/>
<circle cx="464.6" cy="373.4" r="1.45" fill="#a8b030"/>
<circle cx="465.1" cy="378.8" r="1.45" fill="#a8b030"/>
<circle cx="465.5" cy="373.7" r="1.45" fill="#a8b030"/>
<circle cx="465.9" cy="411.6" r="1.45" fill="#a8b030"/>
<circle cx="466.7" cy="368.4" r="1.45" fill="#a8b030"/>
<circle cx="467.2" cy="373.6" r="1.45" fill="#a8b030"/>
<circle cx="468.4" cy="372.3" r="1.45" fill="#a8b030"/>
<circle cx="468.9" cy="358.8" r="1.45" fill="#a8b030"/>
<circle cx="469.3" cy="377.9" r="1.45" fill="#a8b030"/>
<circle cx="469.7" cy="355.4" r="1.45" fill="#a8b030"/>
<circle cx="470.1" cy="379.3" r="1.45" fill="#a8b030"/>
<circle cx="470.6" cy="378.7" r="1.45" fill="#a8b030"/>
<circle cx="471.0" cy="376.2" r="1.45" fill="#a8b030"/>
<circle cx="471.4" cy="367.7" r="1.45" fill="#a8b030"/>
<circle cx="472.2" cy="383.5" r="1.45" fill="#a8b030"/>
<circle cx="472.7" cy="365.9" r="1.45" fill="#a8b030"/>
<circle cx="473.5" cy="381.7" r="1.45" fill="#a8b030"/>
<circle cx="473.9" cy="372.5" r="1.45" fill="#a8b030"/>
<circle cx="474.4" cy="361.8" r="1.45" fill="#a8b030"/>
<circle cx="474.8" cy="363.2" r="1.45" fill="#a8b030"/>
<circle cx="475.2" cy="389.7" r="1.45" fill="#a8b030"/>
<circle cx="475.6" cy="359.1" r="1.45" fill="#a8b030"/>
<circle cx="476.9" cy="365.7" r="1.45" fill="#a8b030"/>
<circle cx="477.3" cy="374.2" r="1.45" fill="#a8b030"/>
<circle cx="478.2" cy="368.6" r="1.45" fill="#a8b030"/>
<circle cx="478.6" cy="371.5" r="1.45" fill="#a8b030"/>
<circle cx="479.0" cy="373.6" r="1.45" fill="#a8b030"/>
<circle cx="479.4" cy="419.8" r="1.45" fill="#a8b030"/>
<circle cx="480.7" cy="400.4" r="1.45" fill="#a8b030"/>
<circle cx="481.1" cy="397.3" r="1.45" fill="#a8b030"/>
<circle cx="481.5" cy="442.1" r="1.45" fill="#a8b030"/>
<circle cx="482.4" cy="371.2" r="1.45" fill="#a8b030"/>
<circle cx="483.7" cy="360.4" r="1.45" fill="#a8b030"/>
<circle cx="484.9" cy="369.7" r="1.45" fill="#a8b030"/>
<circle cx="485.8" cy="363.7" r="1.45" fill="#a8b030"/>
<circle cx="488.3" cy="371.8" r="1.45" fill="#a8b030"/>
<circle cx="488.7" cy="395.9" r="1.45" fill="#a8b030"/>
<circle cx="489.2" cy="366.4" r="1.45" fill="#a8b030"/>
<circle cx="489.6" cy="374.2" r="1.45" fill="#a8b030"/>
<circle cx="490.4" cy="392.6" r="1.45" fill="#a8b030"/>
<circle cx="491.3" cy="437.2" r="1.45" fill="#a8b030"/>
<circle cx="491.7" cy="389.2" r="1.45" fill="#a8b030"/>
<circle cx="492.1" cy="382.4" r="1.45" fill="#a8b030"/>
<circle cx="492.5" cy="380.9" r="1.45" fill="#a8b030"/>
<circle cx="493.4" cy="402.3" r="1.45" fill="#a8b030"/>
<circle cx="494.2" cy="362.1" r="1.45" fill="#a8b030"/>
<circle cx="494.7" cy="409.5" r="1.45" fill="#a8b030"/>
<circle cx="495.1" cy="396.2" r="1.45" fill="#a8b030"/>
<circle cx="495.5" cy="394.5" r="1.45" fill="#a8b030"/>
<circle cx="495.9" cy="374.8" r="1.45" fill="#a8b030"/>
<circle cx="496.8" cy="401.8" r="1.45" fill="#a8b030"/>
<circle cx="497.2" cy="401.7" r="1.45" fill="#a8b030"/>
<circle cx="497.6" cy="396.2" r="1.45" fill="#a8b030"/>
<circle cx="498.0" cy="412.2" r="1.45" fill="#a8b030"/>
<circle cx="498.9" cy="392.0" r="1.45" fill="#a8b030"/>
<circle cx="499.7" cy="364.6" r="1.45" fill="#a8b030"/>
<circle cx="500.2" cy="396.3" r="1.45" fill="#a8b030"/>
<circle cx="501.0" cy="417.6" r="1.45" fill="#a8b030"/>
<circle cx="501.4" cy="372.6" r="1.45" fill="#a8b030"/>
<circle cx="501.8" cy="408.6" r="1.45" fill="#a8b030"/>
<circle cx="502.3" cy="405.0" r="1.45" fill="#a8b030"/>
<circle cx="503.1" cy="366.8" r="1.45" fill="#a8b030"/>
<circle cx="503.5" cy="393.9" r="1.45" fill="#a8b030"/>
<circle cx="504.8" cy="366.4" r="1.45" fill="#a8b030"/>
<circle cx="505.2" cy="383.6" r="1.45" fill="#a8b030"/>
<circle cx="506.5" cy="387.6" r="1.45" fill="#a8b030"/>
<circle cx="506.9" cy="360.8" r="1.45" fill="#a8b030"/>
<circle cx="507.3" cy="387.8" r="1.45" fill="#a8b030"/>
<circle cx="507.8" cy="376.5" r="1.45" fill="#a8b030"/>
<circle cx="508.2" cy="429.1" r="1.45" fill="#a8b030"/>
<circle cx="508.6" cy="395.2" r="1.45" fill="#a8b030"/>
<circle cx="510.7" cy="369.0" r="1.45" fill="#a8b030"/>
<circle cx="511.2" cy="399.7" r="1.45" fill="#a8b030"/>
<circle cx="511.6" cy="369.8" r="1.45" fill="#a8b030"/>
<circle cx="512.0" cy="376.0" r="1.45" fill="#a8b030"/>
<circle cx="512.4" cy="391.3" r="1.45" fill="#a8b030"/>
<circle cx="513.3" cy="360.3" r="1.45" fill="#a8b030"/>
<circle cx="513.7" cy="370.6" r="1.45" fill="#a8b030"/>
<circle cx="514.1" cy="369.2" r="1.45" fill="#a8b030"/>
<circle cx="514.5" cy="357.8" r="1.45" fill="#a8b030"/>
<circle cx="515.0" cy="366.2" r="1.45" fill="#a8b030"/>
<circle cx="515.4" cy="389.0" r="1.45" fill="#a8b030"/>
<circle cx="515.8" cy="384.4" r="1.45" fill="#a8b030"/>
<circle cx="516.2" cy="380.3" r="1.45" fill="#a8b030"/>
<circle cx="516.7" cy="359.6" r="1.45" fill="#a8b030"/>
<circle cx="518.3" cy="398.2" r="1.45" fill="#a8b030"/>
<circle cx="519.2" cy="373.8" r="1.45" fill="#a8b030"/>
<circle cx="519.6" cy="379.5" r="1.45" fill="#a8b030"/>
<circle cx="520.0" cy="400.5" r="1.45" fill="#a8b030"/>
<circle cx="520.5" cy="395.1" r="1.45" fill="#a8b030"/>
<circle cx="520.9" cy="362.4" r="1.45" fill="#a8b030"/>
<circle cx="521.3" cy="361.7" r="1.45" fill="#a8b030"/>
<circle cx="521.7" cy="364.0" r="1.45" fill="#a8b030"/>
<circle cx="522.6" cy="369.6" r="1.45" fill="#a8b030"/>
<circle cx="523.8" cy="364.4" r="1.45" fill="#a8b030"/>
<circle cx="524.3" cy="374.6" r="1.45" fill="#a8b030"/>
<circle cx="524.7" cy="378.1" r="1.45" fill="#a8b030"/>
<circle cx="525.1" cy="367.3" r="1.45" fill="#a8b030"/>
<circle cx="525.5" cy="364.8" r="1.45" fill="#a8b030"/>
<circle cx="526.0" cy="387.5" r="1.45" fill="#a8b030"/>
<circle cx="526.4" cy="387.7" r="1.45" fill="#a8b030"/>
<circle cx="526.8" cy="379.5" r="1.45" fill="#a8b030"/>
<circle cx="527.2" cy="375.0" r="1.45" fill="#a8b030"/>
<circle cx="527.6" cy="390.8" r="1.45" fill="#a8b030"/>
<circle cx="528.5" cy="358.0" r="1.45" fill="#a8b030"/>
<circle cx="529.8" cy="379.7" r="1.45" fill="#a8b030"/>
<circle cx="530.2" cy="401.7" r="1.45" fill="#a8b030"/>
<circle cx="530.6" cy="381.2" r="1.45" fill="#a8b030"/>
<circle cx="531.0" cy="358.5" r="1.45" fill="#a8b030"/>
<circle cx="531.5" cy="367.3" r="1.45" fill="#a8b030"/>
<circle cx="532.3" cy="386.3" r="1.45" fill="#a8b030"/>
<circle cx="532.7" cy="402.4" r="1.45" fill="#a8b030"/>
<circle cx="533.1" cy="369.3" r="1.45" fill="#a8b030"/>
<circle cx="534.8" cy="381.7" r="1.45" fill="#a8b030"/>
<circle cx="535.3" cy="384.7" r="1.45" fill="#a8b030"/>
<circle cx="535.7" cy="377.4" r="1.45" fill="#a8b030"/>
<circle cx="536.1" cy="375.2" r="1.45" fill="#a8b030"/>
<circle cx="305.6" cy="260.5" r="1.45" fill="#c49a2a"/>
<circle cx="306.0" cy="261.1" r="1.45" fill="#c49a2a"/>
<circle cx="306.4" cy="261.1" r="1.45" fill="#c49a2a"/>
<circle cx="306.9" cy="261.6" r="1.45" fill="#c49a2a"/>
<circle cx="307.3" cy="261.7" r="1.45" fill="#c49a2a"/>
<circle cx="307.7" cy="263.0" r="1.45" fill="#c49a2a"/>
<circle cx="308.1" cy="262.9" r="1.45" fill="#c49a2a"/>
<circle cx="308.6" cy="263.5" r="1.45" fill="#c49a2a"/>
<circle cx="309.0" cy="264.0" r="1.45" fill="#c49a2a"/>
<circle cx="309.4" cy="264.3" r="1.45" fill="#c49a2a"/>
<circle cx="309.8" cy="264.5" r="1.45" fill="#c49a2a"/>
<circle cx="310.3" cy="264.8" r="1.45" fill="#c49a2a"/>
<circle cx="310.7" cy="265.5" r="1.45" fill="#c49a2a"/>
<circle cx="311.1" cy="265.3" r="1.45" fill="#c49a2a"/>
<circle cx="311.5" cy="266.1" r="1.45" fill="#c49a2a"/>
<circle cx="311.9" cy="267.7" r="1.45" fill="#c49a2a"/>
<circle cx="312.4" cy="266.1" r="1.45" fill="#c49a2a"/>
<circle cx="312.8" cy="267.2" r="1.45" fill="#c49a2a"/>
<circle cx="313.2" cy="267.7" r="1.45" fill="#c49a2a"/>
<circle cx="313.6" cy="267.6" r="1.45" fill="#c49a2a"/>
<circle cx="314.1" cy="268.0" r="1.45" fill="#c49a2a"/>
<circle cx="314.5" cy="268.5" r="1.45" fill="#c49a2a"/>
<circle cx="314.9" cy="269.3" r="1.45" fill="#c49a2a"/>
<circle cx="315.3" cy="269.2" r="1.45" fill="#c49a2a"/>
<circle cx="315.8" cy="270.4" r="1.45" fill="#c49a2a"/>
<circle cx="316.2" cy="269.4" r="1.45" fill="#c49a2a"/>
<circle cx="316.6" cy="271.0" r="1.45" fill="#c49a2a"/>
<circle cx="317.0" cy="270.9" r="1.45" fill="#c49a2a"/>
<circle cx="317.4" cy="271.2" r="1.45" fill="#c49a2a"/>
<circle cx="317.9" cy="271.4" r="1.45" fill="#c49a2a"/>
<circle cx="318.3" cy="272.1" r="1.45" fill="#c49a2a"/>
<circle cx="318.7" cy="272.1" r="1.45" fill="#c49a2a"/>
<circle cx="319.1" cy="274.6" r="1.45" fill="#c49a2a"/>
<circle cx="319.6" cy="273.2" r="1.45" fill="#c49a2a"/>
<circle cx="320.0" cy="273.6" r="1.45" fill="#c49a2a"/>
<circle cx="320.4" cy="274.1" r="1.45" fill="#c49a2a"/>
<circle cx="320.8" cy="273.5" r="1.45" fill="#c49a2a"/>
<circle cx="321.2" cy="275.2" r="1.45" fill="#c49a2a"/>
<circle cx="321.7" cy="275.1" r="1.45" fill="#c49a2a"/>
<circle cx="322.1" cy="276.6" r="1.45" fill="#c49a2a"/>
<circle cx="322.5" cy="275.6" r="1.45" fill="#c49a2a"/>
<circle cx="322.9" cy="277.1" r="1.45" fill="#c49a2a"/>
<circle cx="323.4" cy="277.5" r="1.45" fill="#c49a2a"/>
<circle cx="323.8" cy="275.6" r="1.45" fill="#c49a2a"/>
<circle cx="324.2" cy="276.9" r="1.45" fill="#c49a2a"/>
<circle cx="324.6" cy="277.7" r="1.45" fill="#c49a2a"/>
<circle cx="325.1" cy="278.0" r="1.45" fill="#c49a2a"/>
<circle cx="325.5" cy="279.3" r="1.45" fill="#c49a2a"/>
<circle cx="325.9" cy="279.5" r="1.45" fill="#c49a2a"/>
<circle cx="326.3" cy="278.9" r="1.45" fill="#c49a2a"/>
<circle cx="326.7" cy="280.9" r="1.45" fill="#c49a2a"/>
<circle cx="327.2" cy="279.8" r="1.45" fill="#c49a2a"/>
<circle cx="327.6" cy="281.4" r="1.45" fill="#c49a2a"/>
<circle cx="328.0" cy="280.6" r="1.45" fill="#c49a2a"/>
<circle cx="328.4" cy="281.8" r="1.45" fill="#c49a2a"/>
<circle cx="328.9" cy="280.3" r="1.45" fill="#c49a2a"/>
<circle cx="329.3" cy="281.2" r="1.45" fill="#c49a2a"/>
<circle cx="329.7" cy="282.5" r="1.45" fill="#c49a2a"/>
<circle cx="330.1" cy="283.9" r="1.45" fill="#c49a2a"/>
<circle cx="330.6" cy="283.5" r="1.45" fill="#c49a2a"/>
<circle cx="331.0" cy="283.4" r="1.45" fill="#c49a2a"/>
<circle cx="331.4" cy="284.4" r="1.45" fill="#c49a2a"/>
<circle cx="331.8" cy="283.9" r="1.45" fill="#c49a2a"/>
<circle cx="332.2" cy="283.8" r="1.45" fill="#c49a2a"/>
<circle cx="332.7" cy="284.9" r="1.45" fill="#c49a2a"/>
<circle cx="333.1" cy="285.5" r="1.45" fill="#c49a2a"/>
<circle cx="333.5" cy="285.0" r="1.45" fill="#c49a2a"/>
<circle cx="333.9" cy="286.2" r="1.45" fill="#c49a2a"/>
<circle cx="334.4" cy="285.7" r="1.45" fill="#c49a2a"/>
<circle cx="334.8" cy="286.9" r="1.45" fill="#c49a2a"/>
<circle cx="335.2" cy="285.9" r="1.45" fill="#c49a2a"/>
<circle cx="335.6" cy="287.6" r="1.45" fill="#c49a2a"/>
<circle cx="336.1" cy="288.6" r="1.45" fill="#c49a2a"/>
<circle cx="336.5" cy="288.1" r="1.45" fill="#c49a2a"/>
<circle cx="336.9" cy="289.0" r="1.45" fill="#c49a2a"/>
<circle cx="337.3" cy="289.7" r="1.45" fill="#c49a2a"/>
<circle cx="337.7" cy="289.4" r="1.45" fill="#c49a2a"/>
<circle cx="338.2" cy="289.1" r="1.45" fill="#c49a2a"/>
<circle cx="338.6" cy="291.9" r="1.45" fill="#c49a2a"/>
<circle cx="339.0" cy="290.4" r="1.45" fill="#c49a2a"/>
<circle cx="339.4" cy="290.9" r="1.45" fill="#c49a2a"/>
<circle cx="339.9" cy="291.3" r="1.45" fill="#c49a2a"/>
<circle cx="340.3" cy="290.8" r="1.45" fill="#c49a2a"/>
<circle cx="340.7" cy="293.0" r="1.45" fill="#c49a2a"/>
<circle cx="341.1" cy="291.7" r="1.45" fill="#c49a2a"/>
<circle cx="341.6" cy="292.8" r="1.45" fill="#c49a2a"/>
<circle cx="342.0" cy="292.9" r="1.45" fill="#c49a2a"/>
<circle cx="342.4" cy="293.5" r="1.45" fill="#c49a2a"/>
<circle cx="342.8" cy="294.0" r="1.45" fill="#c49a2a"/>
<circle cx="343.2" cy="294.6" r="1.45" fill="#c49a2a"/>
<circle cx="343.7" cy="294.1" r="1.45" fill="#c49a2a"/>
<circle cx="344.1" cy="292.9" r="1.45" fill="#c49a2a"/>
<circle cx="344.5" cy="294.2" r="1.45" fill="#c49a2a"/>
<circle cx="344.9" cy="294.8" r="1.45" fill="#c49a2a"/>
<circle cx="345.4" cy="295.4" r="1.45" fill="#c49a2a"/>
<circle cx="345.8" cy="296.7" r="1.45" fill="#c49a2a"/>
<circle cx="346.2" cy="296.1" r="1.45" fill="#c49a2a"/>
<circle cx="346.6" cy="295.1" r="1.45" fill="#c49a2a"/>
<circle cx="347.0" cy="298.7" r="1.45" fill="#c49a2a"/>
<circle cx="347.5" cy="296.9" r="1.45" fill="#c49a2a"/>
<circle cx="347.9" cy="297.1" r="1.45" fill="#c49a2a"/>
<circle cx="348.3" cy="298.2" r="1.45" fill="#c49a2a"/>
<circle cx="348.7" cy="298.0" r="1.45" fill="#c49a2a"/>
<circle cx="349.2" cy="297.8" r="1.45" fill="#c49a2a"/>
<circle cx="349.6" cy="297.3" r="1.45" fill="#c49a2a"/>
<circle cx="350.0" cy="298.6" r="1.45" fill="#c49a2a"/>
<circle cx="350.4" cy="298.6" r="1.45" fill="#c49a2a"/>
<circle cx="350.9" cy="300.3" r="1.45" fill="#c49a2a"/>
<circle cx="351.3" cy="300.1" r="1.45" fill="#c49a2a"/>
<circle cx="351.7" cy="301.2" r="1.45" fill="#c49a2a"/>
<circle cx="352.1" cy="301.4" r="1.45" fill="#c49a2a"/>
<circle cx="352.5" cy="302.6" r="1.45" fill="#c49a2a"/>
<circle cx="353.0" cy="301.7" r="1.45" fill="#c49a2a"/>
<circle cx="353.4" cy="301.2" r="1.45" fill="#c49a2a"/>
<circle cx="353.8" cy="303.3" r="1.45" fill="#c49a2a"/>
<circle cx="354.2" cy="303.2" r="1.45" fill="#c49a2a"/>
<circle cx="354.7" cy="303.1" r="1.45" fill="#c49a2a"/>
<circle cx="355.1" cy="304.2" r="1.45" fill="#c49a2a"/>
<circle cx="355.5" cy="303.5" r="1.45" fill="#c49a2a"/>
<circle cx="355.9" cy="304.6" r="1.45" fill="#c49a2a"/>
<circle cx="356.4" cy="306.8" r="1.45" fill="#c49a2a"/>
<circle cx="356.8" cy="307.0" r="1.45" fill="#c49a2a"/>
<circle cx="357.2" cy="305.1" r="1.45" fill="#c49a2a"/>
<circle cx="357.6" cy="305.6" r="1.45" fill="#c49a2a"/>
<circle cx="358.0" cy="305.4" r="1.45" fill="#c49a2a"/>
<circle cx="358.5" cy="306.8" r="1.45" fill="#c49a2a"/>
<circle cx="358.9" cy="307.2" r="1.45" fill="#c49a2a"/>
<circle cx="359.3" cy="310.0" r="1.45" fill="#c49a2a"/>
<circle cx="359.7" cy="306.4" r="1.45" fill="#c49a2a"/>
<circle cx="360.2" cy="309.8" r="1.45" fill="#c49a2a"/>
<circle cx="360.6" cy="307.5" r="1.45" fill="#c49a2a"/>
<circle cx="361.0" cy="310.9" r="1.45" fill="#c49a2a"/>
<circle cx="361.4" cy="310.5" r="1.45" fill="#c49a2a"/>
<circle cx="361.9" cy="309.7" r="1.45" fill="#c49a2a"/>
<circle cx="362.3" cy="310.9" r="1.45" fill="#c49a2a"/>
<circle cx="362.7" cy="311.7" r="1.45" fill="#c49a2a"/>
<circle cx="363.1" cy="309.7" r="1.45" fill="#c49a2a"/>
<circle cx="363.5" cy="310.4" r="1.45" fill="#c49a2a"/>
<circle cx="364.0" cy="311.1" r="1.45" fill="#c49a2a"/>
<circle cx="364.4" cy="312.6" r="1.45" fill="#c49a2a"/>
<circle cx="364.8" cy="313.7" r="1.45" fill="#c49a2a"/>
<circle cx="365.2" cy="313.5" r="1.45" fill="#c49a2a"/>
<circle cx="365.7" cy="314.0" r="1.45" fill="#c49a2a"/>
<circle cx="366.1" cy="313.5" r="1.45" fill="#c49a2a"/>
<circle cx="366.5" cy="312.6" r="1.45" fill="#c49a2a"/>
<circle cx="366.9" cy="314.4" r="1.45" fill="#c49a2a"/>
<circle cx="367.4" cy="315.9" r="1.45" fill="#c49a2a"/>
<circle cx="367.8" cy="315.9" r="1.45" fill="#c49a2a"/>
<circle cx="368.2" cy="313.2" r="1.45" fill="#c49a2a"/>
<circle cx="368.6" cy="315.3" r="1.45" fill="#c49a2a"/>
<circle cx="369.0" cy="315.5" r="1.45" fill="#c49a2a"/>
<circle cx="369.5" cy="315.8" r="1.45" fill="#c49a2a"/>
<circle cx="369.9" cy="315.6" r="1.45" fill="#c49a2a"/>
<circle cx="370.3" cy="316.7" r="1.45" fill="#c49a2a"/>
<circle cx="370.7" cy="315.3" r="1.45" fill="#c49a2a"/>
<circle cx="371.2" cy="316.3" r="1.45" fill="#c49a2a"/>
<circle cx="371.6" cy="323.9" r="1.45" fill="#c49a2a"/>
<circle cx="372.0" cy="318.6" r="1.45" fill="#c49a2a"/>
<circle cx="372.4" cy="313.9" r="1.45" fill="#c49a2a"/>
<circle cx="372.8" cy="321.6" r="1.45" fill="#c49a2a"/>
<circle cx="373.3" cy="319.2" r="1.45" fill="#c49a2a"/>
<circle cx="373.7" cy="317.8" r="1.45" fill="#c49a2a"/>
<circle cx="374.1" cy="320.1" r="1.45" fill="#c49a2a"/>
<circle cx="374.5" cy="318.0" r="1.45" fill="#c49a2a"/>
<circle cx="375.0" cy="323.5" r="1.45" fill="#c49a2a"/>
<circle cx="375.4" cy="323.8" r="1.45" fill="#c49a2a"/>
<circle cx="375.8" cy="321.9" r="1.45" fill="#c49a2a"/>
<circle cx="376.2" cy="323.4" r="1.45" fill="#c49a2a"/>
<circle cx="376.7" cy="324.5" r="1.45" fill="#c49a2a"/>
<circle cx="377.1" cy="321.4" r="1.45" fill="#c49a2a"/>
<circle cx="377.5" cy="322.3" r="1.45" fill="#c49a2a"/>
<circle cx="377.9" cy="323.2" r="1.45" fill="#c49a2a"/>
<circle cx="378.3" cy="324.4" r="1.45" fill="#c49a2a"/>
<circle cx="378.8" cy="323.3" r="1.45" fill="#c49a2a"/>
<circle cx="379.2" cy="324.5" r="1.45" fill="#c49a2a"/>
<circle cx="379.6" cy="326.3" r="1.45" fill="#c49a2a"/>
<circle cx="380.0" cy="323.8" r="1.45" fill="#c49a2a"/>
<circle cx="380.5" cy="324.4" r="1.45" fill="#c49a2a"/>
<circle cx="380.9" cy="325.4" r="1.45" fill="#c49a2a"/>
<circle cx="381.3" cy="324.4" r="1.45" fill="#c49a2a"/>
<circle cx="381.7" cy="329.1" r="1.45" fill="#c49a2a"/>
<circle cx="382.2" cy="327.0" r="1.45" fill="#c49a2a"/>
<circle cx="382.6" cy="328.3" r="1.45" fill="#c49a2a"/>
<circle cx="383.0" cy="324.3" r="1.45" fill="#c49a2a"/>
<circle cx="383.4" cy="326.4" r="1.45" fill="#c49a2a"/>
<circle cx="383.8" cy="323.3" r="1.45" fill="#c49a2a"/>
<circle cx="384.3" cy="324.7" r="1.45" fill="#c49a2a"/>
<circle cx="384.7" cy="329.6" r="1.45" fill="#c49a2a"/>
<circle cx="385.1" cy="332.0" r="1.45" fill="#c49a2a"/>
<circle cx="385.5" cy="328.1" r="1.45" fill="#c49a2a"/>
<circle cx="386.0" cy="330.4" r="1.45" fill="#c49a2a"/>
<circle cx="386.4" cy="330.4" r="1.45" fill="#c49a2a"/>
<circle cx="386.8" cy="333.4" r="1.45" fill="#c49a2a"/>
<circle cx="387.2" cy="329.1" r="1.45" fill="#c49a2a"/>
<circle cx="387.7" cy="330.5" r="1.45" fill="#c49a2a"/>
<circle cx="388.1" cy="330.2" r="1.45" fill="#c49a2a"/>
<circle cx="388.5" cy="330.8" r="1.45" fill="#c49a2a"/>
<circle cx="388.9" cy="334.8" r="1.45" fill="#c49a2a"/>
<circle cx="389.3" cy="340.2" r="1.45" fill="#c49a2a"/>
<circle cx="389.8" cy="333.5" r="1.45" fill="#c49a2a"/>
<circle cx="390.2" cy="335.0" r="1.45" fill="#c49a2a"/>
<circle cx="390.6" cy="335.0" r="1.45" fill="#c49a2a"/>
<circle cx="391.0" cy="330.9" r="1.45" fill="#c49a2a"/>
<circle cx="391.5" cy="334.3" r="1.45" fill="#c49a2a"/>
<circle cx="391.9" cy="330.1" r="1.45" fill="#c49a2a"/>
<circle cx="392.3" cy="334.1" r="1.45" fill="#c49a2a"/>
<circle cx="392.7" cy="332.9" r="1.45" fill="#c49a2a"/>
<circle cx="393.2" cy="333.8" r="1.45" fill="#c49a2a"/>
<circle cx="393.6" cy="333.2" r="1.45" fill="#c49a2a"/>
<circle cx="394.0" cy="340.7" r="1.45" fill="#c49a2a"/>
<circle cx="394.4" cy="333.0" r="1.45" fill="#c49a2a"/>
<circle cx="394.8" cy="336.3" r="1.45" fill="#c49a2a"/>
<circle cx="395.3" cy="340.7" r="1.45" fill="#c49a2a"/>
<circle cx="395.7" cy="335.3" r="1.45" fill="#c49a2a"/>
<circle cx="396.1" cy="336.4" r="1.45" fill="#c49a2a"/>
<circle cx="396.5" cy="333.8" r="1.45" fill="#c49a2a"/>
<circle cx="397.0" cy="335.8" r="1.45" fill="#c49a2a"/>
<circle cx="397.4" cy="337.3" r="1.45" fill="#c49a2a"/>
<circle cx="397.8" cy="346.1" r="1.45" fill="#c49a2a"/>
<circle cx="398.2" cy="333.8" r="1.45" fill="#c49a2a"/>
<circle cx="398.6" cy="334.6" r="1.45" fill="#c49a2a"/>
<circle cx="399.1" cy="337.1" r="1.45" fill="#c49a2a"/>
<circle cx="399.5" cy="338.5" r="1.45" fill="#c49a2a"/>
<circle cx="399.9" cy="336.3" r="1.45" fill="#c49a2a"/>
<circle cx="400.3" cy="344.7" r="1.45" fill="#c49a2a"/>
<circle cx="400.8" cy="338.6" r="1.45" fill="#c49a2a"/>
<circle cx="401.2" cy="341.4" r="1.45" fill="#c49a2a"/>
<circle cx="401.6" cy="346.5" r="1.45" fill="#c49a2a"/>
<circle cx="402.0" cy="340.7" r="1.45" fill="#c49a2a"/>
<circle cx="402.5" cy="341.0" r="1.45" fill="#c49a2a"/>
<circle cx="402.9" cy="336.6" r="1.45" fill="#c49a2a"/>
<circle cx="403.3" cy="339.4" r="1.45" fill="#c49a2a"/>
<circle cx="403.7" cy="352.1" r="1.45" fill="#c49a2a"/>
<circle cx="404.1" cy="355.2" r="1.45" fill="#c49a2a"/>
<circle cx="404.6" cy="344.4" r="1.45" fill="#c49a2a"/>
<circle cx="405.0" cy="345.4" r="1.45" fill="#c49a2a"/>
<circle cx="405.4" cy="349.6" r="1.45" fill="#c49a2a"/>
<circle cx="405.8" cy="353.4" r="1.45" fill="#c49a2a"/>
<circle cx="406.3" cy="346.3" r="1.45" fill="#c49a2a"/>
<circle cx="406.7" cy="352.2" r="1.45" fill="#c49a2a"/>
<circle cx="407.1" cy="349.6" r="1.45" fill="#c49a2a"/>
<circle cx="407.5" cy="342.4" r="1.45" fill="#c49a2a"/>
<circle cx="408.0" cy="345.4" r="1.45" fill="#c49a2a"/>
<circle cx="408.4" cy="351.1" r="1.45" fill="#c49a2a"/>
<circle cx="408.8" cy="354.0" r="1.45" fill="#c49a2a"/>
<circle cx="409.2" cy="348.5" r="1.45" fill="#c49a2a"/>
<circle cx="409.6" cy="340.4" r="1.45" fill="#c49a2a"/>
<circle cx="410.1" cy="351.0" r="1.45" fill="#c49a2a"/>
<circle cx="410.5" cy="340.8" r="1.45" fill="#c49a2a"/>
<circle cx="410.9" cy="353.6" r="1.45" fill="#c49a2a"/>
<circle cx="411.3" cy="350.3" r="1.45" fill="#c49a2a"/>
<circle cx="411.8" cy="345.8" r="1.45" fill="#c49a2a"/>
<circle cx="412.2" cy="354.6" r="1.45" fill="#c49a2a"/>
<circle cx="412.6" cy="349.7" r="1.45" fill="#c49a2a"/>
<circle cx="413.0" cy="360.2" r="1.45" fill="#c49a2a"/>
<circle cx="413.5" cy="347.1" r="1.45" fill="#c49a2a"/>
<circle cx="413.9" cy="345.0" r="1.45" fill="#c49a2a"/>
<circle cx="414.3" cy="355.6" r="1.45" fill="#c49a2a"/>
<circle cx="414.7" cy="350.4" r="1.45" fill="#c49a2a"/>
<circle cx="415.1" cy="354.5" r="1.45" fill="#c49a2a"/>
<circle cx="415.6" cy="374.4" r="1.45" fill="#c49a2a"/>
<circle cx="416.0" cy="339.9" r="1.45" fill="#c49a2a"/>
<circle cx="416.4" cy="349.1" r="1.45" fill="#c49a2a"/>
<circle cx="416.8" cy="348.3" r="1.45" fill="#c49a2a"/>
<circle cx="417.3" cy="350.9" r="1.45" fill="#c49a2a"/>
<circle cx="417.7" cy="352.5" r="1.45" fill="#c49a2a"/>
<circle cx="418.1" cy="342.2" r="1.45" fill="#c49a2a"/>
<circle cx="418.5" cy="373.6" r="1.45" fill="#c49a2a"/>
<circle cx="419.0" cy="356.8" r="1.45" fill="#c49a2a"/>
<circle cx="419.4" cy="358.0" r="1.45" fill="#c49a2a"/>
<circle cx="419.8" cy="356.7" r="1.45" fill="#c49a2a"/>
<circle cx="420.2" cy="351.0" r="1.45" fill="#c49a2a"/>
<circle cx="420.6" cy="361.8" r="1.45" fill="#c49a2a"/>
<circle cx="421.1" cy="369.3" r="1.45" fill="#c49a2a"/>
<circle cx="421.5" cy="367.2" r="1.45" fill="#c49a2a"/>
<circle cx="421.9" cy="353.4" r="1.45" fill="#c49a2a"/>
<circle cx="422.3" cy="350.7" r="1.45" fill="#c49a2a"/>
<circle cx="422.8" cy="351.8" r="1.45" fill="#c49a2a"/>
<circle cx="423.2" cy="347.8" r="1.45" fill="#c49a2a"/>
<circle cx="423.6" cy="362.4" r="1.45" fill="#c49a2a"/>
<circle cx="424.0" cy="351.4" r="1.45" fill="#c49a2a"/>
<circle cx="424.4" cy="353.4" r="1.45" fill="#c49a2a"/>
<circle cx="424.9" cy="360.0" r="1.45" fill="#c49a2a"/>
<circle cx="425.3" cy="366.4" r="1.45" fill="#c49a2a"/>
<circle cx="425.7" cy="352.9" r="1.45" fill="#c49a2a"/>
<circle cx="426.1" cy="366.3" r="1.45" fill="#c49a2a"/>
<circle cx="426.6" cy="362.5" r="1.45" fill="#c49a2a"/>
<circle cx="427.0" cy="371.1" r="1.45" fill="#c49a2a"/>
<circle cx="427.4" cy="348.9" r="1.45" fill="#c49a2a"/>
<circle cx="427.8" cy="361.1" r="1.45" fill="#c49a2a"/>
<circle cx="428.3" cy="366.1" r="1.45" fill="#c49a2a"/>
<circle cx="428.7" cy="363.6" r="1.45" fill="#c49a2a"/>
<circle cx="429.1" cy="363.7" r="1.45" fill="#c49a2a"/>
<circle cx="429.5" cy="360.9" r="1.45" fill="#c49a2a"/>
<circle cx="429.9" cy="395.1" r="1.45" fill="#c49a2a"/>
<circle cx="430.4" cy="378.7" r="1.45" fill="#c49a2a"/>
<circle cx="430.8" cy="358.2" r="1.45" fill="#c49a2a"/>
<circle cx="431.2" cy="354.3" r="1.45" fill="#c49a2a"/>
<circle cx="431.6" cy="377.2" r="1.45" fill="#c49a2a"/>
<circle cx="432.1" cy="362.3" r="1.45" fill="#c49a2a"/>
<circle cx="432.5" cy="370.7" r="1.45" fill="#c49a2a"/>
<circle cx="433.3" cy="367.8" r="1.45" fill="#c49a2a"/>
<circle cx="433.8" cy="381.6" r="1.45" fill="#c49a2a"/>
<circle cx="434.2" cy="357.1" r="1.45" fill="#c49a2a"/>
<circle cx="434.6" cy="367.5" r="1.45" fill="#c49a2a"/>
<circle cx="435.0" cy="365.8" r="1.45" fill="#c49a2a"/>
<circle cx="435.4" cy="399.0" r="1.45" fill="#c49a2a"/>
<circle cx="435.9" cy="364.3" r="1.45" fill="#c49a2a"/>
<circle cx="436.7" cy="364.0" r="1.45" fill="#c49a2a"/>
<circle cx="437.1" cy="354.8" r="1.45" fill="#c49a2a"/>
<circle cx="437.6" cy="392.0" r="1.45" fill="#c49a2a"/>
<circle cx="438.0" cy="358.9" r="1.45" fill="#c49a2a"/>
<circle cx="438.4" cy="355.1" r="1.45" fill="#c49a2a"/>
<circle cx="438.8" cy="370.3" r="1.45" fill="#c49a2a"/>
<circle cx="439.3" cy="357.4" r="1.45" fill="#c49a2a"/>
<circle cx="439.7" cy="367.2" r="1.45" fill="#c49a2a"/>
<circle cx="440.1" cy="376.0" r="1.45" fill="#c49a2a"/>
<circle cx="440.9" cy="393.0" r="1.45" fill="#c49a2a"/>
<circle cx="441.4" cy="439.4" r="1.45" fill="#c49a2a"/>
<circle cx="441.8" cy="350.5" r="1.45" fill="#c49a2a"/>
<circle cx="442.2" cy="366.6" r="1.45" fill="#c49a2a"/>
<circle cx="442.6" cy="372.5" r="1.45" fill="#c49a2a"/>
<circle cx="443.1" cy="421.9" r="1.45" fill="#c49a2a"/>
<circle cx="443.5" cy="354.7" r="1.45" fill="#c49a2a"/>
<circle cx="443.9" cy="404.4" r="1.45" fill="#c49a2a"/>
<circle cx="444.3" cy="356.5" r="1.45" fill="#c49a2a"/>
<circle cx="444.8" cy="359.7" r="1.45" fill="#c49a2a"/>
<circle cx="445.2" cy="370.5" r="1.45" fill="#c49a2a"/>
<circle cx="445.6" cy="385.1" r="1.45" fill="#c49a2a"/>
<circle cx="446.0" cy="372.7" r="1.45" fill="#c49a2a"/>
<circle cx="446.9" cy="364.4" r="1.45" fill="#c49a2a"/>
<circle cx="447.3" cy="356.0" r="1.45" fill="#c49a2a"/>
<circle cx="447.7" cy="362.4" r="1.45" fill="#c49a2a"/>
<circle cx="448.1" cy="361.1" r="1.45" fill="#c49a2a"/>
<circle cx="448.6" cy="389.6" r="1.45" fill="#c49a2a"/>
<circle cx="449.0" cy="369.3" r="1.45" fill="#c49a2a"/>
<circle cx="449.4" cy="409.2" r="1.45" fill="#c49a2a"/>
<circle cx="449.8" cy="383.4" r="1.45" fill="#c49a2a"/>
<circle cx="450.2" cy="364.9" r="1.45" fill="#c49a2a"/>
<circle cx="450.7" cy="351.9" r="1.45" fill="#c49a2a"/>
<circle cx="451.1" cy="373.7" r="1.45" fill="#c49a2a"/>
<circle cx="451.5" cy="374.5" r="1.45" fill="#c49a2a"/>
<circle cx="452.4" cy="372.7" r="1.45" fill="#c49a2a"/>
<circle cx="452.8" cy="408.2" r="1.45" fill="#c49a2a"/>
<circle cx="454.1" cy="374.0" r="1.45" fill="#c49a2a"/>
<circle cx="454.5" cy="385.9" r="1.45" fill="#c49a2a"/>
<circle cx="454.9" cy="367.1" r="1.45" fill="#c49a2a"/>
<circle cx="455.3" cy="382.1" r="1.45" fill="#c49a2a"/>
<circle cx="455.7" cy="377.4" r="1.45" fill="#c49a2a"/>
<circle cx="456.2" cy="359.9" r="1.45" fill="#c49a2a"/>
<circle cx="456.6" cy="366.2" r="1.45" fill="#c49a2a"/>
<circle cx="457.0" cy="366.7" r="1.45" fill="#c49a2a"/>
<circle cx="457.4" cy="360.1" r="1.45" fill="#c49a2a"/>
<circle cx="457.9" cy="374.4" r="1.45" fill="#c49a2a"/>
<circle cx="458.7" cy="412.1" r="1.45" fill="#c49a2a"/>
<circle cx="459.6" cy="373.0" r="1.45" fill="#c49a2a"/>
<circle cx="460.0" cy="390.5" r="1.45" fill="#c49a2a"/>
<circle cx="460.4" cy="371.0" r="1.45" fill="#c49a2a"/>
<circle cx="460.8" cy="367.0" r="1.45" fill="#c49a2a"/>
<circle cx="461.2" cy="421.9" r="1.45" fill="#c49a2a"/>
<circle cx="461.7" cy="376.6" r="1.45" fill="#c49a2a"/>
<circle cx="462.1" cy="362.9" r="1.45" fill="#c49a2a"/>
<circle cx="462.5" cy="378.9" r="1.45" fill="#c49a2a"/>
<circle cx="462.9" cy="366.5" r="1.45" fill="#c49a2a"/>
<circle cx="463.4" cy="386.1" r="1.45" fill="#c49a2a"/>
<circle cx="464.2" cy="387.7" r="1.45" fill="#c49a2a"/>
<circle cx="465.1" cy="369.7" r="1.45" fill="#c49a2a"/>
<circle cx="465.5" cy="401.1" r="1.45" fill="#c49a2a"/>
<circle cx="465.9" cy="362.9" r="1.45" fill="#c49a2a"/>
<circle cx="466.7" cy="379.8" r="1.45" fill="#c49a2a"/>
<circle cx="467.2" cy="375.7" r="1.45" fill="#c49a2a"/>
<circle cx="467.6" cy="388.8" r="1.45" fill="#c49a2a"/>
<circle cx="468.0" cy="375.3" r="1.45" fill="#c49a2a"/>
<circle cx="469.7" cy="410.5" r="1.45" fill="#c49a2a"/>
<circle cx="470.6" cy="378.8" r="1.45" fill="#c49a2a"/>
<circle cx="471.0" cy="398.1" r="1.45" fill="#c49a2a"/>
<circle cx="471.4" cy="428.5" r="1.45" fill="#c49a2a"/>
<circle cx="472.7" cy="399.4" r="1.45" fill="#c49a2a"/>
<circle cx="473.1" cy="376.2" r="1.45" fill="#c49a2a"/>
<circle cx="473.9" cy="394.8" r="1.45" fill="#c49a2a"/>
<circle cx="474.4" cy="372.3" r="1.45" fill="#c49a2a"/>
<circle cx="475.2" cy="381.3" r="1.45" fill="#c49a2a"/>
<circle cx="475.6" cy="406.0" r="1.45" fill="#c49a2a"/>
<circle cx="476.0" cy="355.7" r="1.45" fill="#c49a2a"/>
<circle cx="476.5" cy="364.1" r="1.45" fill="#c49a2a"/>
<circle cx="476.9" cy="366.3" r="1.45" fill="#c49a2a"/>
<circle cx="477.7" cy="373.3" r="1.45" fill="#c49a2a"/>
<circle cx="478.2" cy="393.1" r="1.45" fill="#c49a2a"/>
<circle cx="478.6" cy="378.5" r="1.45" fill="#c49a2a"/>
<circle cx="479.0" cy="432.3" r="1.45" fill="#c49a2a"/>
<circle cx="479.4" cy="383.3" r="1.45" fill="#c49a2a"/>
<circle cx="480.3" cy="380.4" r="1.45" fill="#c49a2a"/>
<circle cx="480.7" cy="361.2" r="1.45" fill="#c49a2a"/>
<circle cx="482.0" cy="376.6" r="1.45" fill="#c49a2a"/>
<circle cx="482.4" cy="372.0" r="1.45" fill="#c49a2a"/>
<circle cx="482.8" cy="408.5" r="1.45" fill="#c49a2a"/>
<circle cx="483.2" cy="375.3" r="1.45" fill="#c49a2a"/>
<circle cx="483.7" cy="378.3" r="1.45" fill="#c49a2a"/>
<circle cx="484.1" cy="376.1" r="1.45" fill="#c49a2a"/>
<circle cx="484.5" cy="365.1" r="1.45" fill="#c49a2a"/>
<circle cx="485.4" cy="374.5" r="1.45" fill="#c49a2a"/>
<circle cx="485.8" cy="383.9" r="1.45" fill="#c49a2a"/>
<circle cx="486.6" cy="377.4" r="1.45" fill="#c49a2a"/>
<circle cx="487.9" cy="368.9" r="1.45" fill="#c49a2a"/>
<circle cx="488.7" cy="362.5" r="1.45" fill="#c49a2a"/>
<circle cx="489.2" cy="369.5" r="1.45" fill="#c49a2a"/>
<circle cx="490.9" cy="394.6" r="1.45" fill="#c49a2a"/>
<circle cx="491.7" cy="363.9" r="1.45" fill="#c49a2a"/>
<circle cx="492.5" cy="389.7" r="1.45" fill="#c49a2a"/>
<circle cx="493.4" cy="415.6" r="1.45" fill="#c49a2a"/>
<circle cx="493.8" cy="366.5" r="1.45" fill="#c49a2a"/>
<circle cx="494.2" cy="435.3" r="1.45" fill="#c49a2a"/>
<circle cx="495.5" cy="381.5" r="1.45" fill="#c49a2a"/>
<circle cx="495.9" cy="372.2" r="1.45" fill="#c49a2a"/>
<circle cx="496.4" cy="406.3" r="1.45" fill="#c49a2a"/>
<circle cx="497.2" cy="383.4" r="1.45" fill="#c49a2a"/>
<circle cx="497.6" cy="371.2" r="1.45" fill="#c49a2a"/>
<circle cx="498.0" cy="358.1" r="1.45" fill="#c49a2a"/>
<circle cx="498.5" cy="387.6" r="1.45" fill="#c49a2a"/>
<circle cx="498.9" cy="387.5" r="1.45" fill="#c49a2a"/>
<circle cx="499.7" cy="374.8" r="1.45" fill="#c49a2a"/>
<circle cx="500.2" cy="362.5" r="1.45" fill="#c49a2a"/>
<circle cx="501.0" cy="391.0" r="1.45" fill="#c49a2a"/>
<circle cx="502.3" cy="405.0" r="1.45" fill="#c49a2a"/>
<circle cx="502.7" cy="379.9" r="1.45" fill="#c49a2a"/>
<circle cx="503.5" cy="416.3" r="1.45" fill="#c49a2a"/>
<circle cx="504.0" cy="366.8" r="1.45" fill="#c49a2a"/>
<circle cx="504.4" cy="379.8" r="1.45" fill="#c49a2a"/>
<circle cx="504.8" cy="376.1" r="1.45" fill="#c49a2a"/>
<circle cx="505.2" cy="382.3" r="1.45" fill="#c49a2a"/>
<circle cx="505.7" cy="406.6" r="1.45" fill="#c49a2a"/>
<circle cx="506.1" cy="381.8" r="1.45" fill="#c49a2a"/>
<circle cx="506.5" cy="379.6" r="1.45" fill="#c49a2a"/>
<circle cx="506.9" cy="395.6" r="1.45" fill="#c49a2a"/>
<circle cx="507.3" cy="371.2" r="1.45" fill="#c49a2a"/>
<circle cx="507.8" cy="395.5" r="1.45" fill="#c49a2a"/>
<circle cx="508.2" cy="373.0" r="1.45" fill="#c49a2a"/>
<circle cx="508.6" cy="394.9" r="1.45" fill="#c49a2a"/>
<circle cx="509.0" cy="375.9" r="1.45" fill="#c49a2a"/>
<circle cx="510.7" cy="369.0" r="1.45" fill="#c49a2a"/>
<circle cx="511.2" cy="380.3" r="1.45" fill="#c49a2a"/>
<circle cx="511.6" cy="388.1" r="1.45" fill="#c49a2a"/>
<circle cx="512.0" cy="378.1" r="1.45" fill="#c49a2a"/>
<circle cx="512.8" cy="392.3" r="1.45" fill="#c49a2a"/>
<circle cx="514.1" cy="418.1" r="1.45" fill="#c49a2a"/>
<circle cx="515.0" cy="366.6" r="1.45" fill="#c49a2a"/>
<circle cx="516.2" cy="372.3" r="1.45" fill="#c49a2a"/>
<circle cx="516.7" cy="397.8" r="1.45" fill="#c49a2a"/>
<circle cx="517.5" cy="388.2" r="1.45" fill="#c49a2a"/>
<circle cx="518.3" cy="363.8" r="1.45" fill="#c49a2a"/>
<circle cx="520.5" cy="362.3" r="1.45" fill="#c49a2a"/>
<circle cx="520.9" cy="405.6" r="1.45" fill="#c49a2a"/>
<circle cx="521.7" cy="386.7" r="1.45" fill="#c49a2a"/>
<circle cx="522.2" cy="426.3" r="1.45" fill="#c49a2a"/>
<circle cx="522.6" cy="400.4" r="1.45" fill="#c49a2a"/>
<circle cx="523.0" cy="357.5" r="1.45" fill="#c49a2a"/>
<circle cx="523.4" cy="361.2" r="1.45" fill="#c49a2a"/>
<circle cx="523.8" cy="365.1" r="1.45" fill="#c49a2a"/>
<circle cx="524.3" cy="364.4" r="1.45" fill="#c49a2a"/>
<circle cx="525.5" cy="376.5" r="1.45" fill="#c49a2a"/>
<circle cx="526.0" cy="384.0" r="1.45" fill="#c49a2a"/>
<circle cx="526.4" cy="396.3" r="1.45" fill="#c49a2a"/>
<circle cx="526.8" cy="406.3" r="1.45" fill="#c49a2a"/>
<circle cx="527.2" cy="377.0" r="1.45" fill="#c49a2a"/>
<circle cx="527.6" cy="380.1" r="1.45" fill="#c49a2a"/>
<circle cx="528.1" cy="388.0" r="1.45" fill="#c49a2a"/>
<circle cx="528.5" cy="381.8" r="1.45" fill="#c49a2a"/>
<circle cx="528.9" cy="414.6" r="1.45" fill="#c49a2a"/>
<circle cx="529.8" cy="367.4" r="1.45" fill="#c49a2a"/>
<circle cx="530.2" cy="421.2" r="1.45" fill="#c49a2a"/>
<circle cx="530.6" cy="361.5" r="1.45" fill="#c49a2a"/>
<circle cx="531.0" cy="378.5" r="1.45" fill="#c49a2a"/>
<circle cx="531.5" cy="395.8" r="1.45" fill="#c49a2a"/>
<circle cx="531.9" cy="370.8" r="1.45" fill="#c49a2a"/>
<circle cx="532.7" cy="413.7" r="1.45" fill="#c49a2a"/>
<circle cx="533.6" cy="399.3" r="1.45" fill="#c49a2a"/>
<circle cx="534.0" cy="377.9" r="1.45" fill="#c49a2a"/>
<circle cx="534.4" cy="360.8" r="1.45" fill="#c49a2a"/>
<circle cx="534.8" cy="381.3" r="1.45" fill="#c49a2a"/>
</g>
<rect x="305.6" y="260.5" width="230.7" height="185.8" fill="none" stroke="#000" stroke-width="2"/>
<line x1="305.60" y1="446.3" x2="305.60" y2="449.3" stroke="#000" stroke-width="1.5"/>
<text x="305.60" y="460.30" font-size="9.80" fill="#000" text-anchor="middle" font-weight="bold" stroke="#000" stroke-width="0.30" >0</text>
<line x1="344.05" y1="446.3" x2="344.05" y2="449.3" stroke="#000" stroke-width="1.5"/>
<text x="344.05" y="460.30" font-size="9.80" fill="#000" text-anchor="middle" font-weight="bold" stroke="#000" stroke-width="0.30" >5</text>
<line x1="382.50" y1="446.3" x2="382.50" y2="449.3" stroke="#000" stroke-width="1.5"/>
<text x="382.50" y="460.30" font-size="9.80" fill="#000" text-anchor="middle" font-weight="bold" stroke="#000" stroke-width="0.30" >10</text>
<line x1="420.95" y1="446.3" x2="420.95" y2="449.3" stroke="#000" stroke-width="1.5"/>
<text x="420.95" y="460.30" font-size="9.80" fill="#000" text-anchor="middle" font-weight="bold" stroke="#000" stroke-width="0.30" >15</text>
<line x1="459.40" y1="446.3" x2="459.40" y2="449.3" stroke="#000" stroke-width="1.5"/>
<text x="459.40" y="460.30" font-size="9.80" fill="#000" text-anchor="middle" font-weight="bold" stroke="#000" stroke-width="0.30" >20</text>
<line x1="497.85" y1="446.3" x2="497.85" y2="449.3" stroke="#000" stroke-width="1.5"/>
<text x="497.85" y="460.30" font-size="9.80" fill="#000" text-anchor="middle" font-weight="bold" stroke="#000" stroke-width="0.30" >25</text>
<line x1="536.30" y1="446.3" x2="536.30" y2="449.3" stroke="#000" stroke-width="1.5"/>
<text x="536.30" y="460.30" font-size="9.80" fill="#000" text-anchor="middle" font-weight="bold" stroke="#000" stroke-width="0.30" >30</text>
<line x1="324.82" y1="446.3" x2="324.82" y2="444.3" stroke="#000" stroke-width="1.2"/>
<line x1="363.27" y1="446.3" x2="363.27" y2="444.3" stroke="#000" stroke-width="1.2"/>
<line x1="401.73" y1="446.3" x2="401.73" y2="444.3" stroke="#000" stroke-width="1.2"/>
<line x1="440.17" y1="446.3" x2="440.17" y2="444.3" stroke="#000" stroke-width="1.2"/>
<line x1="478.62" y1="446.3" x2="478.62" y2="444.3" stroke="#000" stroke-width="1.2"/>
<line x1="517.07" y1="446.3" x2="517.07" y2="444.3" stroke="#000" stroke-width="1.2"/>
<line x1="305.6" y1="260.50" x2="303.6" y2="260.50" stroke="#000" stroke-width="1.5"/>
<text x="299.50" y="264.10" font-size="8.30" fill="#000" text-anchor="end" font-weight="bold" stroke="#000" stroke-width="0.30" >10<tspan baseline-shift="super" font-size="6">0</tspan></text>
<line x1="305.6" y1="292.97" x2="304.1" y2="292.97" stroke="#000" stroke-width="1"/>
<line x1="305.6" y1="284.79" x2="304.1" y2="284.79" stroke="#000" stroke-width="1"/>
<line x1="305.6" y1="278.98" x2="304.1" y2="278.98" stroke="#000" stroke-width="1"/>
<line x1="305.6" y1="274.48" x2="304.1" y2="274.48" stroke="#000" stroke-width="1"/>
<line x1="305.6" y1="270.80" x2="304.1" y2="270.80" stroke="#000" stroke-width="1"/>
<line x1="305.6" y1="267.70" x2="304.1" y2="267.70" stroke="#000" stroke-width="1"/>
<line x1="305.6" y1="265.00" x2="304.1" y2="265.00" stroke="#000" stroke-width="1"/>
<line x1="305.6" y1="262.63" x2="304.1" y2="262.63" stroke="#000" stroke-width="1"/>
<line x1="305.6" y1="306.95" x2="303.6" y2="306.95" stroke="#000" stroke-width="1.5"/>
<text x="299.50" y="310.55" font-size="8.30" fill="#000" text-anchor="end" font-weight="bold" stroke="#000" stroke-width="0.30" >10<tspan baseline-shift="super" font-size="6">&#8722;1</tspan></text>
<line x1="305.6" y1="339.42" x2="304.1" y2="339.42" stroke="#000" stroke-width="1"/>
<line x1="305.6" y1="331.24" x2="304.1" y2="331.24" stroke="#000" stroke-width="1"/>
<line x1="305.6" y1="325.43" x2="304.1" y2="325.43" stroke="#000" stroke-width="1"/>
<line x1="305.6" y1="320.93" x2="304.1" y2="320.93" stroke="#000" stroke-width="1"/>
<line x1="305.6" y1="317.25" x2="304.1" y2="317.25" stroke="#000" stroke-width="1"/>
<line x1="305.6" y1="314.15" x2="304.1" y2="314.15" stroke="#000" stroke-width="1"/>
<line x1="305.6" y1="311.45" x2="304.1" y2="311.45" stroke="#000" stroke-width="1"/>
<line x1="305.6" y1="309.08" x2="304.1" y2="309.08" stroke="#000" stroke-width="1"/>
<line x1="305.6" y1="353.40" x2="303.6" y2="353.40" stroke="#000" stroke-width="1.5"/>
<text x="299.50" y="357.00" font-size="8.30" fill="#000" text-anchor="end" font-weight="bold" stroke="#000" stroke-width="0.30" >10<tspan baseline-shift="super" font-size="6">&#8722;2</tspan></text>
<line x1="305.6" y1="385.87" x2="304.1" y2="385.87" stroke="#000" stroke-width="1"/>
<line x1="305.6" y1="377.69" x2="304.1" y2="377.69" stroke="#000" stroke-width="1"/>
<line x1="305.6" y1="371.88" x2="304.1" y2="371.88" stroke="#000" stroke-width="1"/>
<line x1="305.6" y1="367.38" x2="304.1" y2="367.38" stroke="#000" stroke-width="1"/>
<line x1="305.6" y1="363.70" x2="304.1" y2="363.70" stroke="#000" stroke-width="1"/>
<line x1="305.6" y1="360.60" x2="304.1" y2="360.60" stroke="#000" stroke-width="1"/>
<line x1="305.6" y1="357.90" x2="304.1" y2="357.90" stroke="#000" stroke-width="1"/>
<line x1="305.6" y1="355.53" x2="304.1" y2="355.53" stroke="#000" stroke-width="1"/>
<line x1="305.6" y1="399.85" x2="303.6" y2="399.85" stroke="#000" stroke-width="1.5"/>
<text x="299.50" y="403.45" font-size="8.30" fill="#000" text-anchor="end" font-weight="bold" stroke="#000" stroke-width="0.30" >10<tspan baseline-shift="super" font-size="6">&#8722;3</tspan></text>
<line x1="305.6" y1="432.32" x2="304.1" y2="432.32" stroke="#000" stroke-width="1"/>
<line x1="305.6" y1="424.14" x2="304.1" y2="424.14" stroke="#000" stroke-width="1"/>
<line x1="305.6" y1="418.33" x2="304.1" y2="418.33" stroke="#000" stroke-width="1"/>
<line x1="305.6" y1="413.83" x2="304.1" y2="413.83" stroke="#000" stroke-width="1"/>
<line x1="305.6" y1="410.15" x2="304.1" y2="410.15" stroke="#000" stroke-width="1"/>
<line x1="305.6" y1="407.05" x2="304.1" y2="407.05" stroke="#000" stroke-width="1"/>
<line x1="305.6" y1="404.35" x2="304.1" y2="404.35" stroke="#000" stroke-width="1"/>
<line x1="305.6" y1="401.98" x2="304.1" y2="401.98" stroke="#000" stroke-width="1"/>
<line x1="305.6" y1="446.30" x2="303.6" y2="446.30" stroke="#000" stroke-width="1.5"/>
<text x="299.50" y="449.90" font-size="8.30" fill="#000" text-anchor="end" font-weight="bold" stroke="#000" stroke-width="0.30" >10<tspan baseline-shift="super" font-size="6">&#8722;4</tspan></text>
<text x="421.30" y="479.10" font-size="12.40" fill="#000" text-anchor="middle" font-weight="bold" textLength="53.7" lengthAdjust="spacingAndGlyphs" stroke="#000" stroke-width="0.30" >Time (μs)</text>
<g transform="translate(281,349.3) rotate(-90)">
<text x="0.00" y="0.00" font-size="11.50" fill="#000" text-anchor="middle" font-weight="bold" textLength="57.0" lengthAdjust="spacingAndGlyphs" stroke="#000" stroke-width="0.30" >Intensity</text>
</g>
<rect x="421.1" y="266.5" width="2.4" height="2.4" fill="#333"/>
<text x="433.30" y="270.20" font-size="7.20" fill="#454545" text-anchor="start" font-weight="bold" textLength="97.0" lengthAdjust="spacingAndGlyphs" stroke="#454545" stroke-width="0.30" >ODASnBr<tspan baseline-shift="sub" font-size="5">4</tspan>(EtOH), τ<tspan baseline-shift="sub" font-size="5">avg</tspan> = 2.9 μs</text>
<rect x="421.1" y="278.0" width="2.4" height="2.4" fill="#6a6040"/>
<text x="433.30" y="281.70" font-size="7.20" fill="#a88060" text-anchor="start" font-weight="bold" textLength="97.0" lengthAdjust="spacingAndGlyphs" stroke="#a88060" stroke-width="0.30" >ODASnBr<tspan baseline-shift="sub" font-size="5">4</tspan>[BuOH], τ<tspan baseline-shift="sub" font-size="5">avg</tspan> = 3.0 μs</text>
<rect x="421.1" y="291.1" width="2.4" height="2.4" fill="#8080d0"/>
<text x="433.30" y="294.80" font-size="7.20" fill="#9080d0" text-anchor="start" font-weight="bold" textLength="97.0" lengthAdjust="spacingAndGlyphs" stroke="#9080d0" stroke-width="0.30" >ODASnBr<tspan baseline-shift="sub" font-size="5">4</tspan>[PeOH], τ<tspan baseline-shift="sub" font-size="5">avg</tspan> = 3.2 μs</text>
<rect x="421.1" y="302.8" width="2.4" height="2.4" fill="#98b030"/>
<text x="433.30" y="306.50" font-size="7.20" fill="#a0a830" text-anchor="start" font-weight="bold" textLength="97.0" lengthAdjust="spacingAndGlyphs" stroke="#a0a830" stroke-width="0.30" >ODASnBr<tspan baseline-shift="sub" font-size="5">4</tspan>[HeOH], τ<tspan baseline-shift="sub" font-size="5">avg</tspan> = 3.1 μs</text>
</svg></body></html>
